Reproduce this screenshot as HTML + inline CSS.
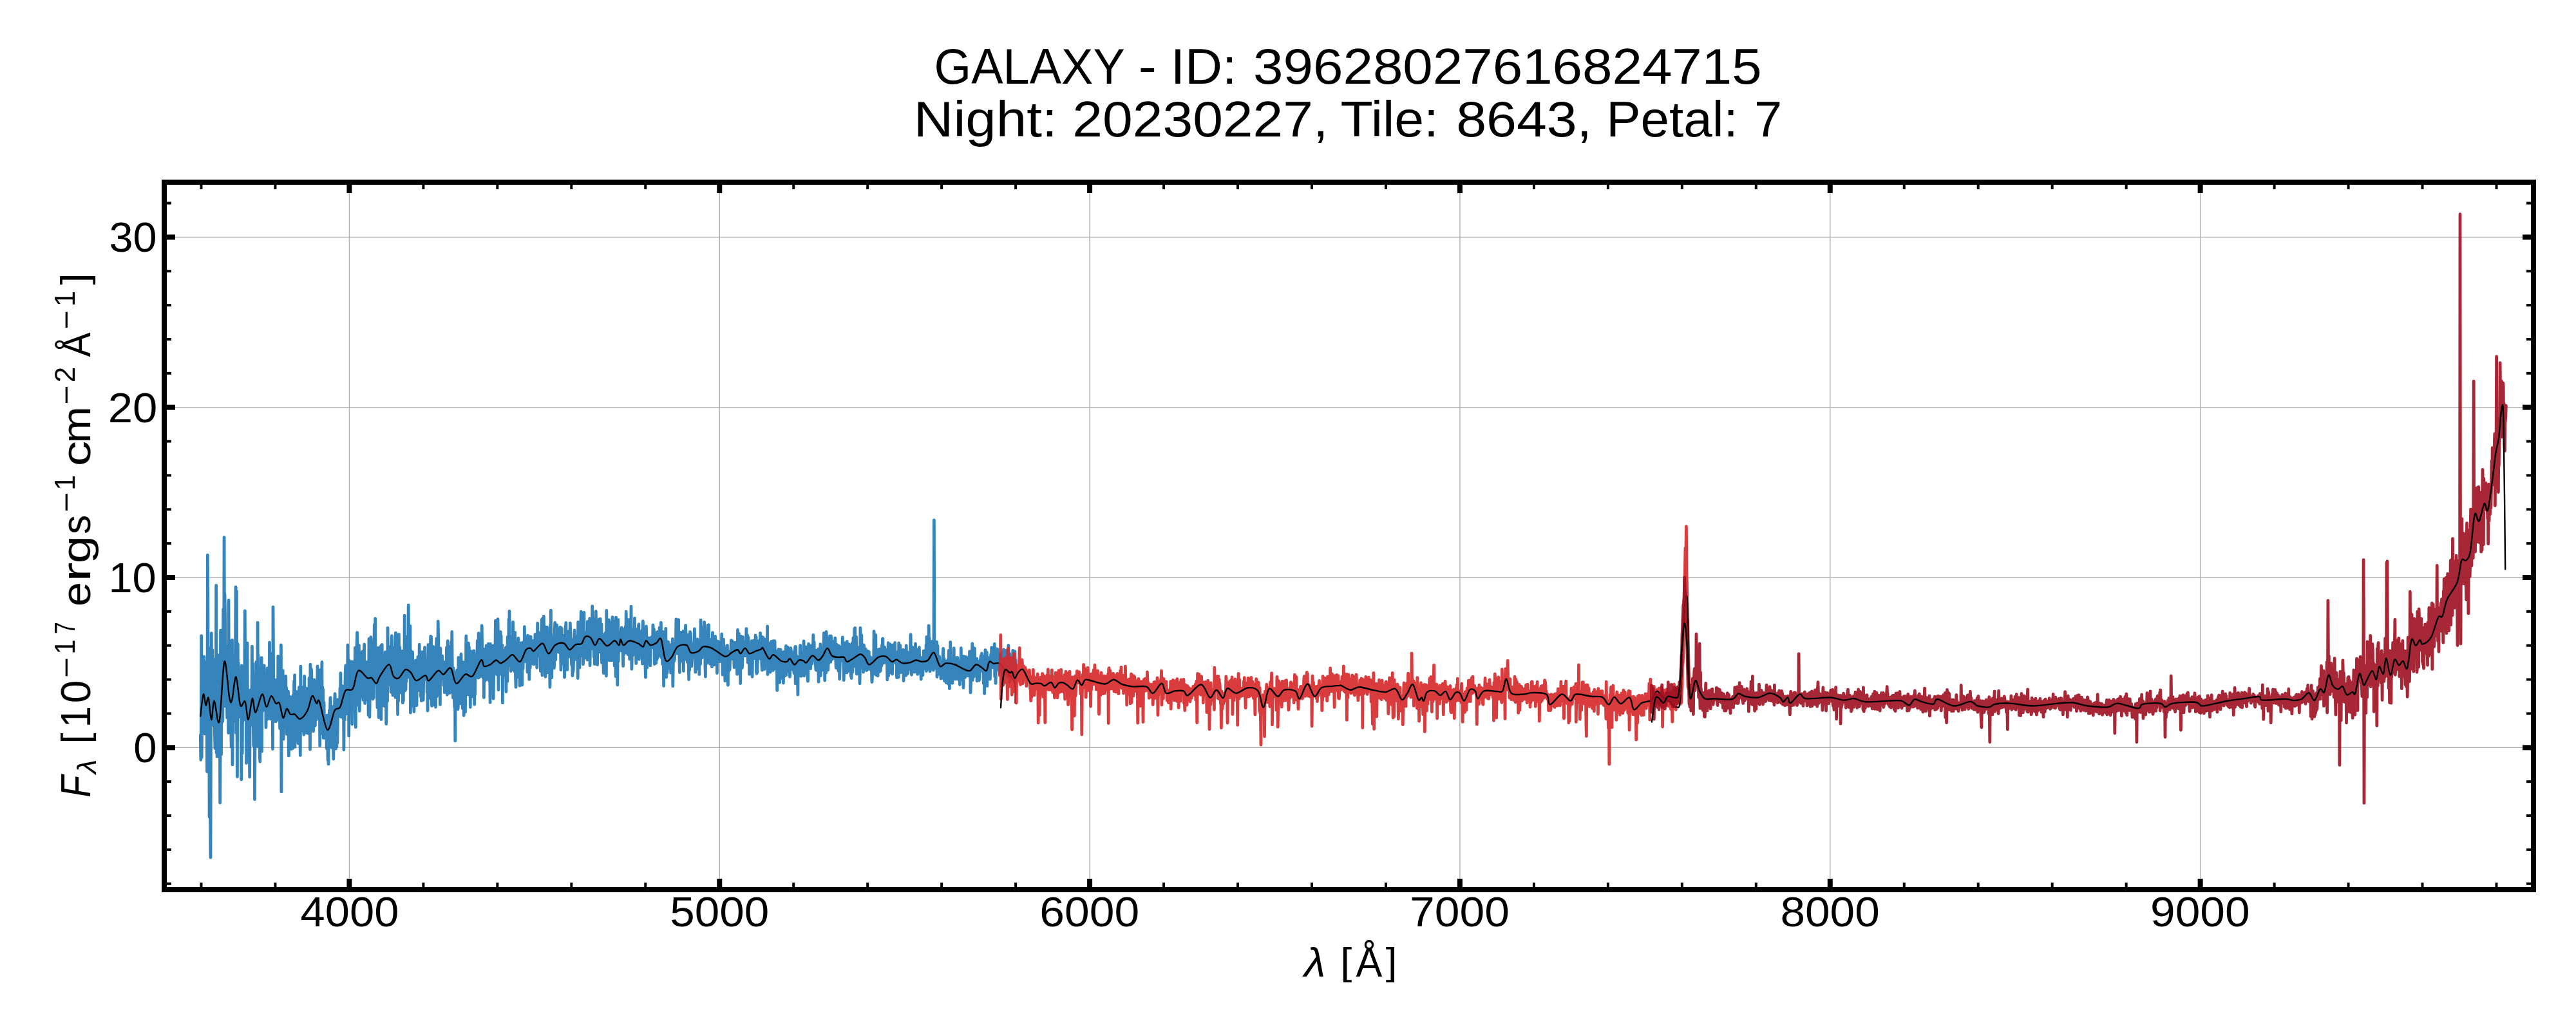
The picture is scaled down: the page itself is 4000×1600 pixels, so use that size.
<!DOCTYPE html>
<html><head><meta charset="utf-8"><title>GALAXY spectrum</title>
<style>html,body{margin:0;padding:0;background:#fff;overflow:hidden}svg{display:block}text{font-family:"Liberation Sans",sans-serif;fill:#000}</style></head>
<body><svg width="4000" height="1600" viewBox="0 0 4000 1600">
<rect x="0" y="0" width="4000" height="1600" fill="#fff"/>
<defs><clipPath id="ax"><rect x="255" y="283" width="3679" height="1099"/></clipPath></defs>
<g stroke="#b0b0b0" stroke-width="1.4" fill="none"><line x1="542.42" y1="283" x2="542.42" y2="1382"/><line x1="1117.26" y1="283" x2="1117.26" y2="1382"/><line x1="1692.10" y1="283" x2="1692.10" y2="1382"/><line x1="2266.94" y1="283" x2="2266.94" y2="1382"/><line x1="2841.78" y1="283" x2="2841.78" y2="1382"/><line x1="3416.62" y1="283" x2="3416.62" y2="1382"/><line x1="255" y1="1161.30" x2="3934" y2="1161.30"/><line x1="255" y1="897.00" x2="3934" y2="897.00"/><line x1="255" y1="632.70" x2="3934" y2="632.70"/><line x1="255" y1="368.40" x2="3934" y2="368.40"/></g>
<g clip-path="url(#ax)" fill="none" stroke-linejoin="round" stroke-linecap="round">
<path d="M311.3 1142.1 L311.8 1180.3 312.3 1133.8 312.7 987.7 313.2 1176.8 313.6 1133.3 314.1 1044.5 314.6 1137.9 315.0 1115.6 315.5 1106.0 315.9 1081.6 316.4 1128.0 316.9 1020.1 317.3 1071.2 317.8 1046.0 318.2 1139.9 318.7 1094.4 319.2 1068.3 319.6 1029.0 320.1 1072.7 320.5 1093.7 321.0 1068.6 321.5 1198.6 321.9 1173.1 322.4 862.2 322.8 929.7 323.3 1070.7 323.8 1050.0 324.2 1105.9 324.7 1109.6 325.1 1269.0 325.6 1007.6 326.1 1071.3 326.5 1272.0 327.0 1332.0 327.4 1166.2 327.9 1074.3 328.3 983.7 328.8 1127.2 329.3 1119.5 329.7 1009.4 330.2 1050.2 330.6 1096.0 331.1 1023.9 331.6 1088.0 332.0 1100.3 332.5 1092.6 332.9 1050.3 333.4 1137.7 333.9 1162.4 334.3 1120.1 334.8 1034.6 335.2 1155.0 335.7 909.5 336.2 1169.4 336.6 1024.0 337.1 1175.3 337.5 1107.0 338.0 1017.5 338.5 1089.0 338.9 1118.1 339.4 1136.0 339.8 1046.1 340.3 1039.1 340.8 1132.6 341.2 1079.1 341.7 1247.0 342.1 1156.2 342.6 979.1 343.1 1109.1 343.5 1172.0 344.0 1059.3 344.4 1018.2 344.9 1121.7 345.4 1081.5 345.8 1120.3 346.3 1029.5 346.7 946.5 347.2 1034.8 347.7 1006.7 348.1 834.6 348.6 1041.8 349.0 923.4 349.5 956.1 350.0 1097.1 350.4 1086.7 350.9 1003.3 351.3 1048.5 351.8 1080.8 352.3 1085.5 352.7 1115.0 353.2 1078.2 353.6 1058.9 354.1 1051.8 354.6 1138.6 355.0 932.5 355.5 1069.4 355.9 1083.5 356.4 995.1 356.9 1105.2 357.3 1044.5 357.8 1138.4 358.2 1077.8 358.7 1126.8 359.2 1160.5 359.6 1109.7 360.1 1033.8 360.5 994.1 361.0 1187.9 361.5 1073.4 361.9 1036.5 362.4 1083.4 362.8 1060.9 363.3 1119.6 363.8 1068.9 364.2 1065.1 364.7 1020.2 365.1 1086.1 365.6 996.9 366.1 912.0 366.5 1138.7 367.0 968.3 367.4 918.5 367.9 1095.5 368.4 1206.5 368.8 1011.0 369.3 1000.4 369.7 1105.3 370.2 1029.6 370.7 1051.1 371.1 1062.8 371.6 1113.6 372.0 1065.9 372.5 1105.7 373.0 1084.2 373.4 1049.9 373.9 1077.7 374.3 1043.7 374.8 1211.0 375.3 1033.9 375.7 1035.3 376.2 1170.5 376.6 1089.9 377.1 1089.5 377.6 1119.1 378.0 1069.5 378.5 1079.3 378.9 1113.3 379.4 1105.4 379.9 1029.6 380.3 949.0 380.8 1060.3 381.2 1038.6 381.7 1049.4 382.2 1078.5 382.6 1185.6 383.1 1043.1 383.5 1114.7 384.0 998.9 384.5 1111.4 384.9 1160.2 385.4 1104.5 385.8 1084.5 386.3 1126.1 386.8 1147.5 387.2 1143.2 387.7 1207.1 388.1 1115.2 388.6 1072.2 389.1 1093.4 389.5 1093.7 390.0 1100.3 390.4 1091.0 390.9 1098.7 391.4 1004.1 391.8 1126.7 392.3 1058.6 392.7 1030.9 393.2 1122.7 393.7 1158.3 394.1 1119.4 394.6 1104.9 395.0 1053.0 395.5 1241.8 396.0 1145.9 396.4 1049.0 396.9 1068.6 397.3 1109.6 397.8 1028.5 398.3 1111.0 398.7 1079.3 399.2 1159.5 399.6 1145.4 400.1 967.2 400.5 1098.4 401.0 1017.6 401.5 1147.0 401.9 1100.6 402.4 1117.5 402.8 1039.4 403.3 1175.6 403.8 1183.2 404.2 1035.9 404.7 1102.5 405.1 1051.9 405.6 1081.3 406.1 1021.7 406.5 1167.2 407.0 1033.3 407.4 1066.0 407.9 1104.4 408.4 1052.4 408.8 1072.7 409.3 1059.1 409.7 1080.3 410.2 1033.9 410.7 1069.0 411.1 1081.0 411.6 1076.6 412.0 1095.8 412.5 1081.2 413.0 1130.1 413.4 1082.6 413.9 1091.7 414.3 1066.8 414.8 1072.1 415.3 1037.9 415.7 1117.0 416.2 1041.4 416.6 1058.2 417.1 1106.5 417.6 1107.3 418.0 1070.6 418.5 997.8 418.9 1104.8 419.4 1096.6 419.9 1021.9 420.3 1116.9 420.8 1051.3 421.2 1032.3 421.7 1086.4 422.2 1075.2 422.6 1092.5 423.1 1014.7 423.5 1163.5 424.0 943.0 424.5 1020.1 424.9 1113.8 425.4 1072.7 425.8 1102.5 426.3 1074.8 426.8 1087.5 427.2 1101.2 427.7 1059.7 428.1 1120.9 428.6 1072.7 429.1 1055.9 429.5 1095.8 430.0 1111.3 430.4 1083.0 430.9 1056.5 431.4 1118.4 431.8 1019.3 432.3 1049.7 432.7 1094.2 433.2 1036.3 433.7 1093.7 434.1 1090.6 434.6 1131.7 435.0 1059.1 435.5 1072.8 436.0 1113.8 436.4 1002.0 436.9 1229.9 437.3 1077.5 437.8 1078.1 438.3 1144.2 438.7 1109.7 439.2 1041.7 439.6 1140.1 440.1 1148.2 440.6 1094.9 441.0 1100.5 441.5 1129.9 441.9 1073.4 442.4 1125.6 442.9 1115.0 443.3 1079.4 443.8 1050.2 444.2 1094.8 444.7 1068.3 445.2 1140.4 445.6 1107.1 446.1 1132.5 446.5 1108.1 447.0 1113.7 447.5 1074.1 447.9 1130.6 448.4 1174.0 448.8 1094.5 449.3 1084.4 449.8 1101.7 450.2 1090.1 450.7 1082.5 451.1 1114.7 451.6 1098.5 452.1 1163.6 452.5 1109.5 453.0 1121.6 453.4 1145.0 453.9 1098.3 454.4 1162.8 454.8 1086.0 455.3 1079.6 455.7 1096.0 456.2 1105.2 456.7 1058.1 457.1 1108.2 457.6 1048.6 458.0 1160.4 458.5 1107.2 459.0 1087.3 459.4 1078.1 459.9 1097.5 460.3 1103.7 460.8 1074.6 461.3 1079.5 461.7 1106.2 462.2 1094.7 462.6 1147.4 463.1 1154.8 463.6 1115.1 464.0 1131.8 464.5 1067.7 464.9 1138.5 465.4 1115.0 465.9 1133.8 466.3 1173.4 466.8 1035.1 467.2 1124.8 467.7 1076.1 468.2 1135.4 468.6 1067.5 469.1 1095.9 469.5 1120.0 470.0 1134.0 470.5 1114.5 470.9 1083.4 471.4 1091.3 471.8 1141.3 472.3 1109.5 472.7 1050.2 473.2 1138.2 473.7 1122.7 474.1 1138.1 474.6 1095.3 475.0 1135.4 475.5 1069.1 476.0 1125.3 476.4 1087.9 476.9 1127.9 477.3 1138.8 477.8 1077.1 478.3 1099.4 478.7 1101.1 479.2 1139.5 479.6 1121.5 480.1 1053.5 480.6 1109.9 481.0 1118.3 481.5 1164.3 481.9 1032.2 482.4 1070.0 482.9 1132.7 483.3 1039.2 483.8 1043.2 484.2 1100.5 484.7 1116.1 485.2 1059.2 485.6 1101.2 486.1 1087.6 486.5 1136.0 487.0 1085.1 487.5 1119.5 487.9 1056.0 488.4 1081.1 488.8 1084.9 489.3 1127.4 489.8 1109.3 490.2 1065.1 490.7 1114.2 491.1 1117.9 491.6 1088.7 492.1 1083.6 492.5 1085.4 493.0 1034.8 493.4 1097.7 493.9 1098.9 494.4 1061.8 494.8 1115.3 495.3 1044.4 495.7 1071.5 496.2 1074.7 496.7 1158.2 497.1 1040.7 497.6 1114.1 498.0 1128.3 498.5 1111.2 499.0 1139.4 499.4 1068.8 499.9 1028.3 500.3 1130.5 500.8 1067.4 501.3 1097.7 501.7 1071.2 502.2 1146.4 502.6 1141.9 503.1 1091.2 503.6 1146.4 504.0 1122.2 504.5 1115.3 504.9 1123.4 505.4 1116.4 505.9 1145.0 506.3 1136.6 506.8 1116.5 507.2 1162.8 507.7 1111.1 508.2 1142.4 508.6 1147.0 509.1 1180.6 509.5 1113.9 510.0 1186.9 510.5 1134.0 510.9 1148.6 511.4 1103.5 511.8 1143.9 512.3 1124.9 512.8 1085.7 513.2 1083.6 513.7 1101.3 514.1 1096.1 514.6 1153.2 515.1 1161.4 515.5 1143.4 516.0 1125.4 516.4 1098.2 516.9 1112.9 517.4 1139.1 517.8 1179.0 518.3 1137.6 518.7 1097.0 519.2 1106.3 519.7 1087.9 520.1 1077.7 520.6 1097.1 521.0 1109.4 521.5 1163.2 522.0 1104.0 522.4 1146.8 522.9 1160.0 523.3 1104.0 523.8 1154.1 524.3 1124.4 524.7 1086.7 525.2 1108.9 525.6 1100.6 526.1 1091.9 526.6 1092.7 527.0 1103.7 527.5 1112.9 527.9 1069.1 528.4 1097.0 528.9 1045.7 529.3 1103.1 529.8 1113.7 530.2 1097.2 530.7 1099.8 531.2 1108.5 531.6 1065.7 532.1 1078.4 532.5 1101.7 533.0 1116.5 533.5 1095.1 533.9 1164.8 534.4 1076.4 534.8 1110.9 535.3 1118.3 535.8 1070.8 536.2 1046.9 536.7 1033.9 537.1 1078.0 537.6 1109.1 538.1 1081.4 538.5 1078.0 539.0 1059.8 539.4 1090.6 539.9 1001.9 540.4 1079.5 540.8 1072.7 541.3 1026.7 541.7 1142.9 542.2 1026.0 542.6 1036.0 543.1 1031.9 543.6 1107.5 544.0 1041.9 544.5 1092.8 544.9 1090.0 545.4 1079.1 545.9 1027.8 546.3 1050.4 546.8 1125.0 547.2 1028.0 547.7 1042.9 548.2 1063.5 548.6 1093.7 549.1 1074.0 549.5 1088.5 550.0 1027.9 550.5 1092.0 550.9 1078.2 551.4 1006.1 551.8 1106.8 552.3 1129.7 552.8 1028.5 553.2 1053.8 553.7 1095.9 554.1 1000.7 554.6 982.6 555.1 1003.6 555.5 1025.9 556.0 1024.0 556.4 1061.8 556.9 1051.1 557.4 1002.3 557.8 1061.6 558.3 1104.4 558.7 1082.8 559.2 1076.4 559.7 1045.3 560.1 1076.9 560.6 1014.0 561.0 1070.1 561.5 1043.3 562.0 1083.1 562.4 1061.9 562.9 1011.9 563.3 1051.7 563.8 1087.4 564.3 1011.7 564.7 1030.6 565.2 1024.2 565.6 1001.0 566.1 1080.9 566.6 1092.5 567.0 1076.4 567.5 1058.7 567.9 1049.6 568.4 1059.3 568.9 1028.3 569.3 1081.2 569.8 1086.5 570.2 1083.2 570.7 1036.0 571.2 1055.7 571.6 1047.8 572.1 1110.8 572.5 1058.9 573.0 992.5 573.5 1066.0 573.9 1113.8 574.4 1075.2 574.8 1081.5 575.3 1054.3 575.8 989.7 576.2 994.9 576.7 1013.1 577.1 1049.1 577.6 1063.7 578.1 1076.4 578.5 1043.9 579.0 1086.1 579.4 1046.9 579.9 1033.8 580.4 1084.2 580.8 1028.1 581.3 970.5 581.7 1024.5 582.2 1062.1 582.7 960.9 583.1 1048.7 583.6 1050.0 584.0 1015.5 584.5 1014.0 585.0 1045.7 585.4 1042.1 585.9 1099.0 586.3 1069.7 586.8 1006.3 587.3 1028.6 587.7 1077.5 588.2 1114.6 588.6 1065.5 589.1 1062.1 589.6 1110.7 590.0 1049.7 590.5 1039.9 590.9 1004.1 591.4 1032.2 591.9 1117.5 592.3 1002.1 592.8 1047.2 593.2 1001.4 593.7 1049.7 594.2 1073.3 594.6 1036.7 595.1 1067.1 595.5 1066.2 596.0 1056.9 596.5 1096.7 596.9 1066.3 597.4 1031.3 597.8 1018.7 598.3 1012.9 598.8 1054.3 599.2 1028.3 599.7 1124.6 600.1 1095.9 600.6 1030.0 601.1 1025.8 601.5 1089.2 602.0 975.4 602.4 1020.2 602.9 1064.0 603.4 1004.4 603.8 1017.6 604.3 1021.6 604.7 1054.8 605.2 1039.5 605.7 1049.1 606.1 1056.4 606.6 1039.8 607.0 1075.2 607.5 1018.3 608.0 997.2 608.4 987.6 608.9 993.8 609.3 1028.8 609.8 1079.9 610.3 1054.1 610.7 1031.0 611.2 1016.7 611.6 1033.9 612.1 1038.0 612.6 1033.1 613.0 1005.9 613.5 1036.2 613.9 1083.4 614.4 983.1 614.8 1044.1 615.3 985.1 615.8 1057.7 616.2 1028.6 616.7 986.7 617.1 1055.6 617.6 1109.7 618.1 1056.1 618.5 1089.3 619.0 1050.8 619.4 985.3 619.9 1067.8 620.4 1038.7 620.8 1005.4 621.3 1075.2 621.7 1059.0 622.2 1033.0 622.7 1076.1 623.1 1021.0 623.6 1067.8 624.0 1017.7 624.5 1063.2 625.0 1011.5 625.4 1091.9 625.9 1052.7 626.3 1089.0 626.8 1017.9 627.3 1028.1 627.7 1068.6 628.2 956.2 628.6 1008.0 629.1 1072.9 629.6 1054.8 630.0 1071.0 630.5 1031.1 630.9 1058.6 631.4 1018.5 631.9 998.7 632.3 988.9 632.8 1024.8 633.2 1025.1 633.7 1022.9 634.2 940.0 634.6 980.8 635.1 1026.6 635.5 1052.4 636.0 1025.7 636.5 1016.7 636.9 972.5 637.4 1107.2 637.8 1010.5 638.3 1097.5 638.8 1094.4 639.2 1055.1 639.7 1029.5 640.1 1052.1 640.6 1012.9 641.1 1057.4 641.5 1050.1 642.0 1067.1 642.4 1080.7 642.9 1105.5 643.4 1040.7 643.8 1085.5 644.3 1029.6 644.7 1027.2 645.2 1036.4 645.7 1025.8 646.1 1086.9 646.6 1085.3 647.0 1095.8 647.5 1055.7 648.0 1064.6 648.4 1038.2 648.9 1020.4 649.3 1069.1 649.8 1063.4 650.3 1021.0 650.7 1072.5 651.2 1001.2 651.6 1048.7 652.1 1034.6 652.6 1037.5 653.0 1020.3 653.5 1082.1 653.9 1070.1 654.4 1088.6 654.9 1056.3 655.3 1012.6 655.8 1040.3 656.2 1015.4 656.7 1064.9 657.2 1087.4 657.6 1060.4 658.1 1032.0 658.5 1038.7 659.0 1055.8 659.5 1005.6 659.9 1053.6 660.4 1054.8 660.8 1032.9 661.3 1037.3 661.8 1055.7 662.2 1026.4 662.7 1027.0 663.1 1075.8 663.6 1059.7 664.1 1104.1 664.5 1024.7 665.0 1001.5 665.4 1083.7 665.9 1084.8 666.4 1034.0 666.8 1011.6 667.3 1053.6 667.7 1002.2 668.2 1043.8 668.7 988.3 669.1 1045.8 669.6 989.2 670.0 1044.8 670.5 1096.5 671.0 1042.9 671.4 1073.2 671.9 1030.7 672.3 1022.7 672.8 1004.3 673.3 1079.1 673.7 1046.0 674.2 1095.2 674.6 1011.7 675.1 1039.5 675.6 1047.9 676.0 1086.8 676.5 1098.4 676.9 1024.9 677.4 1010.0 677.9 991.8 678.3 1081.8 678.8 1039.4 679.2 1022.4 679.7 1039.4 680.2 965.2 680.6 990.0 681.1 1068.4 681.5 1052.9 682.0 1046.0 682.5 1012.5 682.9 1059.4 683.4 1094.5 683.8 1007.0 684.3 1043.5 684.8 1030.7 685.2 1054.2 685.7 1044.4 686.1 1040.0 686.6 1018.9 687.0 1044.5 687.5 1027.3 688.0 1041.3 688.4 1044.0 688.9 1064.7 689.3 1028.4 689.8 1035.5 690.3 1075.6 690.7 1037.8 691.2 1036.2 691.6 1068.4 692.1 1050.9 692.6 1045.2 693.0 1048.6 693.5 1006.0 693.9 1054.7 694.4 1079.3 694.9 1057.5 695.3 995.6 695.8 1048.2 696.2 1013.6 696.7 1032.8 697.2 1042.6 697.6 1004.3 698.1 1076.5 698.5 1035.9 699.0 1060.2 699.5 1055.3 699.9 1075.4 700.4 1072.3 700.8 997.5 701.3 1042.1 701.8 981.3 702.2 1030.8 702.7 1065.2 703.1 1072.1 703.6 1084.1 704.1 1038.0 704.5 1059.1 705.0 1054.1 705.4 1088.6 705.9 1099.0 706.4 1045.0 706.8 1150.9 707.3 1057.7 707.7 1048.7 708.2 1077.3 708.7 1081.8 709.1 1075.3 709.6 1041.1 710.0 1100.6 710.5 1060.1 711.0 1101.5 711.4 1096.9 711.9 1021.5 712.3 1029.3 712.8 1028.3 713.3 1063.0 713.7 1057.1 714.2 1062.7 714.6 1031.9 715.1 1066.2 715.6 1093.1 716.0 1016.0 716.5 1047.5 716.9 1059.4 717.4 1048.4 717.9 1046.1 718.3 1100.4 718.8 1086.4 719.2 1073.9 719.7 1028.6 720.2 1111.6 720.6 1058.9 721.1 1032.4 721.5 1038.6 722.0 1033.9 722.5 1105.9 722.9 1052.9 723.4 1049.1 723.8 988.0 724.3 1068.0 724.8 1018.5 725.2 1016.7 725.7 1064.9 726.1 1024.3 726.6 1071.2 727.1 1079.2 727.5 999.2 728.0 1044.8 728.4 1005.4 728.9 1047.1 729.4 1073.9 729.8 1011.6 730.3 1098.5 730.7 1040.7 731.2 1017.0 731.7 1046.0 732.1 1071.2 732.6 1012.0 733.0 1049.8 733.5 1012.4 734.0 1082.1 734.4 1052.7 734.9 1036.0 735.3 1074.9 735.8 1010.9 736.3 1034.3 736.7 1094.2 737.2 1039.9 737.6 1079.2 738.1 1046.8 738.6 1021.7 739.0 1033.2 739.5 1041.0 739.9 1027.0 740.4 1015.0 740.9 1015.3 741.3 995.5 741.8 1037.6 742.2 1044.4 742.7 1053.1 743.2 983.6 743.6 1052.8 744.1 1029.9 744.5 991.2 745.0 1031.3 745.5 1049.6 745.9 1040.9 746.4 1045.5 746.8 1050.5 747.3 1049.4 747.8 1025.5 748.2 971.9 748.7 1008.1 749.1 1038.7 749.6 1017.7 750.1 1049.3 750.5 1053.2 751.0 1034.2 751.4 1083.6 751.9 1008.4 752.4 1058.8 752.8 1021.5 753.3 1013.3 753.7 1049.3 754.2 1017.5 754.7 1056.2 755.1 1002.8 755.6 1034.3 756.0 1011.1 756.5 1026.9 757.0 1023.2 757.4 1003.3 757.9 1049.9 758.3 1000.1 758.8 1006.9 759.2 1055.7 759.7 1057.7 760.2 1049.6 760.6 1041.0 761.1 1091.3 761.5 1000.1 762.0 1011.9 762.5 1005.1 762.9 1053.9 763.4 1037.7 763.8 1058.7 764.3 1054.8 764.8 1023.4 765.2 1007.7 765.7 1002.9 766.1 1085.3 766.6 1052.8 767.1 1042.8 767.5 1018.5 768.0 1021.8 768.4 1017.7 768.9 1017.9 769.4 964.1 769.8 1023.9 770.3 1015.4 770.7 1032.9 771.2 1031.1 771.7 1047.9 772.1 1026.0 772.6 1047.0 773.0 961.7 773.5 999.3 774.0 1071.5 774.4 996.9 774.9 1021.1 775.3 1046.5 775.8 1006.5 776.3 1047.5 776.7 993.3 777.2 981.3 777.6 996.0 778.1 987.5 778.6 1028.6 779.0 1020.8 779.5 1036.8 779.9 1002.1 780.4 1091.9 780.9 1025.3 781.3 1026.2 781.8 1038.6 782.2 1020.7 782.7 1010.7 783.2 1028.4 783.6 1049.0 784.1 1042.4 784.5 1049.0 785.0 1011.1 785.5 1005.6 785.9 1074.6 786.4 1018.4 786.8 1036.0 787.3 1042.1 787.8 1058.6 788.2 989.5 788.7 1010.7 789.1 1011.5 789.6 1014.4 790.1 961.9 790.5 1018.8 791.0 949.4 791.4 1027.8 791.9 1033.3 792.4 1034.4 792.8 989.7 793.3 1042.5 793.7 997.4 794.2 988.2 794.7 993.9 795.1 996.8 795.6 1021.4 796.0 1037.2 796.5 966.1 797.0 1004.7 797.4 1040.3 797.9 1023.7 798.3 1031.6 798.8 983.2 799.3 1043.3 799.7 982.5 800.2 1025.7 800.6 1054.5 801.1 1067.4 801.6 1034.7 802.0 1044.1 802.5 1008.5 802.9 1012.0 803.4 1052.2 803.9 1024.5 804.3 1021.8 804.8 991.4 805.2 1029.3 805.7 1041.7 806.2 1007.5 806.6 1014.8 807.1 1065.3 807.5 1032.1 808.0 1020.1 808.5 998.9 808.9 1010.3 809.4 1018.2 809.8 1055.9 810.3 1007.8 810.8 1064.1 811.2 998.4 811.7 1011.1 812.1 1038.7 812.6 1012.1 813.1 997.2 813.5 1012.8 814.0 1025.6 814.4 973.6 814.9 1007.3 815.4 1009.7 815.8 1001.8 816.3 1027.7 816.7 996.1 817.2 1000.5 817.7 1009.8 818.1 1025.9 818.6 1003.5 819.0 1044.0 819.5 987.1 820.0 1038.2 820.4 988.0 820.9 1004.1 821.3 1016.2 821.8 1055.4 822.3 1028.3 822.7 997.8 823.2 1037.3 823.6 1002.0 824.1 988.8 824.6 1018.0 825.0 1010.2 825.5 1030.6 825.9 996.3 826.4 1018.2 826.9 1024.5 827.3 1016.8 827.8 1010.1 828.2 995.2 828.7 1032.1 829.2 1014.1 829.6 1021.8 830.1 1002.0 830.5 1009.8 831.0 985.4 831.4 1010.6 831.9 1025.6 832.4 1009.8 832.8 1026.8 833.3 1013.9 833.7 1037.3 834.2 1001.5 834.7 968.2 835.1 1014.7 835.6 1000.8 836.0 982.2 836.5 1018.7 837.0 1009.7 837.4 1013.5 837.9 995.7 838.3 1007.3 838.8 1008.3 839.3 1042.3 839.7 986.7 840.2 1001.6 840.6 1009.7 841.1 962.6 841.6 965.1 842.0 1049.2 842.5 961.0 842.9 1013.0 843.4 981.0 843.9 983.7 844.3 957.4 844.8 982.4 845.2 1020.7 845.7 973.3 846.2 1018.1 846.6 1012.7 847.1 1051.3 847.5 997.0 848.0 1036.2 848.5 1028.8 848.9 1003.7 849.4 974.2 849.8 1044.9 850.3 982.5 850.8 1003.0 851.2 1033.6 851.7 1039.6 852.1 996.3 852.6 1013.5 853.1 1008.0 853.5 1039.0 854.0 1067.4 854.4 971.8 854.9 1031.4 855.4 948.1 855.8 1010.5 856.3 985.3 856.7 1052.6 857.2 1012.0 857.7 991.7 858.1 996.3 858.6 994.1 859.0 1010.2 859.5 1002.0 860.0 1019.2 860.4 1037.9 860.9 1019.0 861.3 976.4 861.8 967.1 862.3 985.7 862.7 1025.0 863.2 994.7 863.6 987.3 864.1 1004.7 864.6 970.8 865.0 976.7 865.5 1012.5 865.9 994.7 866.4 991.3 866.9 1007.9 867.3 988.2 867.8 985.9 868.2 990.7 868.7 1013.6 869.2 1001.8 869.6 974.4 870.1 993.7 870.5 1014.1 871.0 1040.5 871.5 975.2 871.9 1007.1 872.4 994.1 872.8 1017.4 873.3 1009.1 873.8 1031.1 874.2 1010.4 874.7 987.3 875.1 987.4 875.6 1008.3 876.1 1008.6 876.5 1052.2 877.0 1037.2 877.4 976.3 877.9 1009.6 878.4 973.9 878.8 967.4 879.3 1019.6 879.7 1015.9 880.2 982.3 880.7 1040.4 881.1 984.6 881.6 981.0 882.0 1020.6 882.5 1011.9 883.0 1004.2 883.4 1006.7 883.9 1013.4 884.3 1006.1 884.8 1005.2 885.3 967.9 885.7 979.4 886.2 1020.8 886.6 992.3 887.1 1018.6 887.6 1033.0 888.0 998.6 888.5 1011.8 888.9 1049.7 889.4 1019.8 889.9 1043.9 890.3 1036.9 890.8 1019.9 891.2 1001.0 891.7 985.1 892.2 979.0 892.6 1012.6 893.1 1011.8 893.5 997.7 894.0 1019.3 894.5 988.3 894.9 1024.7 895.4 1001.9 895.8 1000.2 896.3 1000.9 896.8 998.8 897.2 1053.6 897.7 966.5 898.1 1004.4 898.6 1026.9 899.1 1015.7 899.5 994.0 900.0 1037.2 900.4 977.7 900.9 972.6 901.4 1012.2 901.8 969.3 902.3 949.8 902.7 1018.6 903.2 1015.7 903.6 1014.2 904.1 987.6 904.6 1000.8 905.0 975.7 905.5 1031.8 905.9 1011.0 906.4 1009.1 906.9 951.5 907.3 1008.7 907.8 1022.2 908.2 1015.5 908.7 1005.8 909.2 989.3 909.6 982.2 910.1 1002.1 910.5 997.5 911.0 994.5 911.5 983.2 911.9 1025.0 912.4 965.3 912.8 989.4 913.3 977.8 913.8 1011.7 914.2 1020.1 914.7 1016.2 915.1 1006.1 915.6 961.0 916.1 1033.9 916.5 1001.3 917.0 988.3 917.4 991.8 917.9 985.0 918.4 1001.7 918.8 1000.1 919.3 986.9 919.7 941.6 920.2 995.2 920.7 1006.6 921.1 1008.4 921.6 995.0 922.0 1008.4 922.5 1021.1 923.0 990.7 923.4 1031.7 923.9 961.4 924.3 975.6 924.8 982.3 925.3 949.7 925.7 979.0 926.2 1024.9 926.6 1024.1 927.1 999.7 927.6 1032.6 928.0 1001.3 928.5 985.4 928.9 1000.0 929.4 991.5 929.9 1008.9 930.3 961.9 930.8 1012.9 931.2 982.7 931.7 1010.3 932.2 961.3 932.6 984.9 933.1 995.6 933.5 1013.0 934.0 969.8 934.5 1029.7 934.9 1005.7 935.4 985.4 935.8 1021.7 936.3 999.2 936.8 1021.3 937.2 1045.7 937.7 1014.2 938.1 988.0 938.6 990.6 939.1 1011.7 939.5 1006.1 940.0 983.5 940.4 987.4 940.9 1015.1 941.4 1050.0 941.8 948.5 942.3 1017.6 942.7 998.8 943.2 1018.7 943.7 1020.2 944.1 1003.2 944.6 981.1 945.0 973.0 945.5 963.0 946.0 1025.8 946.4 996.3 946.9 989.3 947.3 994.3 947.8 972.4 948.3 1005.5 948.7 1025.9 949.2 1021.9 949.6 966.6 950.1 1025.8 950.6 982.2 951.0 958.6 951.5 972.2 951.9 977.2 952.4 996.4 952.9 975.3 953.3 965.3 953.8 990.2 954.2 1034.3 954.7 981.4 955.2 1005.5 955.6 998.2 956.1 1050.8 956.5 959.1 957.0 1020.1 957.5 972.5 957.9 986.9 958.4 997.4 958.8 1064.1 959.3 984.9 959.8 962.6 960.2 1027.3 960.7 984.7 961.1 997.2 961.6 1000.5 962.1 1001.1 962.5 993.8 963.0 1000.8 963.4 1001.4 963.9 1010.7 964.4 985.8 964.8 980.3 965.3 974.9 965.7 1009.1 966.2 997.2 966.7 1010.1 967.1 1010.7 967.6 1034.6 968.0 1005.9 968.5 1017.1 969.0 977.6 969.4 979.8 969.9 994.8 970.3 976.3 970.8 1014.1 971.3 973.4 971.7 1001.0 972.2 950.2 972.6 976.9 973.1 991.8 973.6 993.1 974.0 962.2 974.5 999.7 974.9 1016.6 975.4 1009.8 975.8 983.4 976.3 984.5 976.8 972.3 977.2 1008.0 977.7 1023.9 978.1 985.0 978.6 961.9 979.1 999.7 979.5 1009.9 980.0 942.1 980.4 998.9 980.9 1039.3 981.4 1012.8 981.8 1007.6 982.3 1004.8 982.7 1018.0 983.2 978.5 983.7 980.6 984.1 1005.5 984.6 984.0 985.0 1002.8 985.5 960.1 986.0 1013.0 986.4 1014.9 986.9 999.2 987.3 1001.7 987.8 1030.6 988.3 977.5 988.7 981.0 989.2 977.6 989.6 990.9 990.1 979.5 990.6 1000.3 991.0 986.9 991.5 971.4 991.9 969.7 992.4 1024.3 992.9 999.4 993.3 996.6 993.8 1001.9 994.2 1000.1 994.7 1016.8 995.2 1013.3 995.6 991.1 996.1 986.8 996.5 982.0 997.0 979.1 997.5 1031.2 997.9 986.2 998.4 965.0 998.8 987.5 999.3 987.6 999.8 1008.5 1000.2 983.9 1000.7 1010.7 1001.1 1006.9 1001.6 1023.1 1002.1 1039.7 1002.5 1052.1 1003.0 1022.0 1003.4 972.9 1003.9 988.1 1004.4 1001.2 1004.8 1037.1 1005.3 1010.5 1005.7 1021.2 1006.2 994.9 1006.7 1010.2 1007.1 1013.1 1007.6 990.8 1008.0 1015.2 1008.5 1021.3 1009.0 997.9 1009.4 1021.2 1009.9 1033.9 1010.3 1003.5 1010.8 1002.0 1011.3 995.8 1011.7 989.6 1012.2 1004.5 1012.6 993.3 1013.1 995.0 1013.6 985.9 1014.0 971.0 1014.5 982.4 1014.9 1006.7 1015.4 977.3 1015.9 987.4 1016.3 1031.5 1016.8 1021.4 1017.2 986.0 1017.7 1010.9 1018.2 986.5 1018.6 1030.3 1019.1 987.4 1019.5 1000.1 1020.0 1024.8 1020.5 981.8 1020.9 1022.5 1021.4 981.3 1021.8 1001.2 1022.3 990.6 1022.8 994.2 1023.2 998.6 1023.7 993.7 1024.1 975.2 1024.6 1011.1 1025.1 1007.9 1025.5 1018.5 1026.0 1019.9 1026.4 967.1 1026.9 1019.5 1027.4 1021.9 1027.8 988.9 1028.3 1021.2 1028.7 1031.6 1029.2 995.2 1029.7 981.3 1030.1 1003.0 1030.6 1065.5 1031.0 1018.7 1031.5 993.0 1032.0 1013.6 1032.4 1001.5 1032.9 1015.1 1033.3 1026.7 1033.8 976.3 1034.3 1032.0 1034.7 1052.0 1035.2 1020.9 1035.6 1017.1 1036.1 1045.1 1036.6 999.8 1037.0 1000.0 1037.5 997.0 1037.9 1020.3 1038.4 1030.6 1038.9 1021.1 1039.3 1033.1 1039.8 1038.2 1040.2 1031.6 1040.7 1006.5 1041.2 1016.6 1041.6 1045.2 1042.1 1001.3 1042.5 1043.4 1043.0 1012.6 1043.5 1016.3 1043.9 998.4 1044.4 992.4 1044.8 1065.9 1045.3 1034.5 1045.7 1002.1 1046.2 1013.8 1046.7 1026.9 1047.1 1006.7 1047.6 1024.2 1048.0 1000.0 1048.5 1004.1 1049.0 1008.4 1049.4 1000.6 1049.9 961.9 1050.3 1008.0 1050.8 1011.8 1051.3 1015.1 1051.7 986.4 1052.2 1011.1 1052.6 1008.6 1053.1 970.9 1053.6 962.6 1054.0 1013.3 1054.5 986.1 1054.9 1023.0 1055.4 1044.5 1055.9 992.9 1056.3 990.8 1056.8 1003.6 1057.2 1016.4 1057.7 982.2 1058.2 1027.1 1058.6 1022.2 1059.1 1015.9 1059.5 993.1 1060.0 1020.5 1060.5 1019.3 1060.9 980.5 1061.4 1042.4 1061.8 997.3 1062.3 1009.8 1062.8 992.9 1063.2 1010.0 1063.7 1024.5 1064.1 987.4 1064.6 971.3 1065.1 993.9 1065.5 1004.0 1066.0 988.0 1066.4 1000.5 1066.9 1002.4 1067.4 1028.6 1067.8 986.1 1068.3 1012.5 1068.7 997.1 1069.2 1033.0 1069.7 1055.6 1070.1 1014.7 1070.6 1041.1 1071.0 1000.6 1071.5 981.3 1072.0 988.2 1072.4 983.2 1072.9 995.7 1073.3 1009.3 1073.8 1035.2 1074.3 1026.7 1074.7 1022.2 1075.2 1005.5 1075.6 999.9 1076.1 1013.9 1076.6 1015.8 1077.0 1017.9 1077.5 1019.9 1077.9 1010.7 1078.4 976.9 1078.9 991.9 1079.3 997.2 1079.8 1044.2 1080.2 1004.5 1080.7 1024.9 1081.2 1039.5 1081.6 1018.4 1082.1 1004.8 1082.5 1006.5 1083.0 992.9 1083.5 1017.5 1083.9 1032.7 1084.4 1022.2 1084.8 1025.8 1085.3 1024.3 1085.8 1047.7 1086.2 998.3 1086.7 1012.5 1087.1 1022.2 1087.6 1031.8 1088.1 963.2 1088.5 998.1 1089.0 1003.4 1089.4 987.7 1089.9 1022.1 1090.4 1010.0 1090.8 998.1 1091.3 974.7 1091.7 980.1 1092.2 986.4 1092.7 1013.1 1093.1 982.2 1093.6 966.5 1094.0 978.0 1094.5 994.0 1095.0 1035.9 1095.4 1051.2 1095.9 996.2 1096.3 1022.5 1096.8 1031.0 1097.3 1028.9 1097.7 1003.1 1098.2 981.3 1098.6 996.4 1099.1 971.1 1099.6 1009.9 1100.0 1019.9 1100.5 970.7 1100.9 1004.7 1101.4 1011.1 1101.9 1028.8 1102.3 1031.2 1102.8 1020.6 1103.2 993.3 1103.7 999.4 1104.2 1028.6 1104.6 995.6 1105.1 1006.2 1105.5 1035.9 1106.0 1009.9 1106.5 982.6 1106.9 1002.7 1107.4 1020.1 1107.8 1005.2 1108.3 1030.2 1108.8 1032.7 1109.2 997.5 1109.7 1000.5 1110.1 1008.1 1110.6 988.3 1111.1 1017.5 1111.5 1007.6 1112.0 1025.5 1112.4 1000.4 1112.9 995.6 1113.4 1045.6 1113.8 996.2 1114.3 1001.8 1114.7 999.4 1115.2 1007.5 1115.7 996.6 1116.1 1012.8 1116.6 1001.0 1117.0 1006.6 1117.5 1021.1 1117.9 1027.5 1118.4 1023.5 1118.9 1001.9 1119.3 1022.8 1119.8 1013.6 1120.2 1014.2 1120.7 985.0 1121.2 1028.9 1121.6 1014.4 1122.1 1048.2 1122.5 1029.1 1123.0 997.5 1123.5 993.1 1123.9 1039.2 1124.4 1002.7 1124.8 1031.3 1125.3 1013.7 1125.8 1057.6 1126.2 1021.1 1126.7 1047.4 1127.1 1043.8 1127.6 1010.9 1128.1 1013.1 1128.5 1045.7 1129.0 1018.5 1129.4 1002.5 1129.9 1039.8 1130.4 1064.3 1130.8 1016.8 1131.3 1042.6 1131.7 1014.1 1132.2 1041.3 1132.7 1012.2 1133.1 1040.4 1133.6 1025.9 1134.0 1012.5 1134.5 1019.8 1135.0 1005.5 1135.4 994.7 1135.9 995.7 1136.3 1013.5 1136.8 995.3 1137.3 1022.1 1137.7 1023.6 1138.2 1022.3 1138.6 1004.7 1139.1 1014.4 1139.6 1012.8 1140.0 1036.8 1140.5 998.3 1140.9 1005.7 1141.4 1008.2 1141.9 1009.6 1142.3 998.5 1142.8 1000.4 1143.2 1029.7 1143.7 999.8 1144.2 1027.5 1144.6 1047.3 1145.1 1033.5 1145.5 978.5 1146.0 1025.3 1146.5 1020.6 1146.9 1022.4 1147.4 984.2 1147.8 1027.4 1148.3 995.0 1148.8 1038.1 1149.2 1034.7 1149.7 1061.6 1150.1 1009.3 1150.6 988.5 1151.1 1033.7 1151.5 1030.1 1152.0 1007.2 1152.4 1037.6 1152.9 1025.1 1153.4 989.4 1153.8 1005.5 1154.3 1003.3 1154.7 1008.7 1155.2 1013.5 1155.7 997.2 1156.1 1005.4 1156.6 1018.8 1157.0 1006.8 1157.5 1003.9 1158.0 1003.8 1158.4 1008.0 1158.9 976.6 1159.3 1013.7 1159.8 993.3 1160.3 1013.8 1160.7 986.6 1161.2 1029.3 1161.6 1017.8 1162.1 990.4 1162.6 1018.9 1163.0 1001.9 1163.5 1047.4 1163.9 1024.9 1164.4 1002.2 1164.9 1019.9 1165.3 1015.2 1165.8 1036.6 1166.2 1021.7 1166.7 1024.2 1167.2 995.6 1167.6 1028.8 1168.1 1051.3 1168.5 1025.7 1169.0 1013.7 1169.5 1017.1 1169.9 997.5 1170.4 1017.1 1170.8 994.6 1171.3 1014.3 1171.8 1006.6 1172.2 998.7 1172.7 1023.0 1173.1 986.9 1173.6 1011.9 1174.1 989.5 1174.5 1044.0 1175.0 1046.3 1175.4 1026.6 1175.9 1044.6 1176.4 1021.9 1176.8 1020.9 1177.3 1004.0 1177.7 995.7 1178.2 1013.2 1178.7 1001.6 1179.1 1003.2 1179.6 1023.1 1180.0 1008.2 1180.5 983.3 1181.0 1006.1 1181.4 996.5 1181.9 1004.3 1182.3 990.2 1182.8 1029.4 1183.3 1041.2 1183.7 989.4 1184.2 1019.3 1184.6 1018.2 1185.1 990.4 1185.6 1011.3 1186.0 1034.5 1186.5 1025.6 1186.9 1039.6 1187.4 992.8 1187.9 1000.8 1188.3 1019.3 1188.8 1021.1 1189.2 1016.3 1189.7 1010.1 1190.1 1010.5 1190.6 1007.9 1191.1 1026.7 1191.5 972.9 1192.0 1047.8 1192.4 1012.5 1192.9 997.9 1193.4 1032.3 1193.8 999.9 1194.3 1030.3 1194.7 1016.5 1195.2 1033.0 1195.7 1035.9 1196.1 1044.1 1196.6 1013.3 1197.0 1016.3 1197.5 1020.6 1198.0 996.4 1198.4 1030.1 1198.9 1021.8 1199.3 996.4 1199.8 1039.3 1200.3 1041.6 1200.7 995.6 1201.2 1027.7 1201.6 1039.5 1202.1 1032.9 1202.6 1002.4 1203.0 995.7 1203.5 1017.8 1203.9 1011.7 1204.4 1020.3 1204.9 1019.1 1205.3 1030.1 1205.8 1012.0 1206.2 1019.2 1206.7 1072.6 1207.2 1020.4 1207.6 1035.5 1208.1 1028.2 1208.5 1027.4 1209.0 1008.6 1209.5 1033.3 1209.9 1023.9 1210.4 1039.0 1210.8 1060.2 1211.3 1029.0 1211.8 1039.1 1212.2 1009.2 1212.7 1028.9 1213.1 1053.2 1213.6 1026.0 1214.1 1016.3 1214.5 1030.6 1215.0 1024.1 1215.4 1023.2 1215.9 1021.0 1216.4 1061.0 1216.8 1012.7 1217.3 1020.5 1217.7 1017.9 1218.2 1048.7 1218.7 1023.0 1219.1 1049.9 1219.6 1030.7 1220.0 1027.5 1220.5 1003.3 1221.0 1048.6 1221.4 1037.3 1221.9 1035.1 1222.3 1025.8 1222.8 1020.3 1223.3 1005.4 1223.7 1042.4 1224.2 1030.5 1224.6 1019.4 1225.1 1014.4 1225.6 1026.5 1226.0 1022.6 1226.5 1051.4 1226.9 1037.1 1227.4 1014.6 1227.9 1006.6 1228.3 1021.9 1228.8 1011.1 1229.2 1028.4 1229.7 1034.6 1230.2 1039.1 1230.6 1036.0 1231.1 1026.4 1231.5 1040.4 1232.0 1015.8 1232.5 1030.1 1232.9 1045.8 1233.4 1037.6 1233.8 1011.2 1234.3 1012.7 1234.8 1004.5 1235.2 1061.8 1235.7 1004.7 1236.1 1028.1 1236.6 1061.0 1237.1 1047.7 1237.5 1051.3 1238.0 1020.2 1238.4 1040.7 1238.9 1079.1 1239.4 1026.7 1239.8 1033.8 1240.3 1021.1 1240.7 1025.9 1241.2 1032.5 1241.7 1049.7 1242.1 1011.1 1242.6 1002.3 1243.0 1026.9 1243.5 1030.0 1244.0 1050.4 1244.4 1038.8 1244.9 1016.2 1245.3 1036.3 1245.8 1045.7 1246.3 1031.7 1246.7 1021.2 1247.2 1038.4 1247.6 1021.1 1248.1 995.9 1248.6 1050.1 1249.0 1006.2 1249.5 1022.6 1249.9 1023.1 1250.4 1023.1 1250.9 1024.2 1251.3 1005.0 1251.8 1038.4 1252.2 1030.2 1252.7 1029.9 1253.2 1046.7 1253.6 1046.6 1254.1 1050.1 1254.5 1058.2 1255.0 1034.1 1255.5 1000.1 1255.9 1029.0 1256.4 1025.1 1256.8 1025.6 1257.3 1013.8 1257.8 1008.4 1258.2 1036.2 1258.7 1038.6 1259.1 1002.9 1259.6 1030.3 1260.1 1017.9 1260.5 1013.6 1261.0 1031.2 1261.4 1018.2 1261.9 1009.9 1262.3 1020.5 1262.8 986.4 1263.3 1010.3 1263.7 1013.2 1264.2 997.4 1264.6 1024.2 1265.1 1026.1 1265.6 1011.8 1266.0 1019.4 1266.5 1033.9 1266.9 1040.7 1267.4 1010.4 1267.9 1029.2 1268.3 1041.3 1268.8 1023.7 1269.2 1011.6 1269.7 1012.0 1270.2 1019.8 1270.6 1008.1 1271.1 1059.2 1271.5 1015.3 1272.0 1030.8 1272.5 1027.1 1272.9 1034.2 1273.4 1016.6 1273.8 1000.7 1274.3 1049.6 1274.8 1020.3 1275.2 1023.1 1275.7 1024.0 1276.1 1041.4 1276.6 1032.7 1277.1 1039.0 1277.5 1032.6 1278.0 1020.9 1278.4 1021.8 1278.9 1004.3 1279.4 983.5 1279.8 1011.2 1280.3 996.5 1280.7 1057.1 1281.2 1039.1 1281.7 1031.8 1282.1 1002.2 1282.6 1045.2 1283.0 981.3 1283.5 988.8 1284.0 995.2 1284.4 991.5 1284.9 1009.3 1285.3 1011.1 1285.8 1040.6 1286.3 1026.1 1286.7 1030.6 1287.2 1017.9 1287.6 1009.2 1288.1 1000.9 1288.6 987.9 1289.0 999.4 1289.5 1008.3 1289.9 1028.2 1290.4 988.0 1290.9 994.1 1291.3 1021.4 1291.8 1001.0 1292.2 1024.3 1292.7 1011.9 1293.2 1006.3 1293.6 996.7 1294.1 1017.6 1294.5 1007.0 1295.0 1009.1 1295.5 1008.8 1295.9 1022.7 1296.4 1022.2 1296.8 991.1 1297.3 1017.2 1297.8 1026.7 1298.2 1037.5 1298.7 1033.4 1299.1 1023.9 1299.6 1001.4 1300.1 1007.7 1300.5 1036.0 1301.0 1009.1 1301.4 1038.0 1301.9 1042.2 1302.4 1003.1 1302.8 1028.2 1303.3 1019.0 1303.7 1054.8 1304.2 1034.9 1304.7 1012.3 1305.1 1027.7 1305.6 1005.5 1306.0 1018.3 1306.5 1024.3 1307.0 1023.4 1307.4 1026.0 1307.9 1005.7 1308.3 989.9 1308.8 1014.8 1309.3 1006.0 1309.7 1009.2 1310.2 1056.6 1310.6 1040.6 1311.1 1018.9 1311.6 998.6 1312.0 1001.6 1312.5 1030.0 1312.9 1042.5 1313.4 1020.5 1313.9 1028.3 1314.3 1030.9 1314.8 1045.2 1315.2 996.4 1315.7 1030.2 1316.2 1034.1 1316.6 1042.9 1317.1 1033.5 1317.5 1008.3 1318.0 1016.7 1318.5 1000.7 1318.9 1029.2 1319.4 1028.9 1319.8 1034.0 1320.3 1009.1 1320.8 1006.0 1321.2 1050.2 1321.7 1027.6 1322.1 1053.5 1322.6 1031.4 1323.1 999.5 1323.5 1037.1 1324.0 1044.0 1324.4 1015.7 1324.9 990.8 1325.4 1033.7 1325.8 1020.0 1326.3 1026.7 1326.7 977.0 1327.2 1029.1 1327.7 975.4 1328.1 1006.5 1328.6 1035.5 1329.0 990.0 1329.5 989.1 1330.0 1012.4 1330.4 1047.0 1330.9 1046.2 1331.3 1008.9 1331.8 1035.4 1332.3 1028.1 1332.7 1022.6 1333.2 1023.8 1333.6 1005.6 1334.1 1030.7 1334.5 1034.8 1335.0 1061.8 1335.5 1031.8 1335.9 975.4 1336.4 996.4 1336.8 1022.3 1337.3 1018.3 1337.8 986.6 1338.2 1015.6 1338.7 1012.3 1339.1 1017.8 1339.6 1016.9 1340.1 1034.7 1340.5 1044.1 1341.0 1031.4 1341.4 1002.0 1341.9 1006.5 1342.4 1010.2 1342.8 1020.6 1343.3 1015.0 1343.7 1017.0 1344.2 1008.2 1344.7 1040.0 1345.1 1039.1 1345.6 1041.5 1346.0 1025.0 1346.5 1034.6 1347.0 1012.6 1347.4 1011.6 1347.9 1020.1 1348.3 1039.6 1348.8 1028.1 1349.3 1012.3 1349.7 1033.5 1350.2 1039.4 1350.6 1034.7 1351.1 1020.5 1351.6 1032.3 1352.0 1023.8 1352.5 1025.0 1352.9 1028.6 1353.4 1042.2 1353.9 1059.6 1354.3 1054.8 1354.8 1039.0 1355.2 1021.5 1355.7 1022.6 1356.2 1023.0 1356.6 1046.1 1357.1 980.7 1357.5 1030.5 1358.0 992.8 1358.5 1025.4 1358.9 1047.1 1359.4 1009.6 1359.8 986.5 1360.3 1045.5 1360.8 1048.5 1361.2 1031.5 1361.7 1043.6 1362.1 1009.1 1362.6 1041.5 1363.1 1049.8 1363.5 1031.9 1364.0 1025.5 1364.4 1042.1 1364.9 1039.6 1365.4 1008.3 1365.8 1043.3 1366.3 1033.0 1366.7 1023.3 1367.2 1042.2 1367.7 1035.9 1368.1 1032.9 1368.6 1012.1 1369.0 1034.3 1369.5 1002.1 1370.0 1018.3 1370.4 992.3 1370.9 992.1 1371.3 1027.6 1371.8 1018.9 1372.3 1021.6 1372.7 1030.0 1373.2 1025.9 1373.6 1005.4 1374.1 1021.3 1374.6 1018.9 1375.0 1011.4 1375.5 1017.9 1375.9 1014.1 1376.4 1009.8 1376.9 1015.4 1377.3 1025.2 1377.8 1055.9 1378.2 1008.6 1378.7 1031.2 1379.2 998.7 1379.6 1049.6 1380.1 1018.2 1380.5 1026.4 1381.0 1045.6 1381.5 1041.2 1381.9 1000.6 1382.4 1034.8 1382.8 1022.3 1383.3 1036.7 1383.8 1029.3 1384.2 1039.4 1384.7 1032.4 1385.1 1025.5 1385.6 1047.0 1386.1 1001.8 1386.5 1020.0 1387.0 1011.1 1387.4 1024.3 1387.9 1019.4 1388.4 1023.8 1388.8 1018.0 1389.3 1018.1 1389.7 998.5 1390.2 1024.8 1390.7 1030.3 1391.1 1015.1 1391.6 1013.9 1392.0 1014.0 1392.5 1052.6 1393.0 1028.3 1393.4 1031.9 1393.9 1020.8 1394.3 1017.8 1394.8 1011.8 1395.3 1052.0 1395.7 998.8 1396.2 1032.1 1396.6 1027.0 1397.1 1023.5 1397.6 1002.1 1398.0 1007.9 1398.5 1044.7 1398.9 1017.3 1399.4 1043.6 1399.9 1040.4 1400.3 1039.2 1400.8 1042.4 1401.2 1010.2 1401.7 1022.3 1402.2 1041.3 1402.6 1009.3 1403.1 1057.5 1403.5 1020.8 1404.0 1028.9 1404.5 1013.0 1404.9 1035.9 1405.4 1017.8 1405.8 1025.8 1406.3 1011.0 1406.7 1049.4 1407.2 1002.8 1407.7 1037.1 1408.1 1033.5 1408.6 1036.8 1409.0 1012.8 1409.5 1046.5 1410.0 1045.4 1410.4 1032.1 1410.9 1034.6 1411.3 1026.8 1411.8 1039.9 1412.3 1015.8 1412.7 1038.4 1413.2 1035.8 1413.6 1005.8 1414.1 985.6 1414.6 1026.7 1415.0 1025.7 1415.5 1048.3 1415.9 1029.0 1416.4 1019.7 1416.9 1005.3 1417.3 1026.0 1417.8 1017.7 1418.2 1009.0 1418.7 1025.0 1419.2 1044.1 1419.6 1028.1 1420.1 1009.1 1420.5 1031.6 1421.0 1008.0 1421.5 999.9 1421.9 1033.8 1422.4 1016.5 1422.8 1044.0 1423.3 1030.9 1423.8 1012.7 1424.2 1029.6 1424.7 1047.4 1425.1 1023.2 1425.6 1008.9 1426.1 1015.6 1426.5 1013.2 1427.0 1007.3 1427.4 1005.6 1427.9 1033.9 1428.4 1045.3 1428.8 1021.2 1429.3 1040.2 1429.7 1042.3 1430.2 1055.2 1430.7 1024.6 1431.1 1022.0 1431.6 1034.8 1432.0 1029.3 1432.5 1032.6 1433.0 1048.8 1433.4 1020.3 1433.9 1030.8 1434.3 1011.1 1434.8 1024.4 1435.3 1015.9 1435.7 1014.4 1436.2 1023.1 1436.6 1019.3 1437.1 1032.6 1437.6 1039.5 1438.0 1001.8 1438.5 1042.6 1438.9 989.5 1439.4 1029.9 1439.9 1037.4 1440.3 1015.0 1440.8 1021.8 1441.2 1012.2 1441.7 1039.1 1442.2 971.9 1442.6 1007.4 1443.1 991.0 1443.5 1025.3 1444.0 1042.9 1444.5 1040.5 1444.9 1031.4 1445.4 1023.9 1445.8 1006.8 1446.3 1038.7 1446.8 1028.4 1447.2 1003.8 1447.7 996.1 1448.1 1006.1 1448.6 1033.6 1449.1 1035.8 1449.5 1041.2 1450.0 1001.4 1450.4 808.0 1450.9 1038.1 1451.4 1020.1 1451.8 1030.1 1452.3 997.0 1452.7 1013.6 1453.2 1020.4 1453.7 1015.9 1454.1 1016.0 1454.6 997.1 1455.0 1051.5 1455.5 1028.3 1456.0 1003.1 1456.4 1045.6 1456.9 1030.1 1457.3 1041.8 1457.8 1028.0 1458.3 1019.4 1458.7 1020.9 1459.2 1039.9 1459.6 1047.7 1460.1 1042.8 1460.6 1045.1 1461.0 1054.0 1461.5 1038.8 1461.9 1050.4 1462.4 1051.8 1462.9 1038.3 1463.3 1032.1 1463.8 1026.1 1464.2 1013.3 1464.7 1007.3 1465.2 1054.0 1465.6 1032.1 1466.1 1023.2 1466.5 1057.7 1467.0 1047.6 1467.5 1032.5 1467.9 1047.7 1468.4 1028.0 1468.8 1036.8 1469.3 1060.7 1469.8 1048.4 1470.2 1026.8 1470.7 1060.3 1471.1 1050.7 1471.6 1029.6 1472.1 1024.8 1472.5 1062.4 1473.0 1027.1 1473.4 1010.5 1473.9 1034.5 1474.4 1069.6 1474.8 1042.8 1475.3 1048.3 1475.7 997.5 1476.2 1024.0 1476.6 1052.9 1477.1 1026.8 1477.6 1055.0 1478.0 1041.4 1478.5 1040.3 1478.9 1061.3 1479.4 1025.8 1479.9 1026.5 1480.3 1036.0 1480.8 1037.9 1481.2 1006.8 1481.7 1054.5 1482.2 1038.3 1482.6 1032.0 1483.1 1045.0 1483.5 1028.6 1484.0 1055.0 1484.5 1036.6 1484.9 1047.5 1485.4 1021.6 1485.8 1031.7 1486.3 1042.5 1486.8 1021.3 1487.2 1026.2 1487.7 1036.3 1488.1 1055.4 1488.6 1049.9 1489.1 1052.5 1489.5 1042.9 1490.0 1052.9 1490.4 1063.5 1490.9 1041.4 1491.4 1045.9 1491.8 1048.6 1492.3 1006.7 1492.7 1037.9 1493.2 1046.5 1493.7 1052.2 1494.1 1034.9 1494.6 1056.2 1495.0 1030.2 1495.5 1037.9 1496.0 1068.4 1496.4 1019.3 1496.9 1040.1 1497.3 1039.1 1497.8 1040.1 1498.3 1033.0 1498.7 1052.3 1499.2 1024.4 1499.6 1020.4 1500.1 1049.7 1500.6 1022.7 1501.0 1048.2 1501.5 1042.5 1501.9 1031.1 1502.4 1036.8 1502.9 1040.8 1503.3 1049.8 1503.8 1032.3 1504.2 1039.3 1504.7 1019.5 1505.2 1038.4 1505.6 1011.8 1506.1 1042.2 1506.5 1035.1 1507.0 1075.9 1507.5 1062.3 1507.9 1038.5 1508.4 1055.9 1508.8 1044.6 1509.3 1020.9 1509.8 999.7 1510.2 1056.5 1510.7 1044.3 1511.1 1005.8 1511.6 1047.3 1512.1 1051.3 1512.5 1025.0 1513.0 1048.4 1513.4 1007.2 1513.9 1031.1 1514.4 1034.7 1514.8 1046.3 1515.3 1039.6 1515.7 1036.8 1516.2 1042.4 1516.7 1023.1 1517.1 1057.8 1517.6 1028.6 1518.0 1047.2 1518.5 1034.5 1519.0 1030.8 1519.4 1044.5 1519.9 1042.4 1520.3 1057.2 1520.8 1053.0 1521.3 1026.7 1521.7 1044.2 1522.2 1038.0 1522.6 1023.7 1523.1 1019.0 1523.6 1041.1 1524.0 1028.6 1524.5 1015.0 1524.9 1036.2 1525.4 1041.6 1525.9 1039.9 1526.3 1019.1 1526.8 1029.6 1527.2 1061.4 1527.7 1027.1 1528.2 1034.5 1528.6 1077.4 1529.1 1046.1 1529.5 1032.6 1530.0 1009.6 1530.5 1046.3 1530.9 1019.1 1531.4 1041.5 1531.8 1027.7 1532.3 1013.2 1532.8 1065.6 1533.2 1035.8 1533.7 1051.0 1534.1 1046.7 1534.6 1021.5 1535.1 1033.4 1535.5 1024.8 1536.0 1044.7 1536.4 1035.0 1536.9 1022.5 1537.4 1055.2 1537.8 1037.0 1538.3 1036.3 1538.7 1016.4 1539.2 1035.9 1539.7 1005.8 1540.1 1037.2 1540.6 1014.8 1541.0 1033.1 1541.5 1025.9 1542.0 1034.3 1542.4 1036.5 1542.9 1030.0 1543.3 1030.0 1543.8 1006.8 1544.3 1000.1 1544.7 1051.1 1545.2 1040.0 1545.6 1006.8 1546.1 1061.4 1546.6 1019.1 1547.0 1038.8 1547.5 1037.4 1547.9 1032.3 1548.4 1040.3 1548.8 1008.3 1549.3 1029.9 1549.8 1026.3 1550.2 1031.8 1550.7 1025.9 1551.1 1020.0 1551.6 1018.5 1552.1 1044.7 1552.5 1016.8 1553.0 1036.4 1553.4 1036.3 1553.9 1029.1 1554.4 1037.6 1554.8 1039.6 1555.3 1022.4 1555.7 1036.5 1556.2 1061.8 1556.7 1014.0 1557.1 1026.4 1557.6 1019.0 1558.0 1063.4 1558.5 1009.0 1559.0 1031.7 1559.4 1046.7 1559.9 1017.8 1560.3 1029.7 1560.8 1020.5 1561.3 1010.5 1561.7 1031.0 1562.2 1040.1 1562.6 1025.9 1563.1 1035.0 1563.6 1043.4 1564.0 1051.7 1564.5 1012.7 1564.9 1042.5 1565.4 1022.8 1565.9 1002.5 1566.3 1020.4 1566.8 1043.3 1567.2 1038.0 1567.7 1015.5 1568.2 1059.0 1568.6 1039.8 1569.1 1032.3 1569.5 1024.8 1570.0 1040.3 1570.5 1027.4 1570.9 1051.9 1571.4 1038.8 1571.8 1043.8 1572.3 1029.1 1572.8 1010.4 1573.2 1042.6 1573.7 1018.1 1574.1 1032.6 1574.6 1034.2 1575.1 1022.0 1575.5 1048.8 1576.0 1011.8 1576.4 1058.6 1576.9 1025.3" stroke="#1f77b4" stroke-opacity="0.9" stroke-width="4.8"/>
<path d="M311.3 1112.3 C312.0 1106.7 314.4 1081.3 315.8 1078.5 C317.2 1075.7 318.4 1094.4 319.7 1095.4 C321.0 1096.3 322.2 1080.4 323.7 1084.1 C325.1 1087.9 326.7 1117.2 328.2 1117.9 C329.7 1118.7 330.6 1088.2 332.7 1088.6 C334.7 1089.1 337.9 1130.9 340.5 1120.7 C343.2 1110.6 345.8 1033.9 348.4 1027.8 C351.1 1021.7 354.3 1074.3 356.3 1084.1 C358.3 1094.0 358.6 1092.4 360.3 1086.9 C362.0 1081.5 364.3 1050.0 366.5 1051.5 C368.6 1052.9 370.9 1089.0 373.2 1095.4 C375.6 1101.8 378.5 1086.0 380.5 1089.8 C382.6 1093.5 383.7 1118.7 385.6 1117.9 C387.5 1117.2 389.9 1087.1 391.8 1085.2 C393.7 1083.4 394.3 1107.8 396.9 1106.7 C399.4 1105.5 404.2 1079.9 407.0 1078.5 C409.8 1077.1 411.4 1097.7 413.8 1098.2 C416.1 1098.7 418.6 1082.2 421.1 1081.3 C423.5 1080.4 426.2 1090.7 428.4 1092.6 C430.6 1094.4 432.2 1088.8 434.0 1092.6 C435.9 1096.3 437.8 1113.7 439.7 1115.1 C441.5 1116.5 443.4 1102.0 445.3 1101.0 C447.2 1100.1 448.9 1108.1 450.9 1109.5 C453.0 1110.9 455.2 1108.2 457.7 1109.5 C460.2 1110.7 462.9 1117.7 466.1 1116.8 C469.4 1115.8 474.3 1109.7 477.4 1103.8 C480.5 1097.9 482.4 1083.2 484.7 1081.3 C487.1 1079.4 489.6 1091.2 491.5 1092.6 C493.4 1094.0 493.2 1082.9 496.0 1089.8 C498.8 1096.6 504.4 1131.3 508.4 1133.7 C512.3 1136.0 516.4 1109.7 519.6 1103.8 C522.9 1097.9 525.3 1103.4 528.1 1098.2 C530.9 1093.0 533.3 1077.6 536.5 1072.9 C539.8 1068.2 544.5 1075.2 547.8 1070.0 C551.1 1064.9 552.5 1044.7 556.3 1041.9 C560.0 1039.1 566.9 1051.3 570.3 1053.1 C573.8 1055.0 574.7 1051.7 577.1 1053.1 C579.4 1054.6 582.3 1062.1 584.4 1061.6 C586.6 1061.1 586.8 1055.2 590.0 1050.3 C593.3 1045.5 600.6 1032.3 604.1 1032.3 C607.6 1032.3 608.3 1046.9 610.9 1050.3 C613.4 1053.8 616.2 1054.8 619.3 1053.1 C622.4 1051.5 626.4 1041.6 629.5 1040.2 C632.6 1038.8 635.1 1041.9 637.9 1044.7 C640.7 1047.5 642.6 1056.3 646.4 1057.1 C650.1 1057.8 657.2 1049.2 660.4 1049.2 C663.7 1049.2 662.8 1058.3 666.1 1057.1 C669.4 1055.9 676.4 1043.5 680.2 1041.9 C683.9 1040.3 685.3 1048.2 688.6 1047.5 C691.9 1046.9 696.6 1035.6 699.9 1037.9 C703.2 1040.3 704.6 1060.0 708.3 1061.6 C712.1 1063.2 718.2 1049.4 722.4 1047.5 C726.6 1045.6 729.6 1054.0 733.7 1050.3 C737.8 1046.7 744.0 1028.1 747.0 1025.5 C750.0 1022.9 749.3 1033.7 751.6 1034.8 C754.0 1036.0 757.9 1034.1 761.0 1032.5 C764.1 1031.0 767.6 1025.9 770.3 1025.5 C773.0 1025.1 774.5 1030.3 777.3 1030.2 C780.0 1030.0 783.5 1026.8 786.6 1024.6 C789.7 1022.4 792.4 1016.6 795.9 1017.1 C799.4 1017.7 804.1 1029.2 807.5 1027.9 C811.0 1026.5 814.1 1012.7 816.9 1009.2 C819.6 1005.7 821.9 1006.5 823.8 1006.9 C825.8 1007.3 826.6 1011.9 828.5 1011.5 C830.4 1011.2 833.0 1006.5 835.5 1004.6 C838.0 1002.6 840.7 998.1 843.4 999.9 C846.1 1001.7 848.7 1014.9 851.8 1015.3 C854.9 1015.7 858.2 1004.9 862.0 1002.2 C865.9 999.5 871.4 997.8 875.1 999.0 C878.8 1000.1 881.3 1008.8 884.4 1009.2 C887.5 1009.6 890.6 1002.9 893.7 1001.3 C896.8 999.7 900.6 1001.9 903.0 999.9 C905.5 997.9 906.3 990.7 908.6 989.2 C911.0 987.6 914.5 988.4 917.0 990.6 C919.6 992.8 921.7 1002.0 924.0 1002.2 C926.3 1002.5 927.9 991.8 931.0 992.0 C934.1 992.1 938.8 1002.6 942.6 1003.2 C946.5 1003.7 951.2 995.4 954.3 995.2 C957.4 995.1 959.7 1002.6 961.3 1002.2 C962.8 1001.8 962.4 992.9 963.6 992.9 C964.8 992.9 965.9 1001.8 968.3 1002.2 C970.6 1002.6 973.7 995.6 977.6 995.2 C981.5 994.9 988.1 998.4 991.5 999.9 C995.0 1001.5 996.6 1005.3 998.5 1004.6 C1000.5 1003.8 1001.3 995.6 1003.2 995.2 C1005.1 994.9 1007.5 1001.7 1010.2 1002.2 C1012.9 1002.8 1016.8 1000.1 1019.5 998.5 C1022.2 997.0 1024.2 988.4 1026.5 992.9 C1028.8 997.4 1030.8 1020.9 1033.5 1025.5 C1036.2 1030.2 1039.7 1024.4 1042.8 1020.9 C1045.9 1017.4 1048.2 1007.7 1052.1 1004.6 C1056.0 1001.5 1062.6 1000.7 1066.1 1002.2 C1069.6 1003.8 1070.0 1012.3 1073.1 1013.9 C1076.2 1015.4 1081.6 1013.1 1084.7 1011.5 C1087.8 1010.0 1088.6 1005.5 1091.7 1004.6 C1094.8 1003.6 1099.9 1004.8 1103.3 1006.0 C1106.8 1007.1 1108.8 1009.2 1112.7 1011.5 C1116.5 1013.9 1122.8 1019.5 1126.6 1019.9 C1130.5 1020.3 1132.9 1015.7 1136.0 1013.9 C1139.1 1012.1 1142.9 1009.0 1145.3 1009.2 C1147.6 1009.5 1148.0 1015.7 1149.9 1015.3 C1151.9 1014.9 1154.6 1006.9 1156.9 1006.9 C1159.2 1006.9 1161.2 1014.5 1163.9 1015.3 C1166.6 1016.1 1170.5 1012.6 1173.2 1011.5 C1175.9 1010.5 1178.4 1009.8 1180.0 1009.2 C1181.6 1008.6 1181.8 1008.2 1182.5 1007.8 C1183.3 1007.4 1182.8 1004.3 1184.7 1006.9 C1186.6 1009.5 1191.3 1021.5 1194.0 1023.2 C1196.7 1024.9 1197.9 1016.6 1201.0 1017.1 C1204.1 1017.7 1209.1 1024.7 1212.6 1026.5 C1216.1 1028.2 1219.6 1028.4 1221.9 1027.9 C1224.3 1027.3 1224.6 1022.4 1226.6 1023.2 C1228.5 1024.0 1231.2 1032.1 1233.6 1032.5 C1235.9 1032.9 1238.2 1026.5 1240.6 1025.5 C1242.9 1024.5 1245.6 1025.8 1247.5 1026.5 C1249.5 1027.1 1249.9 1030.6 1252.2 1029.3 C1254.5 1027.9 1258.4 1019.2 1261.5 1018.5 C1264.6 1017.9 1268.1 1025.5 1270.8 1025.5 C1273.6 1025.5 1275.5 1021.6 1277.8 1018.5 C1280.2 1015.4 1282.5 1006.9 1284.8 1006.9 C1287.1 1006.9 1289.1 1016.2 1291.8 1018.5 C1294.5 1020.9 1298.0 1020.5 1301.1 1020.9 C1304.2 1021.3 1308.1 1019.7 1310.4 1020.9 C1312.8 1022.0 1312.8 1027.5 1315.1 1027.9 C1317.4 1028.2 1320.9 1025.1 1324.4 1023.2 C1327.9 1021.3 1332.9 1016.4 1336.1 1016.2 C1339.2 1016.0 1340.7 1019.1 1343.0 1021.8 C1345.4 1024.5 1346.5 1032.7 1350.0 1032.5 C1353.5 1032.4 1359.7 1023.0 1364.0 1020.9 C1368.3 1018.8 1372.2 1018.8 1375.6 1019.9 C1379.1 1021.1 1382.2 1027.1 1385.0 1027.9 C1387.7 1028.6 1389.2 1024.2 1392.0 1024.6 C1394.7 1025.0 1397.8 1029.4 1401.3 1030.2 C1404.8 1031.0 1409.4 1030.0 1412.9 1029.3 C1416.4 1028.5 1419.1 1025.8 1422.2 1025.5 C1425.3 1025.3 1428.4 1027.9 1431.5 1027.9 C1434.7 1027.9 1437.8 1027.9 1440.9 1025.5 C1444.0 1023.2 1447.1 1012.3 1450.2 1013.9 C1453.3 1015.4 1456.4 1032.1 1459.5 1034.8 C1462.6 1037.6 1464.9 1030.6 1468.8 1030.2 C1472.7 1029.8 1478.1 1031.0 1482.8 1032.5 C1487.4 1034.1 1492.9 1037.9 1496.8 1039.5 C1500.6 1041.1 1503.0 1043.0 1506.1 1041.8 C1509.2 1040.7 1512.3 1033.3 1515.4 1032.5 C1518.5 1031.7 1522.0 1035.6 1524.7 1037.2 C1527.4 1038.7 1529.8 1043.4 1531.7 1041.8 C1533.6 1040.3 1534.5 1029.7 1536.4 1027.9 C1538.2 1026.0 1540.2 1030.5 1542.7 1030.9 C1545.2 1031.3 1548.6 1028.8 1551.5 1030.3 C1554.3 1031.8 1557.2 1036.7 1560.0 1040.0 C1562.8 1043.3 1565.3 1046.3 1568.0 1050.0 C1570.7 1053.7 1574.6 1055.0 1576.0 1062.0 C1577.4 1069.0 1576.5 1087.0 1576.6 1092.0" stroke="#000" stroke-width="2.4"/>
<path d="M1552.4 1049.3 L1552.9 1032.1 1553.3 1034.5 1553.8 986.5 1554.3 1086.1 1554.7 1070.4 1555.2 1035.8 1555.6 1061.1 1556.1 1049.4 1556.6 1030.0 1557.0 1064.8 1557.5 1035.2 1557.9 1034.6 1558.4 1024.0 1558.9 1051.8 1559.3 1039.1 1559.8 1053.2 1560.2 1027.6 1560.7 1044.0 1561.2 1021.9 1561.6 1060.0 1562.1 1046.0 1562.5 1049.3 1563.0 1051.2 1563.5 1021.0 1563.9 1059.5 1564.4 1086.5 1564.8 1008.8 1565.3 1007.3 1565.8 1012.4 1566.2 1061.4 1566.7 1046.9 1567.1 1066.6 1567.6 1059.4 1568.0 1049.1 1568.5 1050.5 1569.0 1041.2 1569.4 1061.8 1569.9 1021.9 1570.3 1035.9 1570.8 1048.9 1571.3 1079.3 1571.7 1029.0 1572.2 1023.9 1572.6 1035.1 1573.1 1065.6 1573.6 1043.7 1574.0 1074.4 1574.5 1015.3 1574.9 1072.7 1575.4 1072.0 1575.9 1027.1 1576.3 1055.4 1576.8 1074.1 1577.2 1052.7 1577.7 1068.4 1578.2 1092.0 1578.6 1053.6 1579.1 1043.1 1579.5 1034.0 1580.0 1057.4 1580.5 1042.4 1580.9 1042.0 1581.4 1042.5 1581.8 1054.0 1582.3 1026.9 1582.8 1019.9 1583.2 1006.5 1583.7 1060.3 1584.1 1043.5 1584.6 1063.5 1585.1 1041.8 1585.5 1031.5 1586.0 1047.7 1586.4 1040.1 1586.9 1024.8 1587.4 1029.5 1587.8 1062.0 1588.3 1044.3 1588.7 1045.6 1589.2 1038.4 1589.7 1034.7 1590.1 1053.1 1590.6 1043.0 1591.0 1036.7 1591.5 1044.4 1592.0 1036.8 1592.4 1049.7 1592.9 1060.8 1593.3 1040.1 1593.8 1065.8 1594.3 1043.7 1594.7 1053.5 1595.2 1043.5 1595.6 1051.0 1596.1 1054.7 1596.6 1050.2 1597.0 1048.1 1597.5 1049.1 1597.9 1048.3 1598.4 1040.9 1598.9 1055.9 1599.3 1064.0 1599.8 1070.3 1600.2 1068.2 1600.7 1088.7 1601.2 1065.8 1601.6 1057.3 1602.1 1082.6 1602.5 1050.7 1603.0 1072.6 1603.5 1051.6 1603.9 1065.8 1604.4 1040.5 1604.8 1071.6 1605.3 1060.1 1605.8 1051.2 1606.2 1079.9 1606.7 1069.9 1607.1 1062.1 1607.6 1053.4 1608.1 1061.0 1608.5 1059.6 1609.0 1069.2 1609.4 1070.0 1609.9 1054.2 1610.4 1055.5 1610.8 1055.8 1611.3 1047.0 1611.7 1055.2 1612.2 1122.9 1612.7 1069.1 1613.1 1075.9 1613.6 1053.0 1614.0 1110.9 1614.5 1057.0 1615.0 1084.2 1615.4 1061.3 1615.9 1067.3 1616.3 1051.9 1616.8 1053.4 1617.3 1064.5 1617.7 1058.5 1618.2 1066.7 1618.6 1046.4 1619.1 1070.5 1619.6 1054.0 1620.0 1082.4 1620.5 1061.1 1620.9 1076.2 1621.4 1049.8 1621.9 1069.6 1622.3 1055.7 1622.8 1122.6 1623.2 1065.0 1623.7 1061.1 1624.2 1067.1 1624.6 1072.0 1625.1 1070.7 1625.5 1062.6 1626.0 1048.7 1626.5 1054.4 1626.9 1060.7 1627.4 1039.9 1627.8 1070.3 1628.3 1059.5 1628.8 1059.1 1629.2 1071.6 1629.7 1068.4 1630.1 1063.4 1630.6 1050.1 1631.1 1063.8 1631.5 1064.0 1632.0 1050.6 1632.4 1071.6 1632.9 1066.6 1633.4 1040.9 1633.8 1063.8 1634.3 1049.7 1634.7 1075.8 1635.2 1073.0 1635.7 1053.4 1636.1 1056.3 1636.6 1067.4 1637.0 1064.5 1637.5 1083.8 1638.0 1075.9 1638.4 1064.5 1638.9 1073.1 1639.3 1045.0 1639.8 1069.2 1640.2 1074.5 1640.7 1062.9 1641.2 1056.8 1641.6 1069.7 1642.1 1083.8 1642.5 1064.8 1643.0 1050.4 1643.5 1076.8 1643.9 1041.6 1644.4 1066.5 1644.8 1055.1 1645.3 1045.9 1645.8 1052.1 1646.2 1074.9 1646.7 1064.1 1647.1 1042.8 1647.6 1040.1 1648.1 1057.4 1648.5 1074.2 1649.0 1061.9 1649.4 1061.2 1649.9 1058.0 1650.4 1068.1 1650.8 1064.5 1651.3 1063.8 1651.7 1050.8 1652.2 1073.8 1652.7 1075.9 1653.1 1048.3 1653.6 1086.1 1654.0 1069.9 1654.5 1057.6 1655.0 1043.1 1655.4 1070.0 1655.9 1069.3 1656.3 1057.5 1656.8 1045.4 1657.3 1075.9 1657.7 1058.5 1658.2 1060.0 1658.6 1094.7 1659.1 1087.6 1659.6 1075.7 1660.0 1061.4 1660.5 1073.1 1660.9 1043.1 1661.4 1068.1 1661.9 1059.5 1662.3 1054.3 1662.8 1051.6 1663.2 1073.7 1663.7 1069.5 1664.2 1070.5 1664.6 1133.6 1665.1 1060.7 1665.5 1057.0 1666.0 1051.8 1666.5 1065.8 1666.9 1076.1 1667.4 1065.8 1667.8 1073.1 1668.3 1112.0 1668.8 1059.8 1669.2 1055.8 1669.7 1049.9 1670.1 1081.0 1670.6 1069.7 1671.1 1052.2 1671.5 1051.2 1672.0 1057.6 1672.4 1042.5 1672.9 1061.1 1673.4 1043.9 1673.8 1053.9 1674.3 1047.7 1674.7 1053.8 1675.2 1045.6 1675.7 1043.7 1676.1 1050.4 1676.6 1053.9 1677.0 1058.3 1677.5 1062.6 1678.0 1078.0 1678.4 1071.2 1678.9 1060.9 1679.3 1071.4 1679.8 1141.0 1680.3 1078.0 1680.7 1068.1 1681.2 1048.0 1681.6 1068.7 1682.1 1068.6 1682.6 1032.3 1683.0 1051.2 1683.5 1053.3 1683.9 1037.8 1684.4 1045.8 1684.9 1046.9 1685.3 1061.6 1685.8 1059.5 1686.2 1083.1 1686.7 1052.5 1687.2 1068.2 1687.6 1057.3 1688.1 1059.2 1688.5 1044.8 1689.0 1037.2 1689.5 1048.8 1689.9 1064.2 1690.4 1072.5 1690.8 1062.6 1691.3 1061.5 1691.8 1048.2 1692.2 1072.2 1692.7 1070.4 1693.1 1051.6 1693.6 1097.3 1694.1 1047.2 1694.5 1072.0 1695.0 1061.5 1695.4 1056.6 1695.9 1061.7 1696.4 1062.2 1696.8 1053.7 1697.3 1045.5 1697.7 1045.2 1698.2 1040.8 1698.7 1062.9 1699.1 1056.4 1699.6 1041.5 1700.0 1032.9 1700.5 1062.9 1701.0 1049.0 1701.4 1061.0 1701.9 1048.1 1702.3 1071.2 1702.8 1053.4 1703.3 1060.5 1703.7 1066.4 1704.2 1055.4 1704.6 1041.9 1705.1 1054.6 1705.6 1067.6 1706.0 1059.3 1706.5 1109.3 1706.9 1049.6 1707.4 1061.9 1707.9 1067.9 1708.3 1061.1 1708.8 1079.9 1709.2 1058.8 1709.7 1050.6 1710.1 1045.0 1710.6 1072.8 1711.1 1060.8 1711.5 1071.6 1712.0 1066.2 1712.4 1077.9 1712.9 1074.5 1713.4 1058.2 1713.8 1064.8 1714.3 1073.0 1714.7 1049.9 1715.2 1076.9 1715.7 1074.5 1716.1 1072.0 1716.6 1060.0 1717.0 1064.8 1717.5 1050.3 1718.0 1061.9 1718.4 1055.2 1718.9 1061.7 1719.3 1055.6 1719.8 1063.2 1720.3 1071.9 1720.7 1046.8 1721.2 1123.6 1721.6 1039.5 1722.1 1037.6 1722.6 1057.8 1723.0 1058.8 1723.5 1062.9 1723.9 1041.8 1724.4 1057.5 1724.9 1059.1 1725.3 1070.1 1725.8 1056.3 1726.2 1062.4 1726.7 1047.1 1727.2 1054.8 1727.6 1052.0 1728.1 1063.2 1728.5 1046.1 1729.0 1047.4 1729.5 1061.6 1729.9 1074.0 1730.4 1060.2 1730.8 1059.6 1731.3 1053.4 1731.8 1068.0 1732.2 1062.7 1732.7 1074.9 1733.1 1061.2 1733.6 1048.6 1734.1 1052.7 1734.5 1048.8 1735.0 1046.4 1735.4 1071.7 1735.9 1067.4 1736.4 1047.3 1736.8 1077.7 1737.3 1062.6 1737.7 1050.8 1738.2 1064.5 1738.7 1060.2 1739.1 1053.4 1739.6 1042.0 1740.0 1062.0 1740.5 1064.8 1741.0 1036.4 1741.4 1068.0 1741.9 1068.8 1742.3 1058.2 1742.8 1064.3 1743.3 1060.5 1743.7 1055.0 1744.2 1059.8 1744.6 1077.0 1745.1 1049.2 1745.6 1066.1 1746.0 1065.6 1746.5 1056.8 1746.9 1059.6 1747.4 1035.1 1747.9 1055.7 1748.3 1064.4 1748.8 1067.6 1749.2 1055.5 1749.7 1095.0 1750.2 1058.9 1750.6 1066.0 1751.1 1062.5 1751.5 1060.9 1752.0 1078.0 1752.5 1060.3 1752.9 1078.5 1753.4 1076.7 1753.8 1054.9 1754.3 1075.8 1754.8 1059.1 1755.2 1092.9 1755.7 1061.9 1756.1 1056.4 1756.6 1046.9 1757.1 1091.3 1757.5 1060.3 1758.0 1056.2 1758.4 1054.0 1758.9 1059.5 1759.4 1064.4 1759.8 1081.0 1760.3 1049.6 1760.7 1061.1 1761.2 1057.0 1761.7 1051.5 1762.1 1053.9 1762.6 1057.5 1763.0 1073.7 1763.5 1064.6 1764.0 1061.2 1764.4 1072.6 1764.9 1069.4 1765.3 1064.3 1765.8 1070.4 1766.3 1058.3 1766.7 1123.2 1767.2 1071.2 1767.6 1062.4 1768.1 1054.4 1768.6 1081.7 1769.0 1067.5 1769.5 1096.9 1769.9 1060.0 1770.4 1075.0 1770.9 1096.4 1771.3 1069.1 1771.8 1074.9 1772.2 1058.6 1772.7 1065.6 1773.2 1068.2 1773.6 1067.7 1774.1 1072.5 1774.5 1076.8 1775.0 1121.6 1775.5 1069.2 1775.9 1063.1 1776.4 1055.3 1776.8 1059.2 1777.3 1061.3 1777.8 1073.4 1778.2 1062.9 1778.7 1054.2 1779.1 1072.8 1779.6 1058.6 1780.1 1058.9 1780.5 1064.7 1781.0 1072.1 1781.4 1043.8 1781.9 1057.1 1782.3 1070.5 1782.8 1065.6 1783.3 1061.1 1783.7 1064.7 1784.2 1084.4 1784.6 1066.5 1785.1 1078.6 1785.6 1079.9 1786.0 1068.0 1786.5 1077.3 1786.9 1068.9 1787.4 1067.7 1787.9 1063.1 1788.3 1083.4 1788.8 1071.2 1789.2 1070.2 1789.7 1064.9 1790.2 1094.6 1790.6 1083.8 1791.1 1074.6 1791.5 1068.5 1792.0 1059.7 1792.5 1077.3 1792.9 1076.7 1793.4 1059.3 1793.8 1084.4 1794.3 1080.0 1794.8 1062.2 1795.2 1065.7 1795.7 1066.5 1796.1 1071.8 1796.6 1068.3 1797.1 1052.9 1797.5 1083.3 1798.0 1110.8 1798.4 1080.2 1798.9 1079.6 1799.4 1064.5 1799.8 1069.5 1800.3 1072.9 1800.7 1072.7 1801.2 1062.9 1801.7 1057.9 1802.1 1063.9 1802.6 1055.0 1803.0 1056.9 1803.5 1041.8 1804.0 1095.1 1804.4 1052.3 1804.9 1058.0 1805.3 1064.1 1805.8 1068.8 1806.3 1085.5 1806.7 1069.7 1807.2 1054.7 1807.6 1071.1 1808.1 1064.9 1808.6 1075.8 1809.0 1066.1 1809.5 1066.9 1809.9 1069.9 1810.4 1069.8 1810.9 1058.6 1811.3 1070.0 1811.8 1076.4 1812.2 1088.3 1812.7 1073.3 1813.2 1072.5 1813.6 1081.8 1814.1 1081.3 1814.5 1091.7 1815.0 1081.5 1815.5 1075.4 1815.9 1088.8 1816.4 1090.5 1816.8 1070.5 1817.3 1076.7 1817.8 1058.3 1818.2 1101.2 1818.7 1066.0 1819.1 1072.5 1819.6 1069.8 1820.1 1072.8 1820.5 1073.3 1821.0 1079.1 1821.4 1056.3 1821.9 1068.4 1822.4 1061.0 1822.8 1086.0 1823.3 1087.7 1823.7 1069.0 1824.2 1079.0 1824.7 1058.2 1825.1 1057.8 1825.6 1070.7 1826.0 1088.0 1826.5 1063.0 1827.0 1065.1 1827.4 1089.3 1827.9 1054.6 1828.3 1079.8 1828.8 1078.2 1829.3 1071.3 1829.7 1075.2 1830.2 1099.4 1830.6 1062.2 1831.1 1070.2 1831.6 1071.0 1832.0 1066.5 1832.5 1060.0 1832.9 1089.2 1833.4 1075.5 1833.9 1055.9 1834.3 1066.4 1834.8 1077.4 1835.2 1077.4 1835.7 1059.1 1836.2 1072.4 1836.6 1075.9 1837.1 1077.2 1837.5 1077.3 1838.0 1055.3 1838.5 1092.2 1838.9 1076.4 1839.4 1092.7 1839.8 1103.7 1840.3 1074.1 1840.8 1063.9 1841.2 1085.2 1841.7 1075.3 1842.1 1073.1 1842.6 1067.8 1843.1 1095.2 1843.5 1074.5 1844.0 1065.5 1844.4 1075.4 1844.9 1068.5 1845.4 1081.2 1845.8 1075.1 1846.3 1068.4 1846.7 1084.5 1847.2 1071.7 1847.7 1084.9 1848.1 1089.8 1848.6 1073.4 1849.0 1070.2 1849.5 1078.2 1850.0 1084.6 1850.4 1075.4 1850.9 1076.4 1851.3 1074.4 1851.8 1077.4 1852.3 1080.1 1852.7 1066.5 1853.2 1068.3 1853.6 1073.2 1854.1 1065.8 1854.5 1073.3 1855.0 1076.9 1855.5 1071.0 1855.9 1064.8 1856.4 1062.7 1856.8 1087.4 1857.3 1078.4 1857.8 1058.2 1858.2 1060.6 1858.7 1122.7 1859.1 1083.1 1859.6 1046.5 1860.1 1078.8 1860.5 1052.2 1861.0 1066.6 1861.4 1073.6 1861.9 1047.4 1862.4 1057.7 1862.8 1072.8 1863.3 1075.9 1863.7 1058.4 1864.2 1066.8 1864.7 1079.4 1865.1 1059.4 1865.6 1050.6 1866.0 1063.9 1866.5 1061.3 1867.0 1078.8 1867.4 1068.2 1867.9 1059.3 1868.3 1091.8 1868.8 1063.7 1869.3 1074.0 1869.7 1076.8 1870.2 1078.5 1870.6 1073.1 1871.1 1077.9 1871.6 1072.1 1872.0 1059.4 1872.5 1072.0 1872.9 1072.9 1873.4 1073.8 1873.9 1106.6 1874.3 1070.8 1874.8 1090.7 1875.2 1093.8 1875.7 1057.2 1876.2 1079.8 1876.6 1073.4 1877.1 1099.4 1877.5 1085.8 1878.0 1132.8 1878.5 1079.4 1878.9 1076.9 1879.4 1093.5 1879.8 1094.5 1880.3 1060.6 1880.8 1088.0 1881.2 1079.5 1881.7 1081.5 1882.1 1072.2 1882.6 1079.4 1883.1 1071.4 1883.5 1081.6 1884.0 1085.6 1884.4 1080.0 1884.9 1088.1 1885.4 1102.4 1885.8 1037.2 1886.3 1074.9 1886.7 1068.6 1887.2 1069.1 1887.7 1059.7 1888.1 1055.1 1888.6 1069.5 1889.0 1065.5 1889.5 1069.9 1890.0 1067.1 1890.4 1050.3 1890.9 1084.7 1891.3 1071.6 1891.8 1050.4 1892.3 1078.8 1892.7 1069.8 1893.2 1055.4 1893.6 1086.2 1894.1 1061.5 1894.6 1076.4 1895.0 1080.4 1895.5 1093.1 1895.9 1092.1 1896.4 1130.7 1896.9 1073.9 1897.3 1077.9 1897.8 1093.3 1898.2 1100.8 1898.7 1089.1 1899.2 1077.8 1899.6 1093.3 1900.1 1078.4 1900.5 1077.1 1901.0 1077.3 1901.5 1084.9 1901.9 1080.8 1902.4 1086.9 1902.8 1088.9 1903.3 1080.1 1903.8 1051.0 1904.2 1056.2 1904.7 1073.6 1905.1 1070.3 1905.6 1091.3 1906.1 1123.0 1906.5 1068.1 1907.0 1079.2 1907.4 1080.6 1907.9 1068.0 1908.4 1075.3 1908.8 1059.7 1909.3 1061.8 1909.7 1083.6 1910.2 1057.7 1910.7 1081.0 1911.1 1078.8 1911.6 1080.0 1912.0 1081.7 1912.5 1078.5 1913.0 1052.0 1913.4 1063.5 1913.9 1109.5 1914.3 1082.9 1914.8 1063.0 1915.3 1067.4 1915.7 1071.1 1916.2 1087.9 1916.6 1060.9 1917.1 1062.0 1917.6 1081.9 1918.0 1054.9 1918.5 1079.5 1918.9 1071.9 1919.4 1061.1 1919.9 1072.4 1920.3 1066.5 1920.8 1077.8 1921.2 1079.6 1921.7 1126.4 1922.2 1075.4 1922.6 1076.3 1923.1 1046.3 1923.5 1074.7 1924.0 1085.1 1924.5 1055.5 1924.9 1080.8 1925.4 1068.8 1925.8 1074.6 1926.3 1076.9 1926.7 1081.9 1927.2 1075.6 1927.7 1069.2 1928.1 1075.9 1928.6 1072.7 1929.0 1070.4 1929.5 1074.2 1930.0 1080.6 1930.4 1073.2 1930.9 1073.1 1931.3 1058.7 1931.8 1069.9 1932.3 1052.6 1932.7 1077.8 1933.2 1061.3 1933.6 1083.1 1934.1 1099.7 1934.6 1066.0 1935.0 1082.8 1935.5 1073.5 1935.9 1063.8 1936.4 1060.8 1936.9 1074.4 1937.3 1082.4 1937.8 1071.9 1938.2 1053.3 1938.7 1058.1 1939.2 1066.3 1939.6 1082.1 1940.1 1071.7 1940.5 1072.3 1941.0 1081.1 1941.5 1067.3 1941.9 1068.6 1942.4 1067.9 1942.8 1052.3 1943.3 1074.6 1943.8 1074.2 1944.2 1079.9 1944.7 1058.7 1945.1 1062.5 1945.6 1079.9 1946.1 1074.1 1946.5 1084.6 1947.0 1062.7 1947.4 1073.3 1947.9 1064.8 1948.4 1074.7 1948.8 1110.0 1949.3 1077.2 1949.7 1082.8 1950.2 1078.9 1950.7 1054.6 1951.1 1081.8 1951.6 1077.1 1952.0 1062.6 1952.5 1064.3 1953.0 1073.3 1953.4 1079.0 1953.9 1070.1 1954.3 1059.9 1954.8 1080.0 1955.3 1080.3 1955.7 1104.1 1956.2 1068.7 1956.6 1107.7 1957.1 1101.3 1957.6 1123.4 1958.0 1157.0 1958.5 1089.2 1958.9 1099.3 1959.4 1083.8 1959.9 1093.2 1960.3 1083.8 1960.8 1079.7 1961.2 1093.9 1961.7 1091.5 1962.2 1103.9 1962.6 1109.3 1963.1 1093.5 1963.5 1144.0 1964.0 1093.9 1964.5 1073.9 1964.9 1091.6 1965.4 1087.5 1965.8 1085.3 1966.3 1073.4 1966.8 1063.1 1967.2 1078.6 1967.7 1082.6 1968.1 1091.2 1968.6 1087.5 1969.1 1089.2 1969.5 1076.9 1970.0 1083.1 1970.4 1068.1 1970.9 1076.5 1971.4 1079.9 1971.8 1097.6 1972.3 1073.9 1972.7 1059.4 1973.2 1085.9 1973.7 1064.9 1974.1 1072.5 1974.6 1045.6 1975.0 1065.0 1975.5 1125.9 1976.0 1080.6 1976.4 1069.1 1976.9 1076.2 1977.3 1071.7 1977.8 1082.4 1978.3 1073.0 1978.7 1069.6 1979.2 1071.2 1979.6 1073.6 1980.1 1081.2 1980.6 1069.7 1981.0 1078.3 1981.5 1083.9 1981.9 1103.0 1982.4 1088.8 1982.9 1051.4 1983.3 1076.1 1983.8 1077.7 1984.2 1129.3 1984.7 1096.7 1985.2 1088.1 1985.6 1057.7 1986.1 1082.9 1986.5 1080.5 1987.0 1083.0 1987.5 1091.9 1987.9 1067.3 1988.4 1088.4 1988.8 1060.8 1989.3 1077.1 1989.8 1079.9 1990.2 1098.2 1990.7 1068.4 1991.1 1058.1 1991.6 1081.1 1992.1 1067.4 1992.5 1088.8 1993.0 1066.0 1993.4 1063.9 1993.9 1084.3 1994.4 1072.5 1994.8 1081.5 1995.3 1057.7 1995.7 1088.0 1996.2 1066.0 1996.7 1079.9 1997.1 1062.1 1997.6 1056.7 1998.0 1069.5 1998.5 1073.8 1998.9 1087.6 1999.4 1075.6 1999.9 1079.2 2000.3 1078.7 2000.8 1102.9 2001.2 1101.4 2001.7 1084.7 2002.2 1071.0 2002.6 1075.0 2003.1 1067.2 2003.5 1084.0 2004.0 1060.3 2004.5 1059.7 2004.9 1070.7 2005.4 1061.4 2005.8 1079.7 2006.3 1081.9 2006.8 1065.5 2007.2 1080.7 2007.7 1066.5 2008.1 1072.6 2008.6 1073.2 2009.1 1091.6 2009.5 1073.2 2010.0 1064.3 2010.4 1048.2 2010.9 1085.1 2011.4 1057.1 2011.8 1069.7 2012.3 1050.7 2012.7 1051.8 2013.2 1072.1 2013.7 1087.4 2014.1 1080.6 2014.6 1070.3 2015.0 1086.7 2015.5 1085.8 2016.0 1101.4 2016.4 1075.1 2016.9 1079.3 2017.3 1084.4 2017.8 1083.4 2018.3 1085.7 2018.7 1083.0 2019.2 1076.3 2019.6 1066.5 2020.1 1075.9 2020.6 1066.8 2021.0 1069.3 2021.5 1073.4 2021.9 1082.8 2022.4 1085.3 2022.9 1065.8 2023.3 1078.1 2023.8 1082.1 2024.2 1072.9 2024.7 1056.3 2025.2 1050.4 2025.6 1078.4 2026.1 1078.7 2026.5 1071.6 2027.0 1057.6 2027.5 1081.3 2027.9 1078.1 2028.4 1064.9 2028.8 1062.2 2029.3 1044.3 2029.8 1070.0 2030.2 1046.8 2030.7 1070.1 2031.1 1071.4 2031.6 1065.9 2032.1 1081.3 2032.5 1063.4 2033.0 1073.2 2033.4 1076.0 2033.9 1071.4 2034.4 1065.7 2034.8 1082.7 2035.3 1075.5 2035.7 1070.3 2036.2 1071.3 2036.7 1075.0 2037.1 1128.0 2037.6 1076.4 2038.0 1049.8 2038.5 1066.5 2039.0 1065.8 2039.4 1059.9 2039.9 1081.6 2040.3 1080.4 2040.8 1070.8 2041.3 1066.9 2041.7 1077.7 2042.2 1075.2 2042.6 1066.7 2043.1 1067.0 2043.6 1080.0 2044.0 1077.5 2044.5 1085.0 2044.9 1070.5 2045.4 1089.7 2045.9 1065.8 2046.3 1080.2 2046.8 1080.8 2047.2 1071.5 2047.7 1076.9 2048.2 1060.3 2048.6 1057.5 2049.1 1069.7 2049.5 1064.0 2050.0 1076.3 2050.5 1070.3 2050.9 1075.4 2051.4 1071.9 2051.8 1070.2 2052.3 1068.8 2052.8 1103.8 2053.2 1063.2 2053.7 1087.7 2054.1 1050.4 2054.6 1065.8 2055.1 1077.4 2055.5 1071.6 2056.0 1081.2 2056.4 1072.7 2056.9 1054.9 2057.4 1064.0 2057.8 1053.3 2058.3 1076.7 2058.7 1081.1 2059.2 1062.6 2059.7 1072.2 2060.1 1062.7 2060.6 1088.6 2061.0 1062.2 2061.5 1051.0 2062.0 1060.9 2062.4 1068.5 2062.9 1073.4 2063.3 1079.0 2063.8 1062.9 2064.3 1068.4 2064.7 1070.2 2065.2 1071.4 2065.6 1038.0 2066.1 1058.2 2066.6 1073.6 2067.0 1054.7 2067.5 1068.1 2067.9 1073.7 2068.4 1046.9 2068.9 1063.5 2069.3 1067.7 2069.8 1065.4 2070.2 1050.3 2070.7 1049.4 2071.1 1059.7 2071.6 1073.2 2072.1 1098.6 2072.5 1059.6 2073.0 1066.7 2073.4 1058.1 2073.9 1058.0 2074.4 1049.3 2074.8 1062.4 2075.3 1072.5 2075.7 1048.5 2076.2 1064.3 2076.7 1058.3 2077.1 1059.2 2077.6 1071.6 2078.0 1049.6 2078.5 1084.4 2079.0 1063.5 2079.4 1085.3 2079.9 1075.5 2080.3 1059.9 2080.8 1071.1 2081.3 1066.4 2081.7 1068.4 2082.2 1071.6 2082.6 1058.5 2083.1 1058.0 2083.6 1060.2 2084.0 1051.1 2084.5 1062.1 2084.9 1067.1 2085.4 1067.5 2085.9 1067.2 2086.3 1034.9 2086.8 1073.4 2087.2 1045.8 2087.7 1062.2 2088.2 1063.0 2088.6 1075.2 2089.1 1073.2 2089.5 1074.7 2090.0 1067.2 2090.5 1076.5 2090.9 1057.6 2091.4 1118.4 2091.8 1047.2 2092.3 1084.8 2092.8 1083.8 2093.2 1062.6 2093.7 1060.3 2094.1 1048.3 2094.6 1054.1 2095.1 1070.5 2095.5 1067.9 2096.0 1055.3 2096.4 1065.0 2096.9 1063.6 2097.4 1074.7 2097.8 1076.9 2098.3 1067.6 2098.7 1070.8 2099.2 1069.4 2099.7 1048.9 2100.1 1071.0 2100.6 1068.4 2101.0 1076.2 2101.5 1050.8 2102.0 1076.1 2102.4 1062.2 2102.9 1052.0 2103.3 1080.0 2103.8 1053.6 2104.3 1055.1 2104.7 1077.5 2105.2 1056.4 2105.6 1058.1 2106.1 1047.8 2106.6 1065.2 2107.0 1074.6 2107.5 1069.8 2107.9 1066.5 2108.4 1076.2 2108.9 1087.8 2109.3 1065.3 2109.8 1080.6 2110.2 1077.1 2110.7 1067.0 2111.2 1070.5 2111.6 1056.9 2112.1 1060.2 2112.5 1069.0 2113.0 1066.0 2113.5 1079.2 2113.9 1053.9 2114.4 1063.9 2114.8 1060.6 2115.3 1065.4 2115.8 1130.5 2116.2 1055.3 2116.7 1075.5 2117.1 1061.6 2117.6 1064.3 2118.1 1077.3 2118.5 1064.9 2119.0 1074.3 2119.4 1069.0 2119.9 1066.3 2120.4 1064.5 2120.8 1051.3 2121.3 1061.0 2121.7 1070.0 2122.2 1070.5 2122.7 1054.0 2123.1 1078.5 2123.6 1074.4 2124.0 1056.2 2124.5 1058.8 2125.0 1074.1 2125.4 1052.1 2125.9 1062.1 2126.3 1068.9 2126.8 1068.3 2127.3 1069.1 2127.7 1073.6 2128.2 1062.1 2128.6 1065.3 2129.1 1090.2 2129.6 1056.5 2130.0 1065.9 2130.5 1071.5 2130.9 1099.0 2131.4 1124.6 2131.9 1071.4 2132.3 1078.2 2132.8 1045.4 2133.2 1082.6 2133.7 1132.4 2134.2 1063.8 2134.6 1084.0 2135.1 1073.9 2135.5 1080.5 2136.0 1089.2 2136.5 1072.6 2136.9 1061.8 2137.4 1071.6 2137.8 1113.0 2138.3 1064.1 2138.8 1064.6 2139.2 1065.2 2139.7 1083.6 2140.1 1080.4 2140.6 1063.6 2141.1 1083.5 2141.5 1056.2 2142.0 1066.2 2142.4 1071.4 2142.9 1084.4 2143.3 1080.0 2143.8 1077.4 2144.3 1085.8 2144.7 1080.2 2145.2 1086.6 2145.6 1065.7 2146.1 1057.0 2146.6 1069.5 2147.0 1081.7 2147.5 1076.3 2147.9 1082.5 2148.4 1080.8 2148.9 1079.0 2149.3 1082.0 2149.8 1067.2 2150.2 1084.9 2150.7 1064.5 2151.2 1073.3 2151.6 1060.5 2152.1 1079.1 2152.5 1058.9 2153.0 1087.6 2153.5 1060.6 2153.9 1076.1 2154.4 1072.1 2154.8 1064.7 2155.3 1085.3 2155.8 1108.8 2156.2 1087.1 2156.7 1062.6 2157.1 1064.7 2157.6 1052.8 2158.1 1077.6 2158.5 1081.0 2159.0 1074.1 2159.4 1070.2 2159.9 1062.6 2160.4 1094.4 2160.8 1078.5 2161.3 1053.2 2161.7 1068.0 2162.2 1045.4 2162.7 1086.1 2163.1 1115.0 2163.6 1059.7 2164.0 1069.7 2164.5 1113.5 2165.0 1056.2 2165.4 1075.0 2165.9 1062.4 2166.3 1065.8 2166.8 1063.4 2167.3 1067.3 2167.7 1079.9 2168.2 1088.4 2168.6 1074.1 2169.1 1073.6 2169.6 1063.4 2170.0 1063.0 2170.5 1065.4 2170.9 1085.2 2171.4 1116.8 2171.9 1087.5 2172.3 1083.0 2172.8 1075.7 2173.2 1068.2 2173.7 1077.6 2174.2 1068.0 2174.6 1102.3 2175.1 1086.1 2175.5 1080.7 2176.0 1104.5 2176.5 1082.0 2176.9 1091.9 2177.4 1084.3 2177.8 1088.8 2178.3 1125.6 2178.8 1089.0 2179.2 1097.6 2179.7 1070.8 2180.1 1060.8 2180.6 1095.3 2181.1 1083.1 2181.5 1089.5 2182.0 1077.5 2182.4 1095.0 2182.9 1097.1 2183.4 1067.2 2183.8 1084.8 2184.3 1071.6 2184.7 1061.2 2185.2 1073.5 2185.7 1081.4 2186.1 1061.6 2186.6 1046.2 2187.0 1066.3 2187.5 1073.1 2188.0 1076.0 2188.4 1060.0 2188.9 1064.1 2189.3 1070.9 2189.8 1070.8 2190.3 1069.6 2190.7 1083.1 2191.2 1068.3 2191.6 1078.8 2192.1 1014.9 2192.6 1063.8 2193.0 1076.2 2193.5 1056.1 2193.9 1058.5 2194.4 1063.4 2194.9 1057.9 2195.3 1096.4 2195.8 1065.1 2196.2 1078.4 2196.7 1074.7 2197.2 1068.4 2197.6 1076.4 2198.1 1061.1 2198.5 1084.8 2199.0 1083.6 2199.5 1080.5 2199.9 1062.8 2200.4 1100.1 2200.8 1052.7 2201.3 1072.9 2201.8 1075.0 2202.2 1092.1 2202.7 1070.8 2203.1 1087.5 2203.6 1120.1 2204.1 1081.7 2204.5 1092.7 2205.0 1098.0 2205.4 1087.6 2205.9 1080.7 2206.4 1060.7 2206.8 1097.2 2207.3 1079.5 2207.7 1064.5 2208.2 1085.0 2208.7 1098.4 2209.1 1083.4 2209.6 1109.6 2210.0 1108.4 2210.5 1093.0 2211.0 1067.1 2211.4 1096.1 2211.9 1063.5 2212.3 1136.5 2212.8 1080.8 2213.2 1103.5 2213.7 1074.5 2214.2 1073.4 2214.6 1063.9 2215.1 1068.3 2215.5 1104.1 2216.0 1076.6 2216.5 1072.0 2216.9 1093.6 2217.4 1078.7 2217.8 1080.1 2218.3 1087.2 2218.8 1079.9 2219.2 1068.5 2219.7 1058.4 2220.1 1053.7 2220.6 1065.3 2221.1 1086.3 2221.5 1065.8 2222.0 1051.3 2222.4 1073.6 2222.9 1083.7 2223.4 1105.8 2223.8 1074.8 2224.3 1074.4 2224.7 1089.8 2225.2 1075.8 2225.7 1072.3 2226.1 1066.6 2226.6 1033.1 2227.0 1086.4 2227.5 1083.8 2228.0 1063.1 2228.4 1078.8 2228.9 1076.4 2229.3 1069.8 2229.8 1070.8 2230.3 1081.7 2230.7 1062.8 2231.2 1069.9 2231.6 1116.0 2232.1 1075.7 2232.6 1074.1 2233.0 1078.6 2233.5 1082.1 2233.9 1068.4 2234.4 1078.4 2234.9 1072.8 2235.3 1093.2 2235.8 1064.9 2236.2 1076.8 2236.7 1085.8 2237.2 1075.8 2237.6 1075.0 2238.1 1072.6 2238.5 1080.7 2239.0 1065.8 2239.5 1076.2 2239.9 1075.7 2240.4 1061.9 2240.8 1078.7 2241.3 1109.9 2241.8 1078.4 2242.2 1083.5 2242.7 1078.1 2243.1 1062.8 2243.6 1077.3 2244.1 1058.1 2244.5 1066.0 2245.0 1089.9 2245.4 1074.5 2245.9 1090.6 2246.4 1074.4 2246.8 1077.2 2247.3 1067.0 2247.7 1088.1 2248.2 1077.8 2248.7 1086.8 2249.1 1085.8 2249.6 1087.7 2250.0 1086.5 2250.5 1083.8 2251.0 1085.1 2251.4 1079.2 2251.9 1065.3 2252.3 1090.4 2252.8 1105.5 2253.3 1095.1 2253.7 1106.9 2254.2 1088.1 2254.6 1073.4 2255.1 1072.6 2255.6 1089.0 2256.0 1084.5 2256.5 1079.0 2256.9 1087.3 2257.4 1070.9 2257.9 1084.0 2258.3 1115.8 2258.8 1079.3 2259.2 1088.8 2259.7 1075.2 2260.2 1089.5 2260.6 1089.1 2261.1 1068.7 2261.5 1081.2 2262.0 1064.1 2262.5 1075.4 2262.9 1083.6 2263.4 1054.1 2263.8 1086.6 2264.3 1087.7 2264.8 1075.5 2265.2 1079.3 2265.7 1078.8 2266.1 1074.7 2266.6 1087.3 2267.1 1073.4 2267.5 1077.4 2268.0 1082.2 2268.4 1087.8 2268.9 1091.1 2269.4 1066.6 2269.8 1061.9 2270.3 1081.3 2270.7 1082.9 2271.2 1121.4 2271.7 1088.1 2272.1 1092.1 2272.6 1090.4 2273.0 1103.7 2273.5 1078.1 2274.0 1088.5 2274.4 1106.3 2274.9 1093.1 2275.3 1074.6 2275.8 1086.6 2276.3 1095.3 2276.7 1103.2 2277.2 1088.4 2277.6 1092.4 2278.1 1069.1 2278.6 1076.6 2279.0 1089.9 2279.5 1067.8 2279.9 1075.7 2280.4 1057.1 2280.9 1089.0 2281.3 1072.3 2281.8 1078.2 2282.2 1056.9 2282.7 1058.9 2283.2 1089.7 2283.6 1068.6 2284.1 1066.7 2284.5 1077.1 2285.0 1077.6 2285.4 1053.0 2285.9 1062.8 2286.4 1073.0 2286.8 1051.1 2287.3 1076.1 2287.7 1068.5 2288.2 1070.1 2288.7 1075.0 2289.1 1066.3 2289.6 1064.9 2290.0 1067.8 2290.5 1073.4 2291.0 1072.5 2291.4 1070.6 2291.9 1074.2 2292.3 1077.5 2292.8 1082.5 2293.3 1125.2 2293.7 1069.4 2294.2 1092.9 2294.6 1069.0 2295.1 1090.2 2295.6 1077.3 2296.0 1089.3 2296.5 1093.5 2296.9 1064.1 2297.4 1087.8 2297.9 1084.0 2298.3 1076.2 2298.8 1083.9 2299.2 1074.8 2299.7 1080.2 2300.2 1068.2 2300.6 1085.5 2301.1 1083.0 2301.5 1084.0 2302.0 1069.7 2302.5 1093.5 2302.9 1094.3 2303.4 1073.6 2303.8 1069.8 2304.3 1069.3 2304.8 1079.9 2305.2 1083.3 2305.7 1066.0 2306.1 1053.5 2306.6 1077.7 2307.1 1072.9 2307.5 1075.0 2308.0 1078.4 2308.4 1062.5 2308.9 1074.0 2309.4 1070.4 2309.8 1077.0 2310.3 1085.2 2310.7 1073.4 2311.2 1065.0 2311.7 1085.5 2312.1 1080.3 2312.6 1071.4 2313.0 1055.8 2313.5 1064.8 2314.0 1074.8 2314.4 1078.7 2314.9 1068.2 2315.3 1077.6 2315.8 1067.2 2316.3 1069.3 2316.7 1078.6 2317.2 1070.7 2317.6 1074.7 2318.1 1081.9 2318.6 1084.4 2319.0 1067.7 2319.5 1119.4 2319.9 1060.5 2320.4 1060.7 2320.9 1076.3 2321.3 1046.8 2321.8 1055.4 2322.2 1078.6 2322.7 1065.3 2323.2 1070.4 2323.6 1115.1 2324.1 1077.3 2324.5 1072.9 2325.0 1054.2 2325.5 1078.9 2325.9 1067.6 2326.4 1059.6 2326.8 1051.9 2327.3 1086.1 2327.8 1074.6 2328.2 1074.3 2328.7 1079.1 2329.1 1072.4 2329.6 1058.8 2330.1 1079.7 2330.5 1082.8 2331.0 1078.0 2331.4 1087.9 2331.9 1091.4 2332.4 1039.7 2332.8 1068.6 2333.3 1081.3 2333.7 1072.9 2334.2 1071.8 2334.7 1077.3 2335.1 1073.9 2335.6 1061.0 2336.0 1065.0 2336.5 1055.5 2337.0 1116.5 2337.4 1048.6 2337.9 1038.9 2338.3 1051.6 2338.8 1049.2 2339.3 1063.6 2339.7 1071.4 2340.2 1057.8 2340.6 1063.4 2341.1 1026.4 2341.6 1052.5 2342.0 1060.0 2342.5 1061.3 2342.9 1068.2 2343.4 1067.8 2343.9 1084.0 2344.3 1067.2 2344.8 1054.7 2345.2 1073.1 2345.7 1066.9 2346.2 1076.5 2346.6 1086.7 2347.1 1070.3 2347.5 1075.8 2348.0 1081.6 2348.5 1067.5 2348.9 1078.7 2349.4 1082.0 2349.8 1084.6 2350.3 1087.4 2350.8 1066.6 2351.2 1080.7 2351.7 1063.5 2352.1 1051.2 2352.6 1067.8 2353.1 1090.8 2353.5 1078.3 2354.0 1055.5 2354.4 1073.2 2354.9 1080.8 2355.4 1059.5 2355.8 1082.9 2356.3 1066.4 2356.7 1087.5 2357.2 1077.8 2357.6 1107.4 2358.1 1064.8 2358.6 1080.4 2359.0 1063.5 2359.5 1088.8 2359.9 1103.2 2360.4 1086.8 2360.9 1078.9 2361.3 1066.7 2361.8 1071.8 2362.2 1066.2 2362.7 1068.1 2363.2 1079.6 2363.6 1088.5 2364.1 1086.5 2364.5 1083.2 2365.0 1072.9 2365.5 1083.3 2365.9 1070.1 2366.4 1080.2 2366.8 1086.2 2367.3 1076.3 2367.8 1073.5 2368.2 1073.8 2368.7 1083.7 2369.1 1074.8 2369.6 1064.0 2370.1 1073.6 2370.5 1067.3 2371.0 1091.8 2371.4 1077.5 2371.9 1063.1 2372.4 1079.7 2372.8 1084.0 2373.3 1080.7 2373.7 1073.5 2374.2 1078.3 2374.7 1079.5 2375.1 1086.3 2375.6 1080.1 2376.0 1098.3 2376.5 1074.4 2377.0 1091.1 2377.4 1076.5 2377.9 1059.9 2378.3 1064.9 2378.8 1058.6 2379.3 1059.6 2379.7 1087.6 2380.2 1069.8 2380.6 1082.0 2381.1 1067.7 2381.6 1076.2 2382.0 1066.3 2382.5 1084.7 2382.9 1074.0 2383.4 1072.2 2383.9 1075.0 2384.3 1097.4 2384.8 1080.9 2385.2 1084.7 2385.7 1064.8 2386.2 1070.6 2386.6 1079.7 2387.1 1059.1 2387.5 1089.7 2388.0 1079.6 2388.5 1076.9 2388.9 1075.2 2389.4 1074.9 2389.8 1072.4 2390.3 1120.1 2390.8 1083.9 2391.2 1089.2 2391.7 1074.5 2392.1 1069.0 2392.6 1090.5 2393.1 1065.9 2393.5 1071.7 2394.0 1084.4 2394.4 1088.1 2394.9 1065.1 2395.4 1075.2 2395.8 1078.1 2396.3 1076.6 2396.7 1069.7 2397.2 1084.4 2397.7 1073.0 2398.1 1075.8 2398.6 1056.6 2399.0 1077.1 2399.5 1059.6 2400.0 1064.7 2400.4 1083.0 2400.9 1073.5 2401.3 1080.3 2401.8 1081.1 2402.3 1079.9 2402.7 1086.0 2403.2 1082.7 2403.6 1080.5 2404.1 1078.8 2404.6 1103.7 2405.0 1090.8 2405.5 1090.0 2405.9 1098.4 2406.4 1089.0 2406.9 1090.3 2407.3 1100.4 2407.8 1103.5 2408.2 1099.7 2408.7 1078.7 2409.2 1093.0 2409.6 1091.8 2410.1 1096.0 2410.5 1082.8 2411.0 1080.8 2411.5 1089.3 2411.9 1081.5 2412.4 1079.4 2412.8 1088.5 2413.3 1097.6 2413.8 1089.6 2414.2 1098.6 2414.7 1078.0 2415.1 1093.9 2415.6 1086.6 2416.1 1077.9 2416.5 1081.9 2417.0 1077.3 2417.4 1083.0 2417.9 1077.6 2418.4 1096.2 2418.8 1080.4 2419.3 1069.9 2419.7 1081.2 2420.2 1086.3 2420.7 1079.2 2421.1 1090.0 2421.6 1072.8 2422.0 1072.9 2422.5 1096.0 2423.0 1080.2 2423.4 1084.9 2423.9 1059.0 2424.3 1084.4 2424.8 1079.0 2425.3 1076.7 2425.7 1089.2 2426.2 1074.6 2426.6 1080.7 2427.1 1086.4 2427.6 1076.5 2428.0 1066.1 2428.5 1116.0 2428.9 1091.5 2429.4 1084.1 2429.8 1066.2 2430.3 1088.4 2430.8 1084.8 2431.2 1068.5 2431.7 1057.8 2432.1 1081.4 2432.6 1084.8 2433.1 1091.8 2433.5 1092.5 2434.0 1086.0 2434.4 1090.6 2434.9 1089.0 2435.4 1087.4 2435.8 1122.8 2436.3 1085.5 2436.7 1093.9 2437.2 1120.0 2437.7 1083.9 2438.1 1098.6 2438.6 1081.8 2439.0 1085.9 2439.5 1088.8 2440.0 1069.2 2440.4 1082.9 2440.9 1093.9 2441.3 1093.0 2441.8 1073.6 2442.3 1076.5 2442.7 1073.6 2443.2 1080.9 2443.6 1082.0 2444.1 1067.1 2444.6 1084.5 2445.0 1081.6 2445.5 1079.7 2445.9 1073.5 2446.4 1077.6 2446.9 1062.1 2447.3 1121.4 2447.8 1080.5 2448.2 1077.6 2448.7 1067.6 2449.2 1090.7 2449.6 1089.4 2450.1 1061.4 2450.5 1082.8 2451.0 1080.4 2451.5 1032.8 2451.9 1084.0 2452.4 1085.3 2452.8 1086.0 2453.3 1117.3 2453.8 1073.3 2454.2 1074.7 2454.7 1084.3 2455.1 1090.6 2455.6 1103.3 2456.1 1077.1 2456.5 1086.3 2457.0 1059.8 2457.4 1084.1 2457.9 1077.9 2458.4 1059.6 2458.8 1087.3 2459.3 1071.7 2459.7 1087.7 2460.2 1093.2 2460.7 1068.8 2461.1 1069.3 2461.6 1080.5 2462.0 1064.3 2462.5 1087.5 2463.0 1129.9 2463.4 1143.6 2463.9 1063.8 2464.3 1082.9 2464.8 1085.4 2465.3 1064.4 2465.7 1089.5 2466.2 1068.4 2466.6 1083.1 2467.1 1069.2 2467.6 1088.9 2468.0 1097.5 2468.5 1082.2 2468.9 1082.0 2469.4 1094.0 2469.9 1077.8 2470.3 1082.5 2470.8 1089.7 2471.2 1086.1 2471.7 1096.9 2472.2 1093.5 2472.6 1100.3 2473.1 1082.3 2473.5 1093.0 2474.0 1075.0 2474.5 1091.1 2474.9 1099.1 2475.4 1104.8 2475.8 1071.2 2476.3 1081.3 2476.8 1089.6 2477.2 1074.8 2477.7 1088.2 2478.1 1088.2 2478.6 1078.6 2479.1 1078.2 2479.5 1074.6 2480.0 1086.1 2480.4 1095.1 2480.9 1086.0 2481.4 1109.3 2481.8 1069.6 2482.3 1078.0 2482.7 1089.7 2483.2 1072.8 2483.7 1086.8 2484.1 1091.2 2484.6 1085.2 2485.0 1081.5 2485.5 1092.4 2486.0 1087.6 2486.4 1090.5 2486.9 1088.8 2487.3 1077.4 2487.8 1073.5 2488.3 1080.6 2488.7 1086.4 2489.2 1083.4 2489.6 1094.6 2490.1 1088.6 2490.6 1095.8 2491.0 1088.4 2491.5 1081.0 2491.9 1096.2 2492.4 1093.5 2492.9 1081.4 2493.3 1086.0 2493.8 1116.5 2494.2 1059.1 2494.7 1101.9 2495.2 1092.4 2495.6 1091.7 2496.1 1090.0 2496.5 1088.5 2497.0 1116.1 2497.5 1131.0 2497.9 1092.0 2498.4 1102.2 2498.8 1187.2 2499.3 1091.6 2499.8 1090.0 2500.2 1079.5 2500.7 1101.6 2501.1 1080.8 2501.6 1067.3 2502.0 1099.3 2502.5 1095.9 2503.0 1129.8 2503.4 1082.6 2503.9 1098.1 2504.3 1076.0 2504.8 1064.9 2505.3 1086.5 2505.7 1092.0 2506.2 1089.6 2506.6 1102.9 2507.1 1091.6 2507.6 1082.0 2508.0 1082.8 2508.5 1093.5 2508.9 1084.9 2509.4 1084.7 2509.9 1118.4 2510.3 1083.9 2510.8 1075.0 2511.2 1090.0 2511.7 1089.5 2512.2 1095.4 2512.6 1106.1 2513.1 1087.9 2513.5 1103.7 2514.0 1079.8 2514.5 1092.5 2514.9 1100.5 2515.4 1110.4 2515.8 1081.9 2516.3 1090.4 2516.8 1094.6 2517.2 1092.0 2517.7 1083.6 2518.1 1076.8 2518.6 1080.3 2519.1 1090.9 2519.5 1078.6 2520.0 1107.9 2520.4 1102.4 2520.9 1072.2 2521.4 1085.3 2521.8 1102.3 2522.3 1103.2 2522.7 1099.7 2523.2 1075.1 2523.7 1084.9 2524.1 1100.3 2524.6 1088.8 2525.0 1083.1 2525.5 1091.9 2526.0 1096.2 2526.4 1087.8 2526.9 1088.5 2527.3 1096.1 2527.8 1107.6 2528.3 1076.5 2528.7 1092.1 2529.2 1073.1 2529.6 1088.9 2530.1 1134.1 2530.6 1092.2 2531.0 1074.1 2531.5 1097.5 2531.9 1090.7 2532.4 1086.4 2532.9 1082.3 2533.3 1090.3 2533.8 1084.2 2534.2 1082.9 2534.7 1105.8 2535.2 1102.5 2535.6 1109.8 2536.1 1086.5 2536.5 1082.1 2537.0 1086.8 2537.5 1108.3 2537.9 1109.4 2538.4 1083.6 2538.8 1110.6 2539.3 1096.3 2539.8 1088.7 2540.2 1098.9 2540.7 1149.2 2541.1 1096.8 2541.6 1096.8 2542.1 1090.1 2542.5 1123.4 2543.0 1093.7 2543.4 1081.4 2543.9 1102.2 2544.4 1087.9 2544.8 1108.2 2545.3 1080.1 2545.7 1108.3 2546.2 1086.1 2546.7 1085.6 2547.1 1096.5 2547.6 1101.9 2548.0 1092.5 2548.5 1089.1 2549.0 1111.2 2549.4 1096.8 2549.9 1080.4 2550.3 1089.2 2550.8 1107.7 2551.3 1094.6 2551.7 1099.2 2552.2 1110.6 2552.6 1085.5 2553.1 1094.6 2553.6 1084.5 2554.0 1090.7 2554.5 1095.8 2554.9 1077.8 2555.4 1091.8 2555.9 1091.7 2556.3 1100.3 2556.8 1084.4 2557.2 1077.8 2557.7 1093.6 2558.2 1079.0 2558.6 1091.4 2559.1 1094.9 2559.5 1081.0 2560.0 1088.1 2560.5 1079.2 2560.9 1061.9 2561.4 1075.0 2561.8 1118.2 2562.3 1088.8 2562.8 1055.2 2563.2 1086.4 2563.7 1086.7 2564.1 1096.8 2564.6 1082.7 2565.1 1081.6 2565.5 1089.6 2566.0 1099.6 2566.4 1082.9 2566.9 1086.2 2567.4 1080.4 2567.8 1074.9 2568.3 1066.2 2568.7 1079.4 2569.2 1077.0 2569.7 1076.5 2570.1 1097.1 2570.6 1074.2 2571.0 1079.9 2571.5 1072.8 2572.0 1086.7 2572.4 1071.9 2572.9 1091.8 2573.3 1071.2 2573.8 1081.6 2574.2 1084.3 2574.7 1072.8 2575.2 1083.7 2575.6 1076.6 2576.1 1069.2 2576.5 1070.5 2577.0 1080.6 2577.5 1094.9 2577.9 1073.6 2578.4 1084.0 2578.8 1071.6 2579.3 1082.1 2579.8 1067.7 2580.2 1073.1 2580.7 1081.0 2581.1 1074.4 2581.6 1129.0 2582.1 1092.1 2582.5 1081.7 2583.0 1076.5 2583.4 1072.0 2583.9 1079.0 2584.4 1095.3 2584.8 1083.9 2585.3 1083.6 2585.7 1092.1 2586.2 1093.6 2586.7 1095.4 2587.1 1082.8 2587.6 1077.8 2588.0 1070.9 2588.5 1080.6 2589.0 1083.9 2589.4 1094.7 2589.9 1091.1 2590.3 1082.9 2590.8 1097.0 2591.3 1077.0 2591.7 1079.2 2592.2 1078.3 2592.6 1079.5 2593.1 1087.5 2593.6 1081.6 2594.0 1082.0 2594.5 1101.7 2594.9 1074.7 2595.4 1078.4 2595.9 1085.7 2596.3 1091.8 2596.8 1121.1 2597.2 1084.4 2597.7 1083.1 2598.2 1083.7 2598.6 1093.0 2599.1 1076.8 2599.5 1062.9 2600.0 1086.7 2600.5 1073.8 2600.9 1084.3 2601.4 1098.1 2601.8 1085.8 2602.3 1102.3 2602.8 1069.8 2603.2 1087.2 2603.7 1088.6 2604.1 1092.8 2604.6 1078.0 2605.1 1086.4 2605.5 1086.1 2606.0 1085.8 2606.4 1071.8 2606.9 1068.5 2607.4 1090.0 2607.8 1088.0 2608.3 1084.9 2608.7 1090.2 2609.2 1093.8 2609.7 1071.3 2610.1 1087.9 2610.6 1092.0 2611.0 1083.5 2611.5 1073.7 2612.0 1067.0 2612.4 1036.1 2612.9 1031.6 2613.3 1029.4 2613.8 1014.0 2614.3 981.9 2614.7 949.1 2615.2 927.3 2615.6 913.0 2616.1 903.0 2616.6 874.7 2617.0 851.4 2617.5 858.2 2617.9 859.5 2618.4 818.0 2618.9 886.8 2619.3 901.9 2619.8 924.1 2620.2 977.7 2620.7 963.2 2621.2 991.0 2621.6 1007.5 2622.1 1033.7 2622.5 1046.3 2623.0 1064.7 2623.5 1078.1" stroke="#d62728" stroke-opacity="0.9" stroke-width="4.8"/>
<path d="M1554.0 1099.2 C1554.4 1093.4 1555.3 1074.0 1556.3 1064.3 C1557.3 1054.6 1558.3 1044.2 1560.2 1041.0 C1562.1 1037.7 1566.0 1044.4 1568.0 1044.9 C1569.9 1045.3 1570.6 1042.4 1571.8 1043.9 C1573.1 1045.3 1574.1 1053.6 1575.7 1053.6 C1577.3 1053.6 1579.4 1046.1 1581.6 1043.9 C1583.7 1041.6 1586.1 1038.5 1588.3 1040.0 C1590.6 1041.5 1593.0 1048.9 1595.1 1052.6 C1597.2 1056.3 1598.7 1060.9 1601.0 1062.3 C1603.2 1063.8 1606.1 1061.4 1608.7 1061.4 C1611.3 1061.3 1614.2 1061.3 1616.5 1061.9 C1618.8 1062.6 1619.7 1065.6 1622.3 1065.2 C1624.9 1064.9 1629.4 1059.5 1632.0 1060.0 C1634.6 1060.5 1635.9 1067.9 1637.9 1068.2 C1639.8 1068.4 1641.6 1062.7 1643.7 1061.4 C1645.8 1060.1 1648.2 1059.9 1650.5 1060.4 C1652.8 1060.9 1654.7 1062.7 1657.3 1064.3 C1659.9 1065.9 1663.4 1071.4 1666.0 1070.1 C1668.6 1068.8 1670.6 1057.5 1672.8 1056.5 C1675.1 1055.5 1677.7 1064.3 1679.6 1064.3 C1681.6 1064.3 1682.5 1057.8 1684.5 1056.5 C1686.4 1055.2 1686.1 1055.5 1691.3 1056.5 C1696.4 1057.5 1709.3 1062.6 1715.6 1062.5 C1721.9 1062.3 1724.6 1055.6 1729.2 1055.7 C1733.7 1055.8 1737.7 1061.3 1742.8 1063.2 C1747.9 1065.0 1753.5 1066.0 1759.8 1066.6 C1766.0 1067.1 1775.1 1064.9 1780.1 1066.6 C1785.2 1068.3 1786.4 1077.6 1790.3 1076.8 C1794.3 1075.9 1800.5 1061.5 1803.9 1061.5 C1807.3 1061.5 1807.3 1074.8 1810.7 1076.8 C1814.1 1078.7 1819.8 1073.9 1824.3 1073.4 C1828.9 1072.8 1834.5 1072.2 1837.9 1073.4 C1841.3 1074.5 1840.2 1081.8 1844.7 1080.1 C1849.3 1078.5 1859.5 1062.6 1865.1 1063.2 C1870.8 1063.7 1874.8 1082.1 1878.7 1083.5 C1882.7 1085.0 1885.5 1071.5 1888.9 1071.7 C1892.3 1071.8 1896.3 1084.6 1899.1 1084.2 C1901.9 1083.8 1902.5 1070.5 1905.9 1069.3 C1909.3 1068.0 1914.1 1076.9 1919.5 1076.8 C1924.9 1076.6 1932.5 1068.8 1938.2 1068.3 C1943.9 1067.7 1949.5 1068.3 1953.5 1073.4 C1957.5 1078.5 1959.2 1099.4 1962.0 1098.8 C1964.8 1098.3 1966.8 1072.8 1970.5 1070.0 C1974.2 1067.1 1980.1 1081.6 1984.1 1081.8 C1988.1 1082.1 1989.8 1073.1 1994.3 1071.7 C1998.8 1070.2 2007.3 1071.1 2011.3 1073.4 C2015.3 1075.6 2015.0 1087.1 2018.1 1085.2 C2021.2 1083.4 2026.1 1063.0 2030.0 1062.5 C2033.8 1061.9 2037.5 1080.9 2041.2 1081.8 C2044.9 1082.8 2047.4 1070.9 2052.1 1068.3 C2056.7 1065.6 2064.4 1066.4 2069.1 1065.9 C2073.7 1065.3 2077.7 1065.0 2080.0 1064.9 C2082.3 1064.7 2079.8 1063.7 2082.7 1064.9 C2085.5 1066.0 2092.3 1071.3 2097.0 1071.7 C2101.6 1072.0 2104.9 1067.2 2110.6 1067.2 C2116.3 1067.2 2124.2 1070.3 2131.0 1071.7 C2137.8 1073.0 2145.4 1075.3 2151.4 1075.1 C2157.3 1074.8 2162.4 1068.0 2166.7 1070.0 C2170.9 1071.9 2173.8 1085.8 2176.9 1086.9 C2180.0 1088.1 2182.5 1080.7 2185.4 1076.8 C2188.2 1072.8 2191.0 1061.5 2193.9 1063.2 C2196.7 1064.9 2200.1 1083.5 2202.4 1086.9 C2204.6 1090.3 2206.0 1083.3 2207.5 1083.5 C2208.9 1083.8 2209.4 1090.1 2210.9 1088.6 C2212.3 1087.2 2213.1 1077.6 2216.0 1075.1 C2218.8 1072.5 2224.5 1072.5 2227.9 1073.4 C2231.3 1074.2 2233.5 1080.0 2236.4 1080.1 C2239.2 1080.3 2242.3 1072.9 2244.9 1074.0 C2247.4 1075.2 2249.1 1086.6 2251.7 1086.9 C2254.2 1087.3 2257.6 1077.8 2260.1 1076.1 C2262.7 1074.4 2264.7 1074.7 2266.9 1076.8 C2269.2 1078.8 2271.2 1089.5 2273.7 1088.6 C2276.3 1087.8 2279.4 1074.2 2282.2 1071.7 C2285.1 1069.1 2288.6 1071.1 2290.7 1073.4 C2292.8 1075.6 2292.6 1085.2 2294.8 1085.2 C2297.1 1085.2 2299.4 1075.2 2304.3 1073.4 C2309.3 1071.5 2319.9 1074.0 2324.7 1074.0 C2329.5 1074.0 2330.8 1076.6 2333.2 1073.4 C2335.6 1070.1 2336.7 1054.1 2339.0 1054.7 C2341.3 1055.2 2342.4 1072.8 2346.8 1076.8 C2351.2 1080.7 2360.1 1078.6 2365.5 1078.5 C2370.9 1078.3 2373.2 1076.1 2379.1 1076.1 C2385.1 1076.1 2396.6 1075.4 2401.2 1078.5 C2405.9 1081.5 2403.0 1094.4 2407.0 1094.4 C2411.0 1094.4 2419.7 1079.4 2425.0 1078.5 C2430.3 1077.5 2434.9 1088.6 2438.6 1088.6 C2442.3 1088.6 2441.7 1079.6 2447.1 1078.5 C2452.5 1077.3 2464.1 1081.1 2470.9 1081.8 C2477.7 1082.6 2483.4 1080.8 2487.9 1082.9 C2492.4 1085.0 2495.0 1094.4 2498.1 1094.4 C2501.2 1094.4 2503.5 1083.1 2506.6 1082.9 C2509.7 1082.6 2512.8 1093.0 2516.8 1093.1 C2520.7 1093.2 2527.0 1082.0 2530.4 1083.5 C2533.8 1085.1 2534.1 1100.8 2537.2 1102.2 C2540.3 1103.7 2544.8 1094.3 2549.1 1092.0 C2553.3 1089.8 2559.7 1090.1 2562.7 1088.6 C2565.6 1087.2 2564.8 1086.0 2566.6 1083.5 C2568.3 1081.0 2570.4 1073.7 2573.2 1073.7 C2575.9 1073.7 2579.8 1080.8 2583.1 1083.5 C2586.4 1086.3 2589.7 1087.7 2593.0 1090.1 C2596.3 1092.6 2600.1 1099.5 2602.9 1098.4 C2605.6 1097.3 2607.5 1105.8 2609.5 1083.5 C2611.4 1061.3 2612.9 991.2 2614.4 964.9 C2615.9 938.5 2617.6 926.4 2618.7 925.3 C2619.8 924.2 2620.3 935.2 2621.0 958.3 C2621.7 981.3 2622.4 1046.2 2622.6 1063.8" stroke="#000" stroke-width="2.4"/>
<path d="M2564.1 1106.2 L2564.6 1064.8 2565.1 1091.5 2565.5 1082.6 2566.0 1083.6 2566.4 1085.7 2566.9 1069.4 2567.4 1085.4 2567.8 1079.7 2568.3 1117.1 2568.7 1089.4 2569.2 1084.1 2569.7 1084.7 2570.1 1081.2 2570.6 1077.7 2571.0 1083.6 2571.5 1091.4 2572.0 1084.9 2572.4 1095.1 2572.9 1084.1 2573.3 1085.6 2573.8 1098.7 2574.2 1089.2 2574.7 1079.2 2575.2 1082.2 2575.6 1089.2 2576.1 1102.2 2576.5 1082.8 2577.0 1083.5 2577.5 1095.2 2577.9 1078.7 2578.4 1084.5 2578.8 1095.5 2579.3 1093.2 2579.8 1089.3 2580.2 1095.0 2580.7 1063.9 2581.1 1099.1 2581.6 1081.7 2582.1 1075.8 2582.5 1093.7 2583.0 1098.0 2583.4 1087.2 2583.9 1080.9 2584.4 1090.1 2584.8 1088.7 2585.3 1101.1 2585.7 1094.5 2586.2 1088.8 2586.7 1096.4 2587.1 1083.9 2587.6 1076.7 2588.0 1089.6 2588.5 1088.9 2589.0 1081.0 2589.4 1075.2 2589.9 1084.0 2590.3 1059.6 2590.8 1088.3 2591.3 1086.6 2591.7 1067.5 2592.2 1082.9 2592.6 1073.7 2593.1 1089.3 2593.6 1064.2 2594.0 1074.4 2594.5 1089.1 2594.9 1093.2 2595.4 1063.4 2595.9 1078.4 2596.3 1086.0 2596.8 1077.6 2597.2 1097.5 2597.7 1072.5 2598.2 1086.5 2598.6 1074.0 2599.1 1096.1 2599.5 1083.3 2600.0 1080.0 2600.5 1067.6 2600.9 1098.0 2601.4 1089.4 2601.8 1089.2 2602.3 1092.4 2602.8 1085.0 2603.2 1075.9 2603.7 1074.1 2604.1 1073.7 2604.6 1092.8 2605.1 1066.8 2605.5 1073.9 2606.0 1075.4 2606.4 1079.9 2606.9 1082.7 2607.4 1065.4 2607.8 1059.4 2608.3 1071.6 2608.7 1077.7 2609.2 1067.3 2609.7 1054.8 2610.1 1040.8 2610.6 1035.5 2611.0 1018.5 2611.5 1014.6 2612.0 985.7 2612.4 979.3 2612.9 962.5 2613.3 954.6 2613.8 939.4 2614.3 950.3 2614.7 933.5 2615.2 929.3 2615.6 896.8 2616.1 914.9 2616.6 918.6 2617.0 937.9 2617.5 924.0 2617.9 968.4 2618.4 981.8 2618.9 975.2 2619.3 992.7 2619.8 1008.2 2620.2 1028.5 2620.7 1045.3 2621.2 1067.8 2621.6 1055.9 2622.1 1071.5 2622.5 1071.4 2623.0 1093.8 2623.5 1086.4 2623.9 1097.9 2624.4 1064.2 2624.8 1076.4 2625.3 1065.4 2625.8 1104.1 2626.2 1088.6 2626.7 1070.1 2627.1 1066.2 2627.6 1081.4 2628.1 1059.1 2628.5 1053.7 2629.0 1076.9 2629.4 1109.6 2629.9 1061.4 2630.4 1054.7 2630.8 1042.8 2631.3 1038.7 2631.7 1068.6 2632.2 1072.5 2632.7 1057.6 2633.1 1064.1 2633.6 1061.7 2634.0 985.0 2634.5 1037.3 2635.0 1055.8 2635.4 1066.1 2635.9 1053.0 2636.3 1059.1 2636.8 1054.9 2637.3 1063.7 2637.7 1083.4 2638.2 1065.0 2638.6 1070.1 2639.1 1000.0 2639.6 1084.0 2640.0 1100.4 2640.5 1044.3 2640.9 1088.9 2641.4 1069.7 2641.9 1079.4 2642.3 1090.3 2642.8 1094.4 2643.2 1094.3 2643.7 1082.3 2644.2 1103.5 2644.6 1077.3 2645.1 1080.0 2645.5 1093.6 2646.0 1075.8 2646.4 1112.9 2646.9 1098.0 2647.4 1113.6 2647.8 1084.9 2648.3 1080.3 2648.7 1061.5 2649.2 1094.3 2649.7 1078.1 2650.1 1089.7 2650.6 1085.0 2651.0 1103.9 2651.5 1077.7 2652.0 1096.9 2652.4 1078.1 2652.9 1074.8 2653.3 1077.6 2653.8 1072.7 2654.3 1086.7 2654.7 1095.6 2655.2 1086.9 2655.6 1091.3 2656.1 1100.8 2656.6 1087.8 2657.0 1087.0 2657.5 1082.8 2657.9 1071.0 2658.4 1091.8 2658.9 1070.4 2659.3 1090.6 2659.8 1085.1 2660.2 1094.3 2660.7 1084.7 2661.2 1078.7 2661.6 1088.1 2662.1 1080.8 2662.5 1083.8 2663.0 1085.6 2663.5 1084.2 2663.9 1083.8 2664.4 1078.7 2664.8 1083.8 2665.3 1068.3 2665.8 1084.1 2666.2 1075.8 2666.7 1094.4 2667.1 1095.6 2667.6 1069.9 2668.1 1086.6 2668.5 1084.5 2669.0 1077.2 2669.4 1089.8 2669.9 1081.9 2670.4 1071.5 2670.8 1083.5 2671.3 1084.4 2671.7 1086.5 2672.2 1075.8 2672.7 1090.5 2673.1 1091.5 2673.6 1076.6 2674.0 1080.5 2674.5 1085.1 2675.0 1081.2 2675.4 1099.6 2675.9 1087.4 2676.3 1077.8 2676.8 1079.5 2677.3 1085.4 2677.7 1104.1 2678.2 1084.4 2678.6 1086.9 2679.1 1090.0 2679.6 1085.6 2680.0 1104.0 2680.5 1081.7 2680.9 1091.9 2681.4 1087.2 2681.9 1090.9 2682.3 1076.7 2682.8 1100.0 2683.2 1085.1 2683.7 1086.3 2684.2 1078.7 2684.6 1080.3 2685.1 1090.6 2685.5 1093.9 2686.0 1092.1 2686.5 1095.7 2686.9 1108.0 2687.4 1086.4 2687.8 1092.8 2688.3 1090.9 2688.8 1085.5 2689.2 1092.0 2689.7 1096.0 2690.1 1087.3 2690.6 1082.2 2691.1 1090.3 2691.5 1099.2 2692.0 1082.2 2692.4 1082.7 2692.9 1082.0 2693.4 1092.3 2693.8 1067.8 2694.3 1084.7 2694.7 1090.8 2695.2 1074.6 2695.7 1092.4 2696.1 1084.5 2696.6 1075.5 2697.0 1081.1 2697.5 1067.0 2698.0 1074.2 2698.4 1092.6 2698.9 1070.8 2699.3 1092.0 2699.8 1077.0 2700.3 1085.6 2700.7 1078.4 2701.2 1060.6 2701.6 1073.9 2702.1 1080.1 2702.6 1069.8 2703.0 1068.4 2703.5 1082.1 2703.9 1074.3 2704.4 1066.3 2704.9 1074.4 2705.3 1086.8 2705.8 1076.5 2706.2 1087.7 2706.7 1092.6 2707.2 1081.1 2707.6 1072.2 2708.1 1071.0 2708.5 1081.2 2709.0 1088.5 2709.5 1083.9 2709.9 1086.2 2710.4 1078.4 2710.8 1084.3 2711.3 1078.3 2711.8 1079.5 2712.2 1072.0 2712.7 1069.8 2713.1 1078.4 2713.6 1073.5 2714.1 1074.7 2714.5 1087.5 2715.0 1081.5 2715.4 1105.1 2715.9 1089.6 2716.3 1077.5 2716.8 1088.5 2717.3 1085.3 2717.7 1077.2 2718.2 1091.2 2718.6 1076.6 2719.1 1058.8 2719.6 1088.9 2720.0 1077.9 2720.5 1094.3 2720.9 1077.7 2721.4 1050.4 2721.9 1094.9 2722.3 1074.5 2722.8 1084.5 2723.2 1094.3 2723.7 1083.9 2724.2 1082.4 2724.6 1104.3 2725.1 1089.7 2725.5 1076.9 2726.0 1088.0 2726.5 1087.7 2726.9 1101.4 2727.4 1080.7 2727.8 1076.3 2728.3 1089.1 2728.8 1080.4 2729.2 1085.7 2729.7 1084.6 2730.1 1092.5 2730.6 1078.2 2731.1 1082.4 2731.5 1063.2 2732.0 1075.9 2732.4 1094.5 2732.9 1077.2 2733.4 1076.9 2733.8 1072.7 2734.3 1086.5 2734.7 1083.2 2735.2 1072.5 2735.7 1086.6 2736.1 1083.3 2736.6 1087.0 2737.0 1076.0 2737.5 1094.2 2738.0 1083.8 2738.4 1079.6 2738.9 1076.3 2739.3 1078.2 2739.8 1086.6 2740.3 1077.7 2740.7 1087.9 2741.2 1083.9 2741.6 1089.7 2742.1 1085.4 2742.6 1078.5 2743.0 1064.1 2743.5 1080.9 2743.9 1084.5 2744.4 1079.5 2744.9 1082.4 2745.3 1074.3 2745.8 1074.9 2746.2 1070.4 2746.7 1087.9 2747.2 1078.5 2747.6 1073.3 2748.1 1066.7 2748.5 1075.6 2749.0 1088.0 2749.5 1080.7 2749.9 1071.8 2750.4 1088.5 2750.8 1088.7 2751.3 1085.5 2751.8 1084.2 2752.2 1087.2 2752.7 1082.7 2753.1 1084.7 2753.6 1073.0 2754.1 1090.6 2754.5 1081.1 2755.0 1095.1 2755.4 1064.1 2755.9 1085.4 2756.4 1087.7 2756.8 1077.8 2757.3 1084.0 2757.7 1086.5 2758.2 1085.4 2758.7 1077.1 2759.1 1080.3 2759.6 1089.4 2760.0 1091.6 2760.5 1082.8 2761.0 1082.8 2761.4 1084.0 2761.9 1090.6 2762.3 1074.8 2762.8 1072.9 2763.3 1084.2 2763.7 1075.0 2764.2 1079.4 2764.6 1085.1 2765.1 1088.8 2765.6 1077.5 2766.0 1092.4 2766.5 1073.4 2766.9 1091.7 2767.4 1076.1 2767.9 1079.1 2768.3 1094.3 2768.8 1086.9 2769.2 1084.1 2769.7 1086.3 2770.2 1092.8 2770.6 1088.4 2771.1 1088.1 2771.5 1095.9 2772.0 1081.9 2772.5 1083.3 2772.9 1082.5 2773.4 1094.9 2773.8 1093.1 2774.3 1094.9 2774.8 1084.4 2775.2 1083.0 2775.7 1090.2 2776.1 1081.1 2776.6 1091.3 2777.1 1091.4 2777.5 1081.5 2778.0 1087.0 2778.4 1087.6 2778.9 1102.6 2779.4 1109.9 2779.8 1090.4 2780.3 1092.1 2780.7 1074.3 2781.2 1092.8 2781.7 1090.7 2782.1 1082.2 2782.6 1095.8 2783.0 1077.6 2783.5 1087.3 2784.0 1089.6 2784.4 1078.7 2784.9 1094.1 2785.3 1095.2 2785.8 1076.3 2786.3 1075.7 2786.7 1090.4 2787.2 1085.2 2787.6 1075.9 2788.1 1082.4 2788.5 1083.3 2789.0 1082.6 2789.5 1089.5 2789.9 1085.7 2790.4 1095.7 2790.8 1092.3 2791.3 1086.6 2791.8 1089.2 2792.2 1090.6 2792.7 1085.5 2793.1 1015.6 2793.6 1085.8 2794.1 1079.4 2794.5 1090.6 2795.0 1079.5 2795.4 1083.0 2795.9 1081.8 2796.4 1092.3 2796.8 1081.3 2797.3 1078.3 2797.7 1082.9 2798.2 1077.6 2798.7 1082.4 2799.1 1081.5 2799.6 1083.9 2800.0 1096.5 2800.5 1079.4 2801.0 1083.0 2801.4 1081.5 2801.9 1088.4 2802.3 1074.8 2802.8 1078.8 2803.3 1084.0 2803.7 1088.7 2804.2 1084.5 2804.6 1081.4 2805.1 1078.7 2805.6 1089.0 2806.0 1096.0 2806.5 1087.6 2806.9 1086.6 2807.4 1088.5 2807.9 1078.0 2808.3 1082.7 2808.8 1083.1 2809.2 1087.3 2809.7 1084.8 2810.2 1075.9 2810.6 1093.4 2811.1 1097.6 2811.5 1083.0 2812.0 1087.9 2812.5 1086.9 2812.9 1090.8 2813.4 1073.8 2813.8 1096.9 2814.3 1081.3 2814.8 1094.3 2815.2 1085.4 2815.7 1081.8 2816.1 1083.7 2816.6 1091.4 2817.1 1078.2 2817.5 1081.9 2818.0 1081.0 2818.4 1071.8 2818.9 1094.3 2819.4 1088.9 2819.8 1084.4 2820.3 1093.3 2820.7 1077.4 2821.2 1083.9 2821.7 1097.4 2822.1 1069.7 2822.6 1067.8 2823.0 1059.7 2823.5 1076.6 2824.0 1092.3 2824.4 1080.8 2824.9 1082.7 2825.3 1088.9 2825.8 1077.7 2826.3 1085.9 2826.7 1090.2 2827.2 1087.7 2827.6 1087.2 2828.1 1079.7 2828.6 1088.0 2829.0 1080.9 2829.5 1093.9 2829.9 1103.3 2830.4 1078.5 2830.9 1067.8 2831.3 1080.9 2831.8 1086.8 2832.2 1091.8 2832.7 1092.0 2833.2 1078.1 2833.6 1078.0 2834.1 1093.4 2834.5 1075.7 2835.0 1092.0 2835.5 1104.0 2835.9 1089.6 2836.4 1089.1 2836.8 1089.6 2837.3 1089.9 2837.8 1076.4 2838.2 1085.9 2838.7 1083.8 2839.1 1086.0 2839.6 1092.9 2840.1 1081.6 2840.5 1078.3 2841.0 1078.2 2841.4 1081.3 2841.9 1089.2 2842.4 1077.5 2842.8 1072.1 2843.3 1085.9 2843.7 1082.2 2844.2 1074.0 2844.7 1085.9 2845.1 1089.3 2845.6 1071.1 2846.0 1093.2 2846.5 1096.7 2847.0 1087.0 2847.4 1088.3 2847.9 1102.7 2848.3 1094.0 2848.8 1078.2 2849.3 1084.9 2849.7 1083.9 2850.2 1084.0 2850.6 1067.6 2851.1 1091.0 2851.6 1116.9 2852.0 1086.7 2852.5 1084.6 2852.9 1092.2 2853.4 1083.6 2853.9 1080.0 2854.3 1090.0 2854.8 1096.6 2855.2 1083.8 2855.7 1096.5 2856.2 1088.3 2856.6 1082.5 2857.1 1097.9 2857.5 1080.5 2858.0 1124.2 2858.5 1083.1 2858.9 1090.3 2859.4 1099.0 2859.8 1080.8 2860.3 1095.1 2860.7 1088.7 2861.2 1087.7 2861.7 1084.2 2862.1 1090.9 2862.6 1077.2 2863.0 1079.2 2863.5 1086.3 2864.0 1081.2 2864.4 1082.1 2864.9 1086.8 2865.3 1086.2 2865.8 1085.5 2866.3 1099.5 2866.7 1094.6 2867.2 1096.1 2867.6 1086.7 2868.1 1083.1 2868.6 1075.9 2869.0 1084.1 2869.5 1071.1 2869.9 1082.2 2870.4 1092.2 2870.9 1098.5 2871.3 1093.6 2871.8 1079.9 2872.2 1089.9 2872.7 1080.3 2873.2 1092.3 2873.6 1085.2 2874.1 1092.4 2874.5 1105.1 2875.0 1092.7 2875.5 1103.2 2875.9 1087.1 2876.4 1083.2 2876.8 1095.6 2877.3 1098.4 2877.8 1081.4 2878.2 1086.0 2878.7 1098.4 2879.1 1083.8 2879.6 1091.9 2880.1 1084.8 2880.5 1081.3 2881.0 1075.2 2881.4 1088.6 2881.9 1091.9 2882.4 1090.5 2882.8 1088.1 2883.3 1076.9 2883.7 1099.6 2884.2 1086.2 2884.7 1085.7 2885.1 1092.4 2885.6 1071.0 2886.0 1086.7 2886.5 1086.3 2887.0 1090.3 2887.4 1097.6 2887.9 1091.3 2888.3 1074.3 2888.8 1085.5 2889.3 1089.7 2889.7 1089.4 2890.2 1078.9 2890.6 1076.2 2891.1 1092.8 2891.6 1091.4 2892.0 1088.8 2892.5 1076.3 2892.9 1102.5 2893.4 1067.9 2893.9 1086.8 2894.3 1105.2 2894.8 1088.7 2895.2 1091.7 2895.7 1081.3 2896.2 1100.3 2896.6 1080.7 2897.1 1092.2 2897.5 1091.3 2898.0 1082.5 2898.5 1096.8 2898.9 1079.7 2899.4 1085.1 2899.8 1090.0 2900.3 1087.1 2900.8 1093.6 2901.2 1097.0 2901.7 1087.9 2902.1 1086.1 2902.6 1086.2 2903.1 1087.3 2903.5 1096.0 2904.0 1088.4 2904.4 1093.0 2904.9 1089.3 2905.4 1083.7 2905.8 1096.3 2906.3 1082.2 2906.7 1089.9 2907.2 1100.9 2907.7 1081.7 2908.1 1089.4 2908.6 1078.0 2909.0 1086.0 2909.5 1078.7 2910.0 1087.1 2910.4 1085.7 2910.9 1074.1 2911.3 1101.4 2911.8 1091.8 2912.3 1094.5 2912.7 1089.2 2913.2 1087.8 2913.6 1083.4 2914.1 1076.2 2914.6 1090.0 2915.0 1101.6 2915.5 1093.0 2915.9 1085.5 2916.4 1101.7 2916.9 1086.2 2917.3 1084.8 2917.8 1080.4 2918.2 1082.2 2918.7 1087.5 2919.2 1104.1 2919.6 1087.8 2920.1 1081.6 2920.5 1084.8 2921.0 1087.6 2921.5 1076.5 2921.9 1090.1 2922.4 1094.4 2922.8 1091.5 2923.3 1093.6 2923.8 1079.6 2924.2 1076.5 2924.7 1098.6 2925.1 1097.2 2925.6 1077.6 2926.1 1090.5 2926.5 1089.2 2927.0 1093.0 2927.4 1090.5 2927.9 1085.2 2928.4 1090.3 2928.8 1090.0 2929.3 1088.5 2929.7 1075.1 2930.2 1066.6 2930.7 1082.9 2931.1 1076.7 2931.6 1090.6 2932.0 1094.0 2932.5 1090.7 2932.9 1086.0 2933.4 1089.2 2933.9 1097.3 2934.3 1083.3 2934.8 1095.5 2935.2 1093.9 2935.7 1090.6 2936.2 1099.4 2936.6 1083.3 2937.1 1095.6 2937.5 1081.8 2938.0 1083.0 2938.5 1080.8 2938.9 1091.9 2939.4 1081.7 2939.8 1089.0 2940.3 1080.2 2940.8 1096.5 2941.2 1102.2 2941.7 1090.3 2942.1 1100.8 2942.6 1092.8 2943.1 1104.7 2943.5 1089.4 2944.0 1077.0 2944.4 1099.7 2944.9 1087.7 2945.4 1081.0 2945.8 1083.8 2946.3 1076.6 2946.7 1087.4 2947.2 1080.7 2947.7 1099.6 2948.1 1093.6 2948.6 1076.4 2949.0 1077.5 2949.5 1084.5 2950.0 1074.4 2950.4 1087.8 2950.9 1088.3 2951.3 1082.9 2951.8 1084.6 2952.3 1092.3 2952.7 1099.2 2953.2 1100.0 2953.6 1089.5 2954.1 1095.8 2954.6 1084.3 2955.0 1093.1 2955.5 1083.2 2955.9 1096.0 2956.4 1081.7 2956.9 1084.0 2957.3 1091.3 2957.8 1095.7 2958.2 1081.3 2958.7 1088.2 2959.2 1093.4 2959.6 1094.4 2960.1 1086.7 2960.5 1093.9 2961.0 1091.5 2961.5 1104.1 2961.9 1098.1 2962.4 1084.5 2962.8 1078.2 2963.3 1095.5 2963.8 1103.8 2964.2 1096.6 2964.7 1101.7 2965.1 1091.2 2965.6 1084.2 2966.1 1099.3 2966.5 1094.0 2967.0 1097.8 2967.4 1082.1 2967.9 1093.1 2968.4 1086.6 2968.8 1096.7 2969.3 1086.0 2969.7 1085.3 2970.2 1085.0 2970.7 1098.1 2971.1 1088.5 2971.6 1082.2 2972.0 1079.7 2972.5 1079.1 2973.0 1097.1 2973.4 1073.0 2973.9 1080.3 2974.3 1091.4 2974.8 1095.6 2975.3 1086.0 2975.7 1093.0 2976.2 1093.0 2976.6 1094.8 2977.1 1088.0 2977.6 1100.0 2978.0 1089.6 2978.5 1099.6 2978.9 1080.3 2979.4 1095.5 2979.9 1079.5 2980.3 1077.9 2980.8 1092.8 2981.2 1083.2 2981.7 1092.8 2982.2 1081.8 2982.6 1101.7 2983.1 1090.1 2983.5 1081.8 2984.0 1091.6 2984.5 1097.0 2984.9 1085.0 2985.4 1094.6 2985.8 1106.0 2986.3 1097.4 2986.8 1091.0 2987.2 1087.0 2987.7 1095.5 2988.1 1080.2 2988.6 1069.1 2989.1 1086.7 2989.5 1083.7 2990.0 1104.6 2990.4 1092.9 2990.9 1084.7 2991.4 1083.5 2991.8 1095.8 2992.3 1086.1 2992.7 1088.1 2993.2 1091.8 2993.7 1093.2 2994.1 1093.4 2994.6 1093.6 2995.0 1102.4 2995.5 1105.5 2996.0 1080.9 2996.4 1112.1 2996.9 1094.2 2997.3 1102.5 2997.8 1088.0 2998.3 1095.9 2998.7 1095.2 2999.2 1094.6 2999.6 1100.1 3000.1 1098.6 3000.6 1086.6 3001.0 1093.3 3001.5 1099.6 3001.9 1099.3 3002.4 1091.3 3002.9 1091.2 3003.3 1091.6 3003.8 1084.1 3004.2 1082.2 3004.7 1102.7 3005.1 1087.8 3005.6 1090.9 3006.1 1084.2 3006.5 1098.7 3007.0 1101.6 3007.4 1086.6 3007.9 1091.4 3008.4 1081.6 3008.8 1099.9 3009.3 1093.9 3009.7 1081.1 3010.2 1096.6 3010.7 1090.3 3011.1 1090.8 3011.6 1090.6 3012.0 1083.3 3012.5 1084.4 3013.0 1093.1 3013.4 1088.3 3013.9 1081.9 3014.3 1104.0 3014.8 1087.7 3015.3 1085.3 3015.7 1084.5 3016.2 1094.9 3016.6 1097.1 3017.1 1092.0 3017.6 1096.7 3018.0 1079.5 3018.5 1088.0 3018.9 1087.4 3019.4 1091.1 3019.9 1094.8 3020.3 1076.4 3020.8 1114.5 3021.2 1085.4 3021.7 1094.5 3022.2 1098.2 3022.6 1122.7 3023.1 1094.2 3023.5 1071.3 3024.0 1084.8 3024.5 1098.6 3024.9 1086.4 3025.4 1085.6 3025.8 1076.2 3026.3 1102.6 3026.8 1078.0 3027.2 1087.5 3027.7 1093.2 3028.1 1093.6 3028.6 1086.3 3029.1 1092.7 3029.5 1096.7 3030.0 1099.1 3030.4 1104.5 3030.9 1095.6 3031.4 1092.1 3031.8 1098.7 3032.3 1091.3 3032.7 1086.9 3033.2 1104.6 3033.7 1093.6 3034.1 1097.5 3034.6 1101.3 3035.0 1088.3 3035.5 1101.0 3036.0 1099.4 3036.4 1095.3 3036.9 1098.8 3037.3 1090.2 3037.8 1079.5 3038.3 1093.5 3038.7 1088.7 3039.2 1101.7 3039.6 1097.1 3040.1 1091.2 3040.6 1095.3 3041.0 1104.7 3041.5 1103.0 3041.9 1097.3 3042.4 1097.6 3042.9 1092.3 3043.3 1093.3 3043.8 1098.4 3044.2 1093.1 3044.7 1096.0 3045.2 1064.4 3045.6 1081.4 3046.1 1081.0 3046.5 1090.2 3047.0 1103.0 3047.5 1101.8 3047.9 1085.7 3048.4 1081.5 3048.8 1098.6 3049.3 1096.0 3049.8 1082.5 3050.2 1100.2 3050.7 1093.6 3051.1 1101.9 3051.6 1094.6 3052.1 1098.4 3052.5 1094.2 3053.0 1084.7 3053.4 1089.9 3053.9 1086.5 3054.4 1097.4 3054.8 1083.9 3055.3 1079.9 3055.7 1096.0 3056.2 1099.2 3056.7 1101.3 3057.1 1098.6 3057.6 1079.4 3058.0 1085.3 3058.5 1086.2 3059.0 1090.0 3059.4 1074.2 3059.9 1090.2 3060.3 1092.5 3060.8 1083.8 3061.3 1091.9 3061.7 1100.0 3062.2 1091.9 3062.6 1099.5 3063.1 1099.5 3063.6 1095.3 3064.0 1095.4 3064.5 1090.1 3064.9 1102.2 3065.4 1089.9 3065.9 1088.5 3066.3 1099.1 3066.8 1088.9 3067.2 1097.5 3067.7 1102.4 3068.2 1095.5 3068.6 1096.0 3069.1 1102.2 3069.5 1101.2 3070.0 1084.7 3070.5 1086.7 3070.9 1106.3 3071.4 1099.5 3071.8 1081.5 3072.3 1086.9 3072.8 1097.0 3073.2 1089.7 3073.7 1100.3 3074.1 1097.5 3074.6 1100.6 3075.1 1088.5 3075.5 1101.7 3076.0 1111.5 3076.4 1118.7 3076.9 1130.0 3077.3 1104.5 3077.8 1102.1 3078.3 1097.0 3078.7 1089.0 3079.2 1091.2 3079.6 1103.2 3080.1 1104.8 3080.6 1106.7 3081.0 1104.8 3081.5 1104.4 3081.9 1094.7 3082.4 1089.1 3082.9 1099.5 3083.3 1101.7 3083.8 1098.7 3084.2 1087.1 3084.7 1094.4 3085.2 1087.5 3085.6 1099.4 3086.1 1090.7 3086.5 1097.2 3087.0 1100.8 3087.5 1099.5 3087.9 1108.5 3088.4 1090.6 3088.8 1082.6 3089.3 1105.2 3089.8 1152.8 3090.2 1108.3 3090.7 1099.7 3091.1 1101.3 3091.6 1098.1 3092.1 1087.5 3092.5 1092.6 3093.0 1100.1 3093.4 1092.1 3093.9 1110.0 3094.4 1084.6 3094.8 1092.5 3095.3 1103.5 3095.7 1090.8 3096.2 1086.7 3096.7 1084.9 3097.1 1073.9 3097.6 1105.3 3098.0 1097.1 3098.5 1097.8 3099.0 1090.2 3099.4 1100.1 3099.9 1094.7 3100.3 1087.2 3100.8 1090.6 3101.3 1095.3 3101.7 1102.4 3102.2 1093.4 3102.6 1097.5 3103.1 1108.5 3103.6 1073.1 3104.0 1084.7 3104.5 1100.9 3104.9 1096.9 3105.4 1093.0 3105.9 1095.6 3106.3 1091.2 3106.8 1097.4 3107.2 1091.1 3107.7 1099.4 3108.2 1085.0 3108.6 1087.6 3109.1 1094.3 3109.5 1090.1 3110.0 1098.5 3110.5 1093.1 3110.9 1089.5 3111.4 1094.9 3111.8 1089.5 3112.3 1082.0 3112.8 1085.1 3113.2 1087.5 3113.7 1089.9 3114.1 1094.0 3114.6 1099.9 3115.1 1097.2 3115.5 1106.2 3116.0 1102.5 3116.4 1091.8 3116.9 1105.2 3117.4 1133.1 3117.8 1089.8 3118.3 1095.4 3118.7 1101.0 3119.2 1094.8 3119.7 1100.4 3120.1 1095.9 3120.6 1098.1 3121.0 1090.7 3121.5 1095.7 3122.0 1090.4 3122.4 1098.0 3122.9 1080.8 3123.3 1095.6 3123.8 1102.3 3124.3 1097.5 3124.7 1093.1 3125.2 1097.3 3125.6 1087.3 3126.1 1087.4 3126.6 1090.9 3127.0 1092.5 3127.5 1100.6 3127.9 1087.2 3128.4 1101.0 3128.9 1082.4 3129.3 1088.1 3129.8 1093.6 3130.2 1102.3 3130.7 1089.5 3131.2 1078.5 3131.6 1097.1 3132.1 1093.9 3132.5 1086.3 3133.0 1086.7 3133.5 1089.2 3133.9 1095.1 3134.4 1099.2 3134.8 1083.7 3135.3 1111.1 3135.8 1094.3 3136.2 1091.9 3136.7 1099.5 3137.1 1095.5 3137.6 1111.7 3138.1 1102.7 3138.5 1092.2 3139.0 1077.4 3139.4 1091.3 3139.9 1092.5 3140.4 1099.9 3140.8 1090.4 3141.3 1106.8 3141.7 1094.6 3142.2 1094.2 3142.7 1102.2 3143.1 1081.0 3143.6 1088.6 3144.0 1099.8 3144.5 1095.6 3145.0 1095.5 3145.4 1098.5 3145.9 1091.3 3146.3 1094.5 3146.8 1085.9 3147.2 1082.2 3147.7 1105.0 3148.2 1089.1 3148.6 1071.0 3149.1 1106.1 3149.5 1103.7 3150.0 1092.3 3150.5 1092.3 3150.9 1095.6 3151.4 1089.3 3151.8 1100.3 3152.3 1097.4 3152.8 1097.3 3153.2 1101.9 3153.7 1101.7 3154.1 1109.9 3154.6 1107.6 3155.1 1084.2 3155.5 1103.2 3156.0 1088.6 3156.4 1086.4 3156.9 1101.9 3157.4 1091.6 3157.8 1094.4 3158.3 1104.4 3158.7 1091.8 3159.2 1090.0 3159.7 1098.8 3160.1 1105.3 3160.6 1100.2 3161.0 1085.1 3161.5 1091.6 3162.0 1095.1 3162.4 1110.2 3162.9 1102.6 3163.3 1102.3 3163.8 1104.8 3164.3 1093.8 3164.7 1099.4 3165.2 1099.5 3165.6 1088.8 3166.1 1095.7 3166.6 1099.9 3167.0 1087.9 3167.5 1101.5 3167.9 1085.5 3168.4 1103.1 3168.9 1089.9 3169.3 1096.3 3169.8 1106.0 3170.2 1101.1 3170.7 1089.7 3171.2 1096.9 3171.6 1105.5 3172.1 1094.7 3172.5 1097.9 3173.0 1113.7 3173.5 1094.8 3173.9 1094.2 3174.4 1087.7 3174.8 1090.2 3175.3 1105.6 3175.8 1093.8 3176.2 1086.2 3176.7 1088.0 3177.1 1094.7 3177.6 1100.2 3178.1 1089.2 3178.5 1099.7 3179.0 1090.9 3179.4 1097.0 3179.9 1098.1 3180.4 1098.7 3180.8 1091.1 3181.3 1093.0 3181.7 1097.8 3182.2 1084.7 3182.7 1095.3 3183.1 1097.7 3183.6 1101.4 3184.0 1093.6 3184.5 1092.5 3185.0 1094.8 3185.4 1088.4 3185.9 1092.1 3186.3 1096.5 3186.8 1095.5 3187.3 1085.9 3187.7 1091.0 3188.2 1078.1 3188.6 1099.1 3189.1 1089.4 3189.6 1094.9 3190.0 1085.2 3190.5 1092.5 3190.9 1096.2 3191.4 1100.0 3191.9 1083.1 3192.3 1098.9 3192.8 1091.6 3193.2 1087.1 3193.7 1096.1 3194.2 1090.5 3194.6 1090.4 3195.1 1087.5 3195.5 1094.1 3196.0 1092.7 3196.5 1091.2 3196.9 1085.5 3197.4 1088.7 3197.8 1095.3 3198.3 1101.6 3198.8 1092.1 3199.2 1102.5 3199.7 1092.2 3200.1 1084.4 3200.6 1096.8 3201.1 1085.2 3201.5 1095.1 3202.0 1099.9 3202.4 1089.9 3202.9 1091.5 3203.4 1109.9 3203.8 1093.8 3204.3 1093.9 3204.7 1097.6 3205.2 1091.3 3205.7 1091.3 3206.1 1094.7 3206.6 1074.7 3207.0 1102.1 3207.5 1084.2 3208.0 1084.1 3208.4 1095.7 3208.9 1092.0 3209.3 1082.8 3209.8 1093.3 3210.3 1113.9 3210.7 1086.7 3211.2 1080.9 3211.6 1085.7 3212.1 1094.5 3212.6 1092.5 3213.0 1093.8 3213.5 1098.2 3213.9 1091.3 3214.4 1086.8 3214.9 1089.5 3215.3 1103.3 3215.8 1091.7 3216.2 1093.7 3216.7 1090.7 3217.2 1093.2 3217.6 1094.5 3218.1 1091.3 3218.5 1090.2 3219.0 1085.8 3219.4 1085.4 3219.9 1094.5 3220.4 1097.1 3220.8 1098.5 3221.3 1092.3 3221.7 1086.1 3222.2 1096.6 3222.7 1096.6 3223.1 1081.5 3223.6 1098.2 3224.0 1096.7 3224.5 1104.6 3225.0 1084.6 3225.4 1083.6 3225.9 1098.6 3226.3 1080.1 3226.8 1087.9 3227.3 1085.4 3227.7 1086.1 3228.2 1079.7 3228.6 1091.8 3229.1 1100.6 3229.6 1096.9 3230.0 1097.0 3230.5 1091.4 3230.9 1104.4 3231.4 1097.9 3231.9 1101.8 3232.3 1083.2 3232.8 1096.9 3233.2 1086.4 3233.7 1097.2 3234.2 1096.2 3234.6 1086.8 3235.1 1096.2 3235.5 1103.4 3236.0 1098.8 3236.5 1099.5 3236.9 1089.2 3237.4 1090.6 3237.8 1087.6 3238.3 1096.7 3238.8 1104.3 3239.2 1099.0 3239.7 1096.0 3240.1 1088.1 3240.6 1099.4 3241.1 1094.6 3241.5 1082.8 3242.0 1084.1 3242.4 1094.1 3242.9 1090.2 3243.4 1108.4 3243.8 1096.9 3244.3 1089.2 3244.7 1093.2 3245.2 1108.1 3245.7 1090.0 3246.1 1102.3 3246.6 1100.0 3247.0 1107.4 3247.5 1100.7 3248.0 1094.0 3248.4 1100.7 3248.9 1097.4 3249.3 1104.0 3249.8 1096.6 3250.3 1111.2 3250.7 1096.4 3251.2 1100.3 3251.6 1092.5 3252.1 1098.1 3252.6 1097.4 3253.0 1098.5 3253.5 1103.7 3253.9 1093.5 3254.4 1091.3 3254.9 1105.3 3255.3 1095.4 3255.8 1092.7 3256.2 1105.7 3256.7 1103.1 3257.2 1078.7 3257.6 1094.9 3258.1 1103.2 3258.5 1103.6 3259.0 1094.0 3259.5 1108.9 3259.9 1092.1 3260.4 1096.1 3260.8 1098.7 3261.3 1097.8 3261.8 1103.6 3262.2 1105.2 3262.7 1097.6 3263.1 1108.0 3263.6 1093.1 3264.1 1096.5 3264.5 1110.4 3265.0 1098.8 3265.4 1105.8 3265.9 1095.1 3266.4 1096.3 3266.8 1097.5 3267.3 1099.5 3267.7 1095.9 3268.2 1098.5 3268.7 1103.2 3269.1 1107.0 3269.6 1099.2 3270.0 1103.1 3270.5 1105.0 3271.0 1090.9 3271.4 1087.4 3271.9 1110.1 3272.3 1108.0 3272.8 1099.1 3273.3 1101.1 3273.7 1091.7 3274.2 1088.4 3274.6 1100.3 3275.1 1087.3 3275.6 1104.2 3276.0 1092.7 3276.5 1099.4 3276.9 1111.0 3277.4 1110.4 3277.9 1094.9 3278.3 1104.3 3278.8 1089.1 3279.2 1092.1 3279.7 1098.8 3280.2 1105.8 3280.6 1091.7 3281.1 1099.5 3281.5 1096.2 3282.0 1086.3 3282.5 1094.1 3282.9 1105.6 3283.4 1094.1 3283.8 1139.0 3284.3 1100.3 3284.8 1089.0 3285.2 1102.8 3285.7 1104.6 3286.1 1105.1 3286.6 1102.9 3287.1 1090.0 3287.5 1089.0 3288.0 1087.4 3288.4 1086.3 3288.9 1087.2 3289.4 1100.1 3289.8 1103.6 3290.3 1088.7 3290.7 1099.1 3291.2 1084.5 3291.6 1091.3 3292.1 1086.6 3292.6 1082.2 3293.0 1094.3 3293.5 1094.6 3293.9 1091.2 3294.4 1112.1 3294.9 1087.3 3295.3 1093.5 3295.8 1090.3 3296.2 1096.4 3296.7 1086.2 3297.2 1096.5 3297.6 1098.7 3298.1 1104.0 3298.5 1102.7 3299.0 1096.7 3299.5 1090.6 3299.9 1082.5 3300.4 1095.6 3300.8 1105.9 3301.3 1107.7 3301.8 1077.9 3302.2 1090.7 3302.7 1110.9 3303.1 1088.9 3303.6 1097.8 3304.1 1096.9 3304.5 1093.0 3305.0 1096.6 3305.4 1085.6 3305.9 1090.1 3306.4 1090.8 3306.8 1103.7 3307.3 1085.8 3307.7 1096.0 3308.2 1103.2 3308.7 1097.3 3309.1 1103.6 3309.6 1093.3 3310.0 1101.2 3310.5 1104.6 3311.0 1114.2 3311.4 1103.6 3311.9 1108.7 3312.3 1098.7 3312.8 1099.5 3313.3 1110.1 3313.7 1103.2 3314.2 1109.2 3314.6 1104.3 3315.1 1114.5 3315.6 1116.5 3316.0 1093.7 3316.5 1113.0 3316.9 1103.0 3317.4 1103.4 3317.9 1152.8 3318.3 1105.3 3318.8 1092.4 3319.2 1095.3 3319.7 1094.9 3320.2 1102.1 3320.6 1106.2 3321.1 1104.5 3321.5 1101.5 3322.0 1094.2 3322.5 1085.5 3322.9 1100.6 3323.4 1098.3 3323.8 1099.4 3324.3 1106.7 3324.8 1094.8 3325.2 1094.3 3325.7 1078.8 3326.1 1098.9 3326.6 1094.2 3327.1 1088.9 3327.5 1096.7 3328.0 1115.9 3328.4 1090.1 3328.9 1107.9 3329.4 1099.3 3329.8 1100.5 3330.3 1099.2 3330.7 1098.4 3331.2 1095.2 3331.7 1110.1 3332.1 1093.2 3332.6 1099.0 3333.0 1092.2 3333.5 1091.2 3334.0 1076.3 3334.4 1080.0 3334.9 1087.6 3335.3 1104.2 3335.8 1090.5 3336.3 1093.3 3336.7 1097.9 3337.2 1086.4 3337.6 1106.1 3338.1 1086.1 3338.6 1088.3 3339.0 1073.8 3339.5 1104.2 3339.9 1093.8 3340.4 1104.9 3340.9 1086.2 3341.3 1095.7 3341.8 1093.8 3342.2 1094.7 3342.7 1108.0 3343.2 1109.3 3343.6 1103.0 3344.1 1090.3 3344.5 1099.5 3345.0 1102.7 3345.5 1097.1 3345.9 1097.1 3346.4 1096.5 3346.8 1086.6 3347.3 1094.8 3347.8 1104.4 3348.2 1085.9 3348.7 1093.5 3349.1 1098.9 3349.6 1083.2 3350.1 1091.9 3350.5 1080.8 3351.0 1088.5 3351.4 1082.8 3351.9 1086.4 3352.4 1089.3 3352.8 1090.8 3353.3 1091.3 3353.7 1075.6 3354.2 1104.0 3354.7 1071.9 3355.1 1085.4 3355.6 1089.0 3356.0 1096.0 3356.5 1087.1 3357.0 1091.6 3357.4 1091.5 3357.9 1099.0 3358.3 1090.2 3358.8 1099.1 3359.3 1098.7 3359.7 1095.5 3360.2 1105.7 3360.6 1097.4 3361.1 1089.3 3361.6 1100.1 3362.0 1145.0 3362.5 1098.0 3362.9 1099.7 3363.4 1114.5 3363.8 1099.3 3364.3 1100.6 3364.8 1095.4 3365.2 1106.2 3365.7 1096.3 3366.1 1090.8 3366.6 1087.6 3367.1 1099.8 3367.5 1101.1 3368.0 1084.3 3368.4 1090.2 3368.9 1099.6 3369.4 1102.2 3369.8 1085.3 3370.3 1091.5 3370.7 1100.1 3371.2 1049.9 3371.7 1090.5 3372.1 1089.6 3372.6 1084.0 3373.0 1093.3 3373.5 1094.9 3374.0 1082.7 3374.4 1093.3 3374.9 1100.4 3375.3 1094.0 3375.8 1099.2 3376.3 1088.6 3376.7 1102.2 3377.2 1086.9 3377.6 1105.8 3378.1 1089.2 3378.6 1087.3 3379.0 1086.0 3379.5 1089.4 3379.9 1088.8 3380.4 1087.4 3380.9 1089.9 3381.3 1096.9 3381.8 1098.4 3382.2 1089.7 3382.7 1100.9 3383.2 1085.0 3383.6 1084.8 3384.1 1084.0 3384.5 1096.3 3385.0 1081.0 3385.5 1082.1 3385.9 1101.0 3386.4 1134.3 3386.8 1101.4 3387.3 1081.3 3387.8 1091.9 3388.2 1097.7 3388.7 1092.4 3389.1 1080.3 3389.6 1089.3 3390.1 1079.7 3390.5 1082.9 3391.0 1106.9 3391.4 1096.4 3391.9 1081.2 3392.4 1080.9 3392.8 1094.7 3393.3 1087.2 3393.7 1095.5 3394.2 1086.8 3394.7 1090.0 3395.1 1093.1 3395.6 1084.0 3396.0 1077.7 3396.5 1082.8 3397.0 1086.3 3397.4 1075.8 3397.9 1090.8 3398.3 1090.7 3398.8 1094.8 3399.3 1084.8 3399.7 1101.0 3400.2 1105.2 3400.6 1093.6 3401.1 1092.3 3401.6 1099.8 3402.0 1095.5 3402.5 1092.3 3402.9 1089.7 3403.4 1085.7 3403.9 1082.6 3404.3 1095.5 3404.8 1099.2 3405.2 1083.3 3405.7 1090.2 3406.2 1092.3 3406.6 1087.7 3407.1 1085.3 3407.5 1087.9 3408.0 1076.7 3408.5 1090.2 3408.9 1088.6 3409.4 1105.9 3409.8 1097.8 3410.3 1089.0 3410.8 1091.7 3411.2 1104.1 3411.7 1103.6 3412.1 1093.9 3412.6 1091.9 3413.1 1082.9 3413.5 1091.1 3414.0 1092.5 3414.4 1088.8 3414.9 1106.4 3415.4 1081.3 3415.8 1093.8 3416.3 1097.9 3416.7 1098.4 3417.2 1107.5 3417.7 1086.0 3418.1 1090.9 3418.6 1097.1 3419.0 1097.2 3419.5 1093.5 3420.0 1090.8 3420.4 1103.7 3420.9 1088.6 3421.3 1091.9 3421.8 1106.1 3422.3 1108.1 3422.7 1101.9 3423.2 1089.6 3423.6 1089.6 3424.1 1089.2 3424.6 1087.5 3425.0 1092.5 3425.5 1104.3 3425.9 1096.9 3426.4 1089.9 3426.9 1089.7 3427.3 1086.8 3427.8 1103.5 3428.2 1080.7 3428.7 1096.8 3429.2 1084.7 3429.6 1087.3 3430.1 1084.2 3430.5 1101.4 3431.0 1094.0 3431.5 1113.8 3431.9 1087.1 3432.4 1086.6 3432.8 1098.4 3433.3 1098.1 3433.8 1092.0 3434.2 1079.6 3434.7 1104.0 3435.1 1097.7 3435.6 1096.4 3436.0 1089.3 3436.5 1097.9 3437.0 1089.3 3437.4 1093.4 3437.9 1091.7 3438.3 1101.8 3438.8 1089.5 3439.3 1090.3 3439.7 1100.4 3440.2 1094.1 3440.6 1092.3 3441.1 1090.6 3441.6 1098.9 3442.0 1087.5 3442.5 1095.3 3442.9 1106.2 3443.4 1094.6 3443.9 1086.1 3444.3 1083.1 3444.8 1092.5 3445.2 1082.7 3445.7 1080.0 3446.2 1085.8 3446.6 1083.3 3447.1 1097.1 3447.5 1080.6 3448.0 1101.9 3448.5 1085.3 3448.9 1091.3 3449.4 1095.1 3449.8 1091.9 3450.3 1095.3 3450.8 1083.1 3451.2 1074.0 3451.7 1088.5 3452.1 1077.9 3452.6 1085.6 3453.1 1096.2 3453.5 1088.1 3454.0 1085.2 3454.4 1081.3 3454.9 1087.1 3455.4 1087.8 3455.8 1077.8 3456.3 1090.9 3456.7 1081.2 3457.2 1090.2 3457.7 1085.3 3458.1 1095.4 3458.6 1094.3 3459.0 1088.3 3459.5 1087.4 3460.0 1091.2 3460.4 1097.8 3460.9 1095.5 3461.3 1089.1 3461.8 1090.1 3462.3 1099.0 3462.7 1076.3 3463.2 1091.6 3463.6 1081.4 3464.1 1097.2 3464.6 1084.2 3465.0 1086.8 3465.5 1079.9 3465.9 1087.6 3466.4 1093.0 3466.9 1099.2 3467.3 1078.5 3467.8 1084.2 3468.2 1110.6 3468.7 1093.9 3469.2 1087.1 3469.6 1090.8 3470.1 1068.4 3470.5 1098.4 3471.0 1088.1 3471.5 1076.8 3471.9 1095.1 3472.4 1082.4 3472.8 1079.5 3473.3 1090.4 3473.8 1089.5 3474.2 1083.4 3474.7 1086.0 3475.1 1077.0 3475.6 1076.2 3476.1 1092.7 3476.5 1095.5 3477.0 1089.2 3477.4 1088.8 3477.9 1083.3 3478.4 1085.1 3478.8 1079.4 3479.3 1098.2 3479.7 1081.8 3480.2 1088.6 3480.7 1085.7 3481.1 1075.8 3481.6 1099.2 3482.0 1082.9 3482.5 1080.0 3483.0 1086.2 3483.4 1079.0 3483.9 1085.4 3484.3 1078.4 3484.8 1089.1 3485.3 1085.4 3485.7 1075.4 3486.2 1092.2 3486.6 1086.2 3487.1 1077.0 3487.6 1087.2 3488.0 1087.7 3488.5 1097.7 3488.9 1078.5 3489.4 1090.5 3489.9 1083.8 3490.3 1088.7 3490.8 1082.5 3491.2 1083.9 3491.7 1087.7 3492.2 1075.8 3492.6 1069.4 3493.1 1084.0 3493.5 1080.9 3494.0 1084.6 3494.5 1088.4 3494.9 1082.4 3495.4 1092.2 3495.8 1083.5 3496.3 1084.5 3496.8 1089.5 3497.2 1087.8 3497.7 1083.0 3498.1 1084.4 3498.6 1078.2 3499.1 1079.1 3499.5 1084.1 3500.0 1089.1 3500.4 1080.2 3500.9 1089.1 3501.4 1096.8 3501.8 1098.2 3502.3 1083.3 3502.7 1090.4 3503.2 1087.3 3503.7 1088.5 3504.1 1088.8 3504.6 1086.5 3505.0 1088.6 3505.5 1084.1 3506.0 1080.9 3506.4 1084.4 3506.9 1086.1 3507.3 1091.1 3507.8 1085.1 3508.2 1088.1 3508.7 1093.3 3509.2 1077.3 3509.6 1082.4 3510.1 1088.4 3510.5 1085.3 3511.0 1078.5 3511.5 1092.8 3511.9 1085.9 3512.4 1079.9 3512.8 1100.4 3513.3 1064.0 3513.8 1087.8 3514.2 1083.3 3514.7 1117.4 3515.1 1091.8 3515.6 1082.2 3516.1 1087.1 3516.5 1086.9 3517.0 1080.8 3517.4 1095.8 3517.9 1088.9 3518.4 1085.7 3518.8 1083.0 3519.3 1085.3 3519.7 1088.6 3520.2 1084.4 3520.7 1096.1 3521.1 1070.0 3521.6 1072.7 3522.0 1104.4 3522.5 1074.7 3523.0 1086.9 3523.4 1082.8 3523.9 1091.3 3524.3 1090.2 3524.8 1096.3 3525.3 1093.6 3525.7 1095.9 3526.2 1122.8 3526.6 1094.5 3527.1 1090.6 3527.6 1083.1 3528.0 1078.6 3528.5 1078.8 3528.9 1090.4 3529.4 1070.8 3529.9 1088.3 3530.3 1081.9 3530.8 1092.0 3531.2 1088.3 3531.7 1081.8 3532.2 1087.0 3532.6 1071.4 3533.1 1088.7 3533.5 1090.0 3534.0 1074.3 3534.5 1092.7 3534.9 1086.0 3535.4 1087.9 3535.8 1077.1 3536.3 1090.8 3536.8 1090.7 3537.2 1086.6 3537.7 1080.0 3538.1 1091.8 3538.6 1095.1 3539.1 1089.3 3539.5 1093.4 3540.0 1082.6 3540.4 1087.6 3540.9 1089.1 3541.4 1087.5 3541.8 1105.6 3542.3 1089.4 3542.7 1082.8 3543.2 1092.1 3543.7 1079.2 3544.1 1089.0 3544.6 1091.7 3545.0 1083.2 3545.5 1084.3 3546.0 1080.2 3546.4 1087.4 3546.9 1081.9 3547.3 1098.1 3547.8 1090.8 3548.3 1085.0 3548.7 1077.0 3549.2 1100.3 3549.6 1095.5 3550.1 1090.0 3550.6 1088.2 3551.0 1088.1 3551.5 1083.9 3551.9 1099.8 3552.4 1088.6 3552.9 1077.7 3553.3 1083.0 3553.8 1070.2 3554.2 1091.9 3554.7 1092.7 3555.2 1099.5 3555.6 1101.8 3556.1 1082.6 3556.5 1090.9 3557.0 1094.6 3557.5 1093.3 3557.9 1084.7 3558.4 1093.6 3558.8 1108.8 3559.3 1097.4 3559.8 1088.2 3560.2 1086.9 3560.7 1085.2 3561.1 1086.1 3561.6 1083.4 3562.1 1086.2 3562.5 1091.7 3563.0 1091.3 3563.4 1096.9 3563.9 1095.4 3564.4 1092.2 3564.8 1080.3 3565.3 1091.6 3565.7 1095.5 3566.2 1079.0 3566.7 1080.2 3567.1 1081.2 3567.6 1080.5 3568.0 1085.4 3568.5 1081.0 3569.0 1089.7 3569.4 1079.0 3569.9 1086.1 3570.3 1107.0 3570.8 1080.4 3571.3 1093.5 3571.7 1086.8 3572.2 1090.1 3572.6 1084.3 3573.1 1091.0 3573.6 1090.3 3574.0 1085.2 3574.5 1074.3 3574.9 1091.0 3575.4 1089.7 3575.9 1085.9 3576.3 1085.9 3576.8 1084.8 3577.2 1084.8 3577.7 1076.6 3578.2 1082.4 3578.6 1084.4 3579.1 1077.9 3579.5 1075.2 3580.0 1093.3 3580.4 1084.7 3580.9 1078.3 3581.4 1076.7 3581.8 1088.5 3582.3 1069.8 3582.7 1077.1 3583.2 1086.7 3583.7 1064.5 3584.1 1072.9 3584.6 1089.5 3585.0 1081.1 3585.5 1080.0 3586.0 1086.5 3586.4 1077.5 3586.9 1077.6 3587.3 1085.7 3587.8 1087.9 3588.3 1113.0 3588.7 1096.4 3589.2 1064.7 3589.6 1075.6 3590.1 1116.9 3590.6 1078.4 3591.0 1092.5 3591.5 1073.5 3591.9 1082.2 3592.4 1077.6 3592.9 1082.2 3593.3 1097.0 3593.8 1113.2 3594.2 1100.7 3594.7 1110.3 3595.2 1078.8 3595.6 1107.5 3596.1 1093.0 3596.5 1104.3 3597.0 1076.4 3597.5 1078.3 3597.9 1101.6 3598.4 1089.2 3598.8 1080.6 3599.3 1067.6 3599.8 1075.6 3600.2 1083.6 3600.7 1086.3 3601.1 1065.7 3601.6 1068.1 3602.1 1079.0 3602.5 1054.2 3603.0 1086.0 3603.4 1071.5 3603.9 1069.8 3604.4 1034.4 3604.8 1047.4 3605.3 1056.3 3605.7 1063.6 3606.2 1055.8 3606.7 1079.2 3607.1 1075.7 3607.6 1069.6 3608.0 1041.9 3608.5 1096.7 3609.0 1070.3 3609.4 1083.3 3609.9 1061.3 3610.3 1070.2 3610.8 1079.5 3611.3 1070.3 3611.7 1080.1 3612.2 1059.9 3612.6 1093.2 3613.1 1028.4 3613.6 1107.1 3614.0 1071.3 3614.5 1049.5 3614.9 933.0 3615.4 1020.8 3615.9 1068.5 3616.3 1018.9 3616.8 1059.5 3617.2 1055.5 3617.7 1067.8 3618.2 1078.6 3618.6 1044.0 3619.1 1043.3 3619.5 1052.6 3620.0 1030.3 3620.5 1073.8 3620.9 1054.5 3621.4 1065.0 3621.8 1044.4 3622.3 1064.6 3622.8 1054.2 3623.2 1063.7 3623.7 1046.8 3624.1 1082.9 3624.6 1054.8 3625.1 1022.7 3625.5 1077.3 3626.0 1061.5 3626.4 1087.4 3626.9 1110.1 3627.4 1066.6 3627.8 1044.8 3628.3 1057.5 3628.7 1074.9 3629.2 1064.7 3629.7 1090.4 3630.1 1087.7 3630.6 1055.8 3631.0 1070.4 3631.5 1080.6 3632.0 1061.9 3632.4 1060.7 3632.9 1188.4 3633.3 1076.1 3633.8 1043.3 3634.3 1057.9 3634.7 1060.0 3635.2 1119.0 3635.6 1054.0 3636.1 1090.2 3636.6 1048.8 3637.0 1046.4 3637.5 1069.2 3637.9 1025.9 3638.4 1048.6 3638.9 1079.2 3639.3 1045.1 3639.8 1054.7 3640.2 1090.4 3640.7 1080.0 3641.2 1073.7 3641.6 1078.0 3642.1 1062.3 3642.5 1081.1 3643.0 1072.7 3643.5 1122.9 3643.9 1088.1 3644.4 1072.4 3644.8 1077.4 3645.3 1079.1 3645.8 1052.5 3646.2 1062.5 3646.7 1105.6 3647.1 1051.3 3647.6 1066.3 3648.1 1095.8 3648.5 1104.7 3649.0 1057.3 3649.4 1103.4 3649.9 1069.2 3650.3 1106.7 3650.8 1084.9 3651.3 1070.0 3651.7 1088.8 3652.2 1085.4 3652.6 1060.1 3653.1 1115.3 3653.6 1068.5 3654.0 1097.0 3654.5 1066.2 3654.9 1041.0 3655.4 1054.6 3655.9 1074.2 3656.3 1089.4 3656.8 1110.3 3657.2 1078.2 3657.7 1069.1 3658.2 1048.7 3658.6 1069.3 3659.1 1073.8 3659.5 1023.1 3660.0 1089.0 3660.5 1083.6 3660.9 1103.6 3661.4 1039.6 3661.8 1055.9 3662.3 1053.3 3662.8 1024.9 3663.2 1032.0 3663.7 1027.2 3664.1 1057.3 3664.6 1056.9 3665.1 1020.2 3665.5 1042.9 3666.0 1024.5 3666.4 1062.0 3666.9 1061.8 3667.4 1068.9 3667.8 1081.7 3668.3 1046.5 3668.7 1075.3 3669.2 1040.6 3669.7 1065.0 3670.1 869.7 3670.6 1060.8 3671.0 1247.4 3671.5 1033.7 3672.0 1047.9 3672.4 1063.4 3672.9 1035.3 3673.3 1041.7 3673.8 1107.6 3674.3 1062.8 3674.7 1040.0 3675.2 1034.9 3675.6 1083.2 3676.1 996.9 3676.6 1045.8 3677.0 1064.4 3677.5 1039.1 3677.9 1060.4 3678.4 1027.2 3678.9 1047.6 3679.3 1047.9 3679.8 1046.4 3680.2 1048.3 3680.7 987.5 3681.2 1066.8 3681.6 1037.3 3682.1 1029.6 3682.5 1035.2 3683.0 1033.9 3683.5 1007.7 3683.9 1000.4 3684.4 1013.0 3684.8 1048.2 3685.3 1029.1 3685.8 1035.4 3686.2 1105.5 3686.7 1069.7 3687.1 1042.4 3687.6 1034.3 3688.1 1077.8 3688.5 1032.9 3689.0 1076.8 3689.4 1063.9 3689.9 1081.8 3690.4 1035.1 3690.8 1127.3 3691.3 1007.6 3691.7 1040.6 3692.2 1065.5 3692.7 1002.9 3693.1 998.5 3693.6 1050.8 3694.0 1043.7 3694.5 1031.5 3695.0 1018.0 3695.4 1028.3 3695.9 1022.7 3696.3 1056.5 3696.8 1046.8 3697.3 1060.8 3697.7 1053.3 3698.2 1010.9 3698.6 1042.7 3699.1 1087.5 3699.6 1016.8 3700.0 1048.2 3700.5 1025.6 3700.9 1023.5 3701.4 1045.2 3701.9 1058.3 3702.3 1052.4 3702.8 1043.2 3703.2 1051.4 3703.7 991.7 3704.2 1043.5 3704.6 1031.8 3705.1 1016.2 3705.5 1020.3 3706.0 874.0 3706.5 1050.1 3706.9 872.0 3707.4 994.9 3707.8 1029.5 3708.3 1018.6 3708.8 1031.8 3709.2 1069.1 3709.7 1033.9 3710.1 1041.6 3710.6 1091.6 3711.1 1011.0 3711.5 1052.7 3712.0 1071.2 3712.4 1077.4 3712.9 1092.2 3713.4 1025.0 3713.8 1052.0 3714.3 1034.4 3714.7 1024.6 3715.2 1016.7 3715.7 998.3 3716.1 1037.4 3716.6 1045.3 3717.0 1002.3 3717.5 1042.1 3718.0 1010.5 3718.4 998.6 3718.9 962.5 3719.3 1048.3 3719.8 1040.1 3720.3 1017.1 3720.7 1016.0 3721.2 995.6 3721.6 1038.0 3722.1 1025.3 3722.5 1039.8 3723.0 1032.1 3723.5 996.2 3723.9 993.3 3724.4 1039.6 3724.8 991.5 3725.3 1036.6 3725.8 1050.9 3726.2 999.7 3726.7 1044.7 3727.1 1029.7 3727.6 1040.8 3728.1 1013.2 3728.5 1027.3 3729.0 1037.2 3729.4 1069.6 3729.9 1043.7 3730.4 1037.8 3730.8 995.4 3731.3 1033.1 3731.7 1009.8 3732.2 1025.0 3732.7 1033.7 3733.1 1051.0 3733.6 1043.0 3734.0 1034.3 3734.5 1029.4 3735.0 1063.5 3735.4 1011.4 3735.9 1034.1 3736.3 1066.4 3736.8 1030.1 3737.3 1055.1 3737.7 1057.4 3738.2 1082.4 3738.6 1059.2 3739.1 990.1 3739.6 1026.2 3740.0 1030.1 3740.5 1039.7 3740.9 1026.1 3741.4 1058.7 3741.9 1036.9 3742.3 919.2 3742.8 989.2 3743.2 951.8 3743.7 1039.4 3744.2 991.8 3744.6 988.8 3745.1 954.7 3745.5 982.5 3746.0 1003.8 3746.5 984.2 3746.9 984.9 3747.4 979.9 3747.8 1043.2 3748.3 982.5 3748.8 961.1 3749.2 984.1 3749.7 988.6 3750.1 995.3 3750.6 992.1 3751.1 971.4 3751.5 993.0 3752.0 1006.6 3752.4 962.3 3752.9 1044.2 3753.4 1036.8 3753.8 950.2 3754.3 984.9 3754.7 1018.1 3755.2 1025.6 3755.7 1036.0 3756.1 946.0 3756.6 963.5 3757.0 977.6 3757.5 1003.2 3758.0 963.4 3758.4 1001.4 3758.9 1002.7 3759.3 1010.0 3759.8 961.1 3760.3 998.6 3760.7 996.3 3761.2 984.9 3761.6 1028.5 3762.1 989.4 3762.6 1032.4 3763.0 981.3 3763.5 1038.3 3763.9 1036.7 3764.4 974.7 3764.9 1003.4 3765.3 1002.5 3765.8 969.9 3766.2 1013.8 3766.7 1008.7 3767.2 971.7 3767.6 995.7 3768.1 1015.3 3768.5 988.6 3769.0 974.3 3769.5 1033.3 3769.9 967.0 3770.4 1000.0 3770.8 1019.5 3771.3 1010.8 3771.8 944.1 3772.2 982.0 3772.7 986.6 3773.1 984.3 3773.6 1005.3 3774.1 1002.9 3774.5 992.3 3775.0 995.3 3775.4 1013.4 3775.9 1018.2 3776.4 937.0 3776.8 1039.6 3777.3 968.7 3777.7 1001.5 3778.2 938.8 3778.7 966.0 3779.1 945.8 3779.6 1004.4 3780.0 998.1 3780.5 974.3 3781.0 968.5 3781.4 981.5 3781.9 946.2 3782.3 953.5 3782.8 948.1 3783.3 987.6 3783.7 965.9 3784.2 878.4 3784.6 971.6 3785.1 975.0 3785.6 995.9 3786.0 944.5 3786.5 969.1 3786.9 1012.3 3787.4 949.9 3787.9 948.8 3788.3 971.2 3788.8 944.9 3789.2 957.7 3789.7 944.4 3790.2 937.0 3790.6 980.0 3791.1 947.2 3791.5 930.7 3792.0 949.2 3792.5 952.8 3792.9 963.1 3793.4 978.0 3793.8 998.2 3794.3 918.3 3794.7 942.2 3795.2 899.3 3795.7 951.1 3796.1 957.3 3796.6 924.8 3797.0 916.3 3797.5 912.5 3798.0 897.5 3798.4 951.8 3798.9 983.7 3799.3 901.8 3799.8 973.1 3800.3 925.9 3800.7 891.4 3801.2 942.1 3801.6 946.5 3802.1 936.0 3802.6 979.9 3803.0 968.1 3803.5 915.6 3803.9 939.1 3804.4 938.7 3804.9 896.9 3805.3 870.7 3805.8 970.7 3806.2 907.6 3806.7 926.9 3807.2 869.1 3807.6 896.5 3808.1 955.8 3808.5 836.7 3809.0 925.7 3809.5 921.9 3809.9 932.8 3810.4 871.5 3810.8 919.1 3811.3 871.9 3811.8 944.2 3812.2 884.4 3812.7 917.0 3813.1 884.5 3813.6 909.0 3814.1 863.1 3814.5 911.3 3815.0 919.1 3815.4 901.8 3815.9 1002.6 3816.4 907.6 3816.8 916.5 3817.3 906.7 3817.7 941.5 3818.2 870.6 3818.7 878.8 3819.1 877.9 3819.6 898.4 3820.0 332.6 3820.5 899.8 3821.0 1000.0 3821.4 858.5 3821.9 868.5 3822.3 880.2 3822.8 805.8 3823.3 906.4 3823.7 852.9 3824.2 858.7 3824.6 875.7 3825.1 861.7 3825.6 828.7 3826.0 862.4 3826.5 906.9 3826.9 897.7 3827.4 903.0 3827.9 853.8 3828.3 863.1 3828.8 898.2 3829.2 909.9 3829.7 931.7 3830.2 840.3 3830.6 812.7 3831.1 904.9 3831.5 822.3 3832.0 875.7 3832.5 887.7 3832.9 952.9 3833.4 866.6 3833.8 857.2 3834.3 872.5 3834.8 873.0 3835.2 895.5 3835.7 876.4 3836.1 832.9 3836.6 791.1 3837.1 855.0 3837.5 823.7 3838.0 878.8 3838.4 797.9 3838.9 836.9 3839.4 806.6 3839.8 798.5 3840.3 866.8 3840.7 820.4 3841.2 592.1 3841.7 828.9 3842.1 781.5 3842.6 847.1 3843.0 781.6 3843.5 857.2 3844.0 810.7 3844.4 820.0 3844.9 834.6 3845.3 798.0 3845.8 799.6 3846.3 757.6 3846.7 819.1 3847.2 813.5 3847.6 794.9 3848.1 842.1 3848.6 756.5 3849.0 820.9 3849.5 769.5 3849.9 774.7 3850.4 800.2 3850.9 843.4 3851.3 768.7 3851.8 772.6 3852.2 764.9 3852.7 857.2 3853.2 812.3 3853.6 807.3 3854.1 854.2 3854.5 799.7 3855.0 729.5 3855.5 774.6 3855.9 752.8 3856.4 845.7 3856.8 743.3 3857.3 792.2 3857.8 767.3 3858.2 770.4 3858.7 784.8 3859.1 781.1 3859.6 765.7 3860.1 750.3 3860.5 768.4 3861.0 757.6 3861.4 762.5 3861.9 793.6 3862.4 786.5 3862.8 806.0 3863.3 783.7 3863.7 844.8 3864.2 763.1 3864.7 752.1 3865.1 809.2 3865.6 754.8 3866.0 776.5 3866.5 798.9 3866.9 763.9 3867.4 753.2 3867.9 789.7 3868.3 767.7 3868.8 738.9 3869.2 716.0 3869.7 737.5 3870.2 695.6 3870.6 715.3 3871.1 704.9 3871.5 742.8 3872.0 753.1 3872.5 706.9 3872.9 709.5 3873.4 685.8 3873.8 673.6 3874.3 785.6 3874.8 724.7 3875.2 718.1 3875.7 719.3 3876.1 690.9 3876.6 553.9 3877.1 722.6 3877.5 732.3 3878.0 717.6 3878.4 715.1 3878.9 718.7 3879.4 764.5 3879.8 690.8 3880.3 723.9 3880.7 695.3 3881.2 685.3 3881.7 654.6 3882.1 563.6 3882.6 612.3 3883.0 658.3 3883.5 624.9 3884.0 591.7 3884.4 605.3 3884.9 593.0 3885.3 678.8 3885.8 623.1 3886.3 634.6 3886.7 594.9 3887.2 601.0 3887.6 665.5 3888.1 626.8 3888.6 641.5 3889.0 691.8 3889.5 700.4 3889.9 658.0 3890.4 652.5 3890.9 645.5 3891.3 630.1" stroke="#9e1020" stroke-opacity="0.9" stroke-width="4.8"/>
<path d="M2564.9 1121.5 C2565.8 1115.7 2568.2 1093.2 2569.9 1086.8 C2571.5 1080.5 2572.6 1082.7 2574.8 1083.5 C2577.0 1084.4 2580.6 1092.1 2583.1 1091.8 C2585.6 1091.5 2586.9 1083.3 2589.7 1081.9 C2592.4 1080.5 2596.8 1083.8 2599.6 1083.5 C2602.3 1083.3 2604.5 1086.3 2606.2 1080.3 C2607.8 1074.2 2608.6 1058.8 2609.5 1047.3 C2610.3 1035.7 2610.1 1024.1 2611.1 1011.0 C2612.1 997.9 2614.0 971.0 2615.4 968.8 C2616.8 966.6 2617.9 978.7 2619.3 997.8 C2620.8 1016.9 2622.1 1073.7 2624.3 1083.5 C2626.5 1093.4 2630.1 1058.8 2632.5 1057.2 C2635.0 1055.5 2636.7 1069.0 2639.1 1073.7 C2641.6 1078.3 2643.6 1083.3 2647.4 1085.2 C2651.2 1087.1 2655.0 1085.1 2662.0 1085.2 C2668.9 1085.4 2682.9 1087.6 2689.2 1086.3 C2695.4 1085.0 2696.0 1078.2 2699.4 1077.4 C2702.8 1076.7 2704.5 1080.8 2709.6 1081.8 C2714.7 1082.9 2723.4 1084.4 2730.0 1083.5 C2736.5 1082.7 2743.0 1076.8 2748.6 1076.8 C2754.3 1076.8 2760.5 1081.3 2763.9 1083.5 C2767.3 1085.8 2767.1 1090.3 2769.0 1090.3 C2771.0 1090.3 2774.0 1083.3 2775.8 1083.5 C2777.7 1083.8 2777.1 1092.9 2780.3 1092.0 C2783.4 1091.2 2790.5 1079.6 2794.5 1078.5 C2798.6 1077.3 2796.8 1084.4 2804.7 1085.2 C2812.7 1086.1 2832.5 1083.2 2842.1 1083.5 C2851.8 1083.9 2856.3 1087.3 2862.5 1087.6 C2868.7 1087.9 2873.8 1084.8 2879.5 1085.2 C2885.2 1085.7 2887.4 1089.8 2896.5 1090.3 C2905.6 1090.9 2924.5 1088.9 2933.9 1088.6 C2943.2 1088.4 2947.5 1087.5 2952.6 1088.6 C2957.7 1089.8 2961.1 1095.8 2964.5 1095.4 C2967.9 1095.0 2969.6 1087.1 2973.0 1086.3 C2976.4 1085.4 2980.1 1089.1 2984.9 1090.3 C2989.7 1091.6 2997.9 1094.4 3001.9 1093.7 C3005.8 1093.1 3003.3 1085.8 3008.7 1086.3 C3014.1 1086.7 3025.7 1095.9 3034.2 1096.5 C3042.6 1097.1 3053.3 1089.9 3059.4 1089.9 C3065.6 1089.9 3066.2 1095.1 3071.1 1096.5 C3075.9 1097.9 3084.0 1098.9 3088.5 1098.4 C3093.1 1098.0 3092.7 1094.8 3098.2 1093.8 C3103.7 1092.8 3111.8 1092.2 3121.5 1092.6 C3131.2 1093.1 3144.2 1096.5 3156.5 1096.5 C3168.8 1096.5 3184.9 1093.5 3195.3 1092.6 C3205.6 1091.8 3210.8 1090.8 3218.6 1091.5 C3226.3 1092.1 3232.8 1095.3 3241.9 1096.5 C3250.9 1097.7 3265.2 1099.1 3272.9 1098.4 C3280.7 1097.8 3280.7 1092.3 3288.4 1092.6 C3296.2 1092.9 3313.0 1100.2 3319.5 1100.4 C3326.0 1100.6 3321.4 1095.1 3327.3 1093.8 C3333.1 1092.5 3348.6 1091.8 3354.4 1092.6 C3360.3 1093.4 3359.0 1098.4 3362.2 1098.4 C3365.4 1098.4 3366.1 1093.9 3373.9 1092.6 C3381.6 1091.3 3401.3 1090.0 3408.8 1090.7 C3416.2 1091.3 3414.6 1095.9 3418.5 1096.5 C3422.4 1097.2 3425.3 1095.9 3432.1 1094.6 C3438.9 1093.3 3450.2 1090.4 3459.3 1088.7 C3468.3 1087.1 3478.3 1086.0 3486.4 1084.9 C3494.5 1083.8 3503.3 1081.7 3507.8 1082.1 C3512.3 1082.6 3506.9 1087.0 3513.6 1087.6 C3520.3 1088.2 3540.1 1085.7 3548.0 1085.8 C3556.0 1085.9 3556.8 1088.0 3561.1 1088.0 C3565.5 1088.0 3570.2 1087.8 3574.2 1085.8 C3578.2 1083.8 3581.9 1075.8 3585.2 1076.2 C3588.4 1076.6 3591.0 1088.9 3593.9 1088.0 C3596.8 1087.0 3600.1 1072.7 3602.6 1070.5 C3605.2 1068.3 3607.0 1078.5 3609.2 1074.9 C3611.4 1071.3 3613.5 1050.4 3615.7 1048.7 C3617.9 1047.0 3619.7 1061.2 3622.3 1064.8 C3624.8 1068.5 3628.5 1070.3 3631.0 1070.5 C3633.6 1070.7 3635.4 1064.7 3637.6 1066.2 C3639.7 1067.6 3641.6 1077.8 3644.1 1079.3 C3646.7 1080.7 3650.7 1075.3 3652.8 1074.9 C3655.0 1074.5 3655.4 1081.8 3657.2 1077.1 C3659.0 1072.3 3661.6 1048.7 3663.8 1046.5 C3665.9 1044.3 3668.5 1062.2 3670.3 1064.0 C3672.1 1065.8 3672.5 1061.1 3674.7 1057.4 C3676.9 1053.8 3680.9 1042.5 3683.4 1042.1 C3686.0 1041.8 3688.1 1056.3 3690.0 1055.2 C3691.8 1054.1 3692.5 1037.0 3694.3 1035.6 C3696.1 1034.1 3699.1 1048.7 3700.9 1046.5 C3702.7 1044.3 3703.4 1022.1 3705.2 1022.5 C3707.1 1022.9 3709.6 1048.3 3711.8 1048.7 C3714.0 1049.1 3716.2 1027.2 3718.3 1024.7 C3720.5 1022.1 3722.7 1033.0 3724.9 1033.4 C3727.1 1033.8 3729.3 1026.1 3731.4 1026.9 C3733.6 1027.6 3735.8 1043.2 3738.0 1037.8 C3740.2 1032.3 3742.4 999.9 3744.5 994.1 C3746.7 988.3 3748.9 1002.8 3751.1 1002.8 C3753.3 1002.8 3755.8 994.5 3757.6 994.1 C3759.5 993.7 3759.1 1001.4 3762.0 1000.7 C3764.9 999.9 3771.1 996.7 3775.1 989.7 C3779.1 982.8 3783.1 964.6 3786.0 959.2 C3788.9 953.7 3790.2 961.7 3792.6 957.0 C3794.9 952.3 3796.2 939.5 3800.0 930.8 C3803.8 922.1 3811.8 914.6 3815.5 904.6 C3819.2 894.6 3820.0 876.3 3822.3 870.7 C3824.5 865.0 3826.8 872.9 3829.1 870.7 C3831.3 868.4 3833.6 869.0 3835.9 857.1 C3838.1 845.2 3840.4 807.2 3842.7 799.3 C3844.9 791.4 3847.0 812.3 3849.5 809.5 C3851.9 806.7 3855.3 785.2 3857.6 782.3 C3859.9 779.5 3861.0 798.2 3863.0 792.5 C3865.1 786.9 3867.8 763.1 3869.8 748.4 C3871.9 733.7 3873.6 715.5 3875.3 704.2 C3877.0 692.9 3878.4 692.3 3880.0 680.4 C3881.6 668.5 3883.5 636.3 3884.8 632.9 C3886.0 629.5 3886.6 618.2 3887.5 660.1 C3888.4 701.9 3889.8 846.9 3890.2 884.2" stroke="#000" stroke-width="2.4"/>
</g>
<g stroke="#000" fill="none"><line x1="312.48" y1="1382.00" x2="312.48" y2="1371.00" stroke-width="4"/><line x1="312.48" y1="283.00" x2="312.48" y2="294.00" stroke-width="4"/><line x1="427.45" y1="1382.00" x2="427.45" y2="1371.00" stroke-width="4"/><line x1="427.45" y1="283.00" x2="427.45" y2="294.00" stroke-width="4"/><line x1="542.42" y1="1382.00" x2="542.42" y2="1365.00" stroke-width="8"/><line x1="542.42" y1="283.00" x2="542.42" y2="300.00" stroke-width="8"/><line x1="657.39" y1="1382.00" x2="657.39" y2="1371.00" stroke-width="4"/><line x1="657.39" y1="283.00" x2="657.39" y2="294.00" stroke-width="4"/><line x1="772.36" y1="1382.00" x2="772.36" y2="1371.00" stroke-width="4"/><line x1="772.36" y1="283.00" x2="772.36" y2="294.00" stroke-width="4"/><line x1="887.32" y1="1382.00" x2="887.32" y2="1371.00" stroke-width="4"/><line x1="887.32" y1="283.00" x2="887.32" y2="294.00" stroke-width="4"/><line x1="1002.29" y1="1382.00" x2="1002.29" y2="1371.00" stroke-width="4"/><line x1="1002.29" y1="283.00" x2="1002.29" y2="294.00" stroke-width="4"/><line x1="1117.26" y1="1382.00" x2="1117.26" y2="1365.00" stroke-width="8"/><line x1="1117.26" y1="283.00" x2="1117.26" y2="300.00" stroke-width="8"/><line x1="1232.23" y1="1382.00" x2="1232.23" y2="1371.00" stroke-width="4"/><line x1="1232.23" y1="283.00" x2="1232.23" y2="294.00" stroke-width="4"/><line x1="1347.20" y1="1382.00" x2="1347.20" y2="1371.00" stroke-width="4"/><line x1="1347.20" y1="283.00" x2="1347.20" y2="294.00" stroke-width="4"/><line x1="1462.16" y1="1382.00" x2="1462.16" y2="1371.00" stroke-width="4"/><line x1="1462.16" y1="283.00" x2="1462.16" y2="294.00" stroke-width="4"/><line x1="1577.13" y1="1382.00" x2="1577.13" y2="1371.00" stroke-width="4"/><line x1="1577.13" y1="283.00" x2="1577.13" y2="294.00" stroke-width="4"/><line x1="1692.10" y1="1382.00" x2="1692.10" y2="1365.00" stroke-width="8"/><line x1="1692.10" y1="283.00" x2="1692.10" y2="300.00" stroke-width="8"/><line x1="1807.07" y1="1382.00" x2="1807.07" y2="1371.00" stroke-width="4"/><line x1="1807.07" y1="283.00" x2="1807.07" y2="294.00" stroke-width="4"/><line x1="1922.04" y1="1382.00" x2="1922.04" y2="1371.00" stroke-width="4"/><line x1="1922.04" y1="283.00" x2="1922.04" y2="294.00" stroke-width="4"/><line x1="2037.00" y1="1382.00" x2="2037.00" y2="1371.00" stroke-width="4"/><line x1="2037.00" y1="283.00" x2="2037.00" y2="294.00" stroke-width="4"/><line x1="2151.97" y1="1382.00" x2="2151.97" y2="1371.00" stroke-width="4"/><line x1="2151.97" y1="283.00" x2="2151.97" y2="294.00" stroke-width="4"/><line x1="2266.94" y1="1382.00" x2="2266.94" y2="1365.00" stroke-width="8"/><line x1="2266.94" y1="283.00" x2="2266.94" y2="300.00" stroke-width="8"/><line x1="2381.91" y1="1382.00" x2="2381.91" y2="1371.00" stroke-width="4"/><line x1="2381.91" y1="283.00" x2="2381.91" y2="294.00" stroke-width="4"/><line x1="2496.88" y1="1382.00" x2="2496.88" y2="1371.00" stroke-width="4"/><line x1="2496.88" y1="283.00" x2="2496.88" y2="294.00" stroke-width="4"/><line x1="2611.84" y1="1382.00" x2="2611.84" y2="1371.00" stroke-width="4"/><line x1="2611.84" y1="283.00" x2="2611.84" y2="294.00" stroke-width="4"/><line x1="2726.81" y1="1382.00" x2="2726.81" y2="1371.00" stroke-width="4"/><line x1="2726.81" y1="283.00" x2="2726.81" y2="294.00" stroke-width="4"/><line x1="2841.78" y1="1382.00" x2="2841.78" y2="1365.00" stroke-width="8"/><line x1="2841.78" y1="283.00" x2="2841.78" y2="300.00" stroke-width="8"/><line x1="2956.75" y1="1382.00" x2="2956.75" y2="1371.00" stroke-width="4"/><line x1="2956.75" y1="283.00" x2="2956.75" y2="294.00" stroke-width="4"/><line x1="3071.72" y1="1382.00" x2="3071.72" y2="1371.00" stroke-width="4"/><line x1="3071.72" y1="283.00" x2="3071.72" y2="294.00" stroke-width="4"/><line x1="3186.68" y1="1382.00" x2="3186.68" y2="1371.00" stroke-width="4"/><line x1="3186.68" y1="283.00" x2="3186.68" y2="294.00" stroke-width="4"/><line x1="3301.65" y1="1382.00" x2="3301.65" y2="1371.00" stroke-width="4"/><line x1="3301.65" y1="283.00" x2="3301.65" y2="294.00" stroke-width="4"/><line x1="3416.62" y1="1382.00" x2="3416.62" y2="1365.00" stroke-width="8"/><line x1="3416.62" y1="283.00" x2="3416.62" y2="300.00" stroke-width="8"/><line x1="3531.59" y1="1382.00" x2="3531.59" y2="1371.00" stroke-width="4"/><line x1="3531.59" y1="283.00" x2="3531.59" y2="294.00" stroke-width="4"/><line x1="3646.56" y1="1382.00" x2="3646.56" y2="1371.00" stroke-width="4"/><line x1="3646.56" y1="283.00" x2="3646.56" y2="294.00" stroke-width="4"/><line x1="3761.52" y1="1382.00" x2="3761.52" y2="1371.00" stroke-width="4"/><line x1="3761.52" y1="283.00" x2="3761.52" y2="294.00" stroke-width="4"/><line x1="3876.49" y1="1382.00" x2="3876.49" y2="1371.00" stroke-width="4"/><line x1="3876.49" y1="283.00" x2="3876.49" y2="294.00" stroke-width="4"/><line x1="255.00" y1="1372.74" x2="266.00" y2="1372.74" stroke-width="4"/><line x1="3934.00" y1="1372.74" x2="3923.00" y2="1372.74" stroke-width="4"/><line x1="255.00" y1="1319.88" x2="266.00" y2="1319.88" stroke-width="4"/><line x1="3934.00" y1="1319.88" x2="3923.00" y2="1319.88" stroke-width="4"/><line x1="255.00" y1="1267.02" x2="266.00" y2="1267.02" stroke-width="4"/><line x1="3934.00" y1="1267.02" x2="3923.00" y2="1267.02" stroke-width="4"/><line x1="255.00" y1="1214.16" x2="266.00" y2="1214.16" stroke-width="4"/><line x1="3934.00" y1="1214.16" x2="3923.00" y2="1214.16" stroke-width="4"/><line x1="255.00" y1="1161.30" x2="272.00" y2="1161.30" stroke-width="8"/><line x1="3934.00" y1="1161.30" x2="3917.00" y2="1161.30" stroke-width="8"/><line x1="255.00" y1="1108.44" x2="266.00" y2="1108.44" stroke-width="4"/><line x1="3934.00" y1="1108.44" x2="3923.00" y2="1108.44" stroke-width="4"/><line x1="255.00" y1="1055.58" x2="266.00" y2="1055.58" stroke-width="4"/><line x1="3934.00" y1="1055.58" x2="3923.00" y2="1055.58" stroke-width="4"/><line x1="255.00" y1="1002.72" x2="266.00" y2="1002.72" stroke-width="4"/><line x1="3934.00" y1="1002.72" x2="3923.00" y2="1002.72" stroke-width="4"/><line x1="255.00" y1="949.86" x2="266.00" y2="949.86" stroke-width="4"/><line x1="3934.00" y1="949.86" x2="3923.00" y2="949.86" stroke-width="4"/><line x1="255.00" y1="897.00" x2="272.00" y2="897.00" stroke-width="8"/><line x1="3934.00" y1="897.00" x2="3917.00" y2="897.00" stroke-width="8"/><line x1="255.00" y1="844.14" x2="266.00" y2="844.14" stroke-width="4"/><line x1="3934.00" y1="844.14" x2="3923.00" y2="844.14" stroke-width="4"/><line x1="255.00" y1="791.28" x2="266.00" y2="791.28" stroke-width="4"/><line x1="3934.00" y1="791.28" x2="3923.00" y2="791.28" stroke-width="4"/><line x1="255.00" y1="738.42" x2="266.00" y2="738.42" stroke-width="4"/><line x1="3934.00" y1="738.42" x2="3923.00" y2="738.42" stroke-width="4"/><line x1="255.00" y1="685.56" x2="266.00" y2="685.56" stroke-width="4"/><line x1="3934.00" y1="685.56" x2="3923.00" y2="685.56" stroke-width="4"/><line x1="255.00" y1="632.70" x2="272.00" y2="632.70" stroke-width="8"/><line x1="3934.00" y1="632.70" x2="3917.00" y2="632.70" stroke-width="8"/><line x1="255.00" y1="579.84" x2="266.00" y2="579.84" stroke-width="4"/><line x1="3934.00" y1="579.84" x2="3923.00" y2="579.84" stroke-width="4"/><line x1="255.00" y1="526.98" x2="266.00" y2="526.98" stroke-width="4"/><line x1="3934.00" y1="526.98" x2="3923.00" y2="526.98" stroke-width="4"/><line x1="255.00" y1="474.12" x2="266.00" y2="474.12" stroke-width="4"/><line x1="3934.00" y1="474.12" x2="3923.00" y2="474.12" stroke-width="4"/><line x1="255.00" y1="421.26" x2="266.00" y2="421.26" stroke-width="4"/><line x1="3934.00" y1="421.26" x2="3923.00" y2="421.26" stroke-width="4"/><line x1="255.00" y1="368.40" x2="272.00" y2="368.40" stroke-width="8"/><line x1="3934.00" y1="368.40" x2="3917.00" y2="368.40" stroke-width="8"/><line x1="255.00" y1="315.54" x2="266.00" y2="315.54" stroke-width="4"/><line x1="3934.00" y1="315.54" x2="3923.00" y2="315.54" stroke-width="4"/></g>
<rect x="255" y="283" width="3679" height="1099" fill="none" stroke="#000" stroke-width="8"/>
<text font-size="77.18" transform="translate(1450.58,129.80) scale(0.9591,1)">GALAXY</text>
<text font-size="77.18" transform="translate(1767.85,129.80) scale(1.0933,1)">-</text>
<text font-size="77.18" transform="translate(1817.79,129.80) scale(1.0408,1)">ID:</text>
<text font-size="77.18" transform="translate(1946.12,129.80) scale(1.0821,1)">39628027616824715</text>
<text font-size="77.18" transform="translate(1418.80,211.60) scale(1.1050,1)">Night:</text>
<text font-size="77.18" transform="translate(1665.27,211.60) scale(1.0886,1)">20230227,</text>
<text font-size="77.18" transform="translate(2081.45,211.60) scale(1.0670,1)">Tile:</text>
<text font-size="77.18" transform="translate(2261.14,211.60) scale(1.0921,1)">8643,</text>
<text font-size="77.18" transform="translate(2494.14,211.60) scale(1.0365,1)">Petal:</text>
<text font-size="77.18" transform="translate(2724.12,211.60) scale(1.0061,1)">7</text>
<text font-size="64.83" transform="translate(466.54,1438.50) scale(1.0600,1)">4000</text>
<text font-size="64.83" transform="translate(1040.19,1438.50) scale(1.0684,1)">5000</text>
<text font-size="64.83" transform="translate(1614.27,1438.50) scale(1.0738,1)">6000</text>
<text font-size="64.83" transform="translate(2189.07,1438.50) scale(1.0740,1)">7000</text>
<text font-size="64.83" transform="translate(2764.47,1438.50) scale(1.0701,1)">8000</text>
<text font-size="64.83" transform="translate(3339.06,1438.50) scale(1.0718,1)">9000</text>
<text font-size="64.83" transform="translate(207.26,1184.30) scale(1.0036,1)">0</text>
<text font-size="64.83" transform="translate(168.41,920.00) scale(1.0304,1)">10</text>
<text font-size="64.83" transform="translate(167.73,655.70) scale(1.0631,1)">20</text>
<text font-size="64.83" transform="translate(169.46,391.40) scale(1.0282,1)">30</text>
<text font-size="63.62" font-style="italic" transform="translate(2025.36,1517.00) scale(1.0579,1)">λ</text><text font-size="64.80" transform="translate(2081.37,1513.50) scale(1.0017,0.9073)">[</text><text font-size="64.80" transform="translate(2105.38,1517.00) scale(0.9426,0.9940)">Å</text><text font-size="64.80" transform="translate(2151.70,1513.50) scale(0.9862,0.9073)">]</text>
<g transform="translate(140.1,1237) rotate(-90)" style="filter:blur(0px)"><text font-size="63.95" font-style="italic" transform="translate(-1.72,0.00) scale(0.8729,1)">F</text><text font-size="41.40" font-style="italic" transform="translate(35.06,8.60) scale(1.0970,1)">λ</text><text font-size="64.80" transform="translate(81.70,-3.30) scale(0.9318,0.9073)">[</text><text font-size="64.83" transform="translate(106.76,0.00) scale(0.9195,1)">1</text><text font-size="64.83" transform="translate(144.70,0.00) scale(0.9875,1)">0</text><text font-size="45.06" transform="translate(183.99,-22.40) scale(1.2197,1)">−</text><text font-size="45.06" transform="translate(220.42,-24.20) scale(0.9265,1)">1</text><text font-size="45.06" transform="translate(251.97,-24.20) scale(0.7470,1)">7</text><text font-size="62.23" transform="translate(295.10,0.00) scale(1.0958,1)">e</text><text font-size="62.23" transform="translate(332.89,0.00) scale(1.4783,1)">r</text><text font-size="62.23" transform="translate(361.73,0.00) scale(1.2506,1)">g</text><text font-size="62.23" transform="translate(407.34,0.00) scale(0.9582,1)">s</text><text font-size="45.06" transform="translate(441.36,-22.40) scale(1.1877,1)">−</text><text font-size="45.06" transform="translate(475.23,-24.20) scale(0.9523,1)">1</text><text font-size="62.23" transform="translate(512.65,0.00) scale(1.2672,1)">c</text><text font-size="62.23" transform="translate(548.45,0.00) scale(1.1008,1)">m</text><text font-size="45.06" transform="translate(608.46,-22.40) scale(1.1420,1)">−</text><text font-size="45.06" transform="translate(642.79,-24.20) scale(0.9743,1)">2</text><text font-size="64.80" transform="translate(682.39,0.00) scale(0.8821,0.9816)">Å</text><text font-size="45.06" transform="translate(725.51,-22.40) scale(1.1192,1)">−</text><text font-size="45.06" transform="translate(760.64,-24.20) scale(0.9780,1)">1</text><text font-size="64.80" transform="translate(794.49,-3.59) scale(1.0095,0.9139)">]</text></g>
</svg></body></html>
